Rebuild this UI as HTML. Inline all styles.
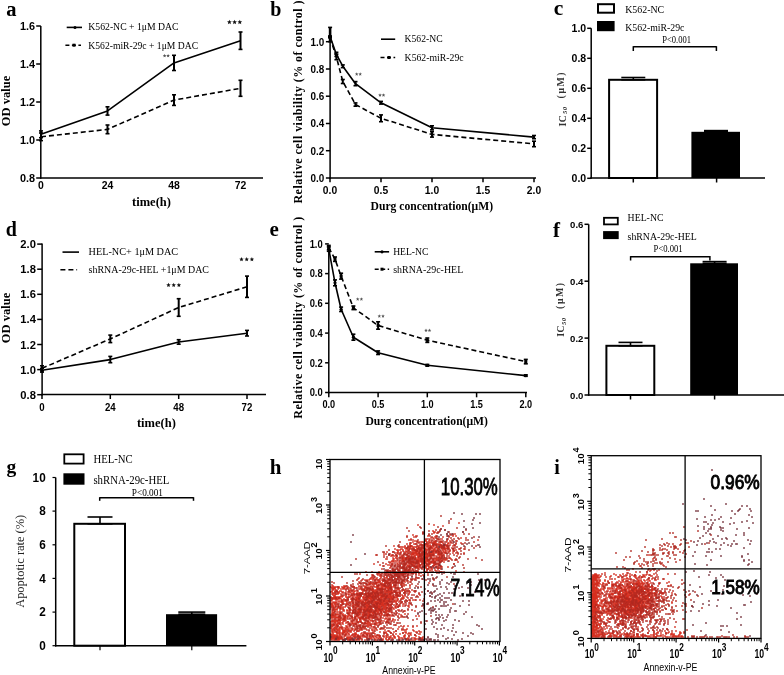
<!DOCTYPE html>
<html><head><meta charset="utf-8"><style>
html,body{margin:0;padding:0;background:#fff;}
svg{display:block;will-change:transform;}
</style></head><body>
<svg width="784" height="675" viewBox="0 0 784 675">
<rect width="784" height="675" fill="#fff"/>
<text x="6.3" y="15.6" font-family='"Liberation Serif",serif' font-size="20.5" font-weight="bold" text-anchor="start" fill="#000">a</text>
<line x1="40.8" y1="26.0" x2="40.8" y2="178.8" stroke="#000" stroke-width="1.5" stroke-linecap="butt"/>
<line x1="36.2" y1="178.0" x2="40.8" y2="178.0" stroke="#000" stroke-width="1.5" stroke-linecap="butt"/>
<text transform="translate(35.10,182.19) scale(0.93,1)" font-family='"Liberation Sans",sans-serif' font-size="11.7" font-weight="bold" text-anchor="end">0.8</text>
<line x1="36.2" y1="140.0" x2="40.8" y2="140.0" stroke="#000" stroke-width="1.5" stroke-linecap="butt"/>
<text transform="translate(35.10,144.19) scale(0.93,1)" font-family='"Liberation Sans",sans-serif' font-size="11.7" font-weight="bold" text-anchor="end">1.0</text>
<line x1="36.2" y1="102.0" x2="40.8" y2="102.0" stroke="#000" stroke-width="1.5" stroke-linecap="butt"/>
<text transform="translate(35.10,106.19) scale(0.93,1)" font-family='"Liberation Sans",sans-serif' font-size="11.7" font-weight="bold" text-anchor="end">1.2</text>
<line x1="36.2" y1="64.0" x2="40.8" y2="64.0" stroke="#000" stroke-width="1.5" stroke-linecap="butt"/>
<text transform="translate(35.10,68.19) scale(0.93,1)" font-family='"Liberation Sans",sans-serif' font-size="11.7" font-weight="bold" text-anchor="end">1.4</text>
<line x1="36.2" y1="26.0" x2="40.8" y2="26.0" stroke="#000" stroke-width="1.5" stroke-linecap="butt"/>
<text transform="translate(35.10,30.19) scale(0.93,1)" font-family='"Liberation Sans",sans-serif' font-size="11.7" font-weight="bold" text-anchor="end">1.6</text>
<line x1="40.0" y1="178.0" x2="263.0" y2="178.0" stroke="#000" stroke-width="1.5" stroke-linecap="butt"/>
<text transform="translate(41.00,188.80) scale(0.95,1)" font-family='"Liberation Sans",sans-serif' font-size="11" font-weight="bold" text-anchor="middle">0</text>
<text transform="translate(107.50,188.80) scale(0.95,1)" font-family='"Liberation Sans",sans-serif' font-size="11" font-weight="bold" text-anchor="middle">24</text>
<text transform="translate(174.01,188.80) scale(0.95,1)" font-family='"Liberation Sans",sans-serif' font-size="11" font-weight="bold" text-anchor="middle">48</text>
<text transform="translate(240.51,188.80) scale(0.95,1)" font-family='"Liberation Sans",sans-serif' font-size="11" font-weight="bold" text-anchor="middle">72</text>
<text x="10.0" y="101.0" font-family='"Liberation Serif",serif' font-size="12.5" font-weight="bold" text-anchor="middle" fill="#000" transform="rotate(-90 10.0 101.0)">OD value</text>
<text x="151.5" y="206.0" font-family='"Liberation Serif",serif' font-size="12.5" font-weight="bold" text-anchor="middle" fill="#000">time(h)</text>
<polyline points="41.0,134.3 107.5,110.9 174.0,62.9 240.5,40.7" fill="none" stroke="#000" stroke-width="1.6" stroke-linejoin="round"/>
<polyline points="41.0,136.8 107.5,129.4 174.0,100.1 240.5,88.3" fill="none" stroke="#000" stroke-width="1.6" stroke-linejoin="round" stroke-dasharray="5,3"/>
<line x1="41.0" y1="130.9" x2="41.0" y2="137.7" stroke="#000" stroke-width="2.0" stroke-linecap="butt"/>
<line x1="39.0" y1="130.9" x2="43.0" y2="130.9" stroke="#000" stroke-width="1.6" stroke-linecap="butt"/>
<line x1="39.0" y1="137.7" x2="43.0" y2="137.7" stroke="#000" stroke-width="1.6" stroke-linecap="butt"/>
<line x1="107.5" y1="106.8" x2="107.5" y2="115.1" stroke="#000" stroke-width="2.0" stroke-linecap="butt"/>
<line x1="105.5" y1="106.8" x2="109.5" y2="106.8" stroke="#000" stroke-width="1.6" stroke-linecap="butt"/>
<line x1="105.5" y1="115.1" x2="109.5" y2="115.1" stroke="#000" stroke-width="1.6" stroke-linecap="butt"/>
<line x1="174.0" y1="55.3" x2="174.0" y2="70.5" stroke="#000" stroke-width="2.0" stroke-linecap="butt"/>
<line x1="172.0" y1="55.3" x2="176.0" y2="55.3" stroke="#000" stroke-width="1.6" stroke-linecap="butt"/>
<line x1="172.0" y1="70.5" x2="176.0" y2="70.5" stroke="#000" stroke-width="1.6" stroke-linecap="butt"/>
<line x1="240.5" y1="32.0" x2="240.5" y2="49.4" stroke="#000" stroke-width="2.0" stroke-linecap="butt"/>
<line x1="238.5" y1="32.0" x2="242.5" y2="32.0" stroke="#000" stroke-width="1.6" stroke-linecap="butt"/>
<line x1="238.5" y1="49.4" x2="242.5" y2="49.4" stroke="#000" stroke-width="1.6" stroke-linecap="butt"/>
<line x1="41.0" y1="133.0" x2="41.0" y2="140.6" stroke="#000" stroke-width="2.0" stroke-linecap="butt"/>
<line x1="39.0" y1="133.0" x2="43.0" y2="133.0" stroke="#000" stroke-width="1.6" stroke-linecap="butt"/>
<line x1="39.0" y1="140.6" x2="43.0" y2="140.6" stroke="#000" stroke-width="1.6" stroke-linecap="butt"/>
<line x1="107.5" y1="125.0" x2="107.5" y2="133.7" stroke="#000" stroke-width="2.0" stroke-linecap="butt"/>
<line x1="105.5" y1="125.0" x2="109.5" y2="125.0" stroke="#000" stroke-width="1.6" stroke-linecap="butt"/>
<line x1="105.5" y1="133.7" x2="109.5" y2="133.7" stroke="#000" stroke-width="1.6" stroke-linecap="butt"/>
<line x1="174.0" y1="94.8" x2="174.0" y2="105.4" stroke="#000" stroke-width="2.0" stroke-linecap="butt"/>
<line x1="172.0" y1="94.8" x2="176.0" y2="94.8" stroke="#000" stroke-width="1.6" stroke-linecap="butt"/>
<line x1="172.0" y1="105.4" x2="176.0" y2="105.4" stroke="#000" stroke-width="1.6" stroke-linecap="butt"/>
<line x1="240.5" y1="80.3" x2="240.5" y2="96.3" stroke="#000" stroke-width="2.0" stroke-linecap="butt"/>
<line x1="238.5" y1="80.3" x2="242.5" y2="80.3" stroke="#000" stroke-width="1.6" stroke-linecap="butt"/>
<line x1="238.5" y1="96.3" x2="242.5" y2="96.3" stroke="#000" stroke-width="1.6" stroke-linecap="butt"/>
<polygon points="229.40,19.70 230.06,21.29 231.78,21.43 230.47,22.55 230.87,24.22 229.40,23.32 227.93,24.22 228.33,22.55 227.02,21.43 228.74,21.29" fill="#111"/>
<polygon points="234.60,19.70 235.26,21.29 236.98,21.43 235.67,22.55 236.07,24.22 234.60,23.32 233.13,24.22 233.53,22.55 232.22,21.43 233.94,21.29" fill="#111"/>
<polygon points="239.80,19.70 240.46,21.29 242.18,21.43 240.87,22.55 241.27,24.22 239.80,23.32 238.33,24.22 238.73,22.55 237.42,21.43 239.14,21.29" fill="#111"/>
<polygon points="164.60,53.90 165.10,55.11 166.41,55.21 165.41,56.06 165.72,57.34 164.60,56.65 163.48,57.34 163.79,56.06 162.79,55.21 164.10,55.11" fill="#555"/>
<polygon points="168.10,53.90 168.60,55.11 169.91,55.21 168.91,56.06 169.22,57.34 168.10,56.65 166.98,57.34 167.29,56.06 166.29,55.21 167.60,55.11" fill="#555"/>
<line x1="66.7" y1="27.4" x2="82.0" y2="27.4" stroke="#000" stroke-width="1.6" stroke-linecap="butt"/>
<circle cx="75.0" cy="27.4" r="1.5" fill="#000"/>
<line x1="65.4" y1="45.2" x2="81.0" y2="45.2" stroke="#000" stroke-width="1.6" stroke-linecap="butt" stroke-dasharray="4,2.5"/>
<rect x="72.5" y="43.7" width="3" height="3" fill="#000"/>
<text x="88.3" y="30.3" font-family='"Liberation Serif",serif' font-size="11" font-weight="normal" text-anchor="start" fill="#000" textLength="90.3" lengthAdjust="spacingAndGlyphs">K562-NC + 1μM DAC</text>
<text x="88.3" y="49.4" font-family='"Liberation Serif",serif' font-size="11" font-weight="normal" text-anchor="start" fill="#000" textLength="109.8" lengthAdjust="spacingAndGlyphs">K562-miR-29c + 1μM DAC</text>
<text x="270.3" y="15.6" font-family='"Liberation Serif",serif' font-size="20" font-weight="bold" text-anchor="start" fill="#000">b</text>
<line x1="330.1" y1="38.0" x2="330.1" y2="178.8" stroke="#000" stroke-width="1.5" stroke-linecap="butt"/>
<line x1="325.9" y1="178.0" x2="330.1" y2="178.0" stroke="#000" stroke-width="1.5" stroke-linecap="butt"/>
<text transform="translate(324.20,181.94) scale(0.9,1)" font-family='"Liberation Sans",sans-serif' font-size="11" font-weight="bold" text-anchor="end">0.0</text>
<line x1="325.9" y1="150.7" x2="330.1" y2="150.7" stroke="#000" stroke-width="1.5" stroke-linecap="butt"/>
<text transform="translate(324.20,154.68) scale(0.9,1)" font-family='"Liberation Sans",sans-serif' font-size="11" font-weight="bold" text-anchor="end">0.2</text>
<line x1="325.9" y1="123.5" x2="330.1" y2="123.5" stroke="#000" stroke-width="1.5" stroke-linecap="butt"/>
<text transform="translate(324.20,127.42) scale(0.9,1)" font-family='"Liberation Sans",sans-serif' font-size="11" font-weight="bold" text-anchor="end">0.4</text>
<line x1="325.9" y1="96.2" x2="330.1" y2="96.2" stroke="#000" stroke-width="1.5" stroke-linecap="butt"/>
<text transform="translate(324.20,100.16) scale(0.9,1)" font-family='"Liberation Sans",sans-serif' font-size="11" font-weight="bold" text-anchor="end">0.6</text>
<line x1="325.9" y1="69.0" x2="330.1" y2="69.0" stroke="#000" stroke-width="1.5" stroke-linecap="butt"/>
<text transform="translate(324.20,72.90) scale(0.9,1)" font-family='"Liberation Sans",sans-serif' font-size="11" font-weight="bold" text-anchor="end">0.8</text>
<line x1="325.9" y1="41.7" x2="330.1" y2="41.7" stroke="#000" stroke-width="1.5" stroke-linecap="butt"/>
<text transform="translate(324.20,45.64) scale(0.9,1)" font-family='"Liberation Sans",sans-serif' font-size="11" font-weight="bold" text-anchor="end">1.0</text>
<line x1="329.4" y1="178.0" x2="536.0" y2="178.0" stroke="#000" stroke-width="1.5" stroke-linecap="butt"/>
<line x1="330.0" y1="178.0" x2="330.0" y2="182.2" stroke="#000" stroke-width="1.5" stroke-linecap="butt"/>
<text transform="translate(330.00,193.80) scale(0.98,1)" font-family='"Liberation Sans",sans-serif' font-size="10.5" font-weight="bold" text-anchor="middle">0.0</text>
<line x1="381.0" y1="178.0" x2="381.0" y2="182.2" stroke="#000" stroke-width="1.5" stroke-linecap="butt"/>
<text transform="translate(381.00,193.80) scale(0.98,1)" font-family='"Liberation Sans",sans-serif' font-size="10.5" font-weight="bold" text-anchor="middle">0.5</text>
<line x1="432.0" y1="178.0" x2="432.0" y2="182.2" stroke="#000" stroke-width="1.5" stroke-linecap="butt"/>
<text transform="translate(432.00,193.80) scale(0.98,1)" font-family='"Liberation Sans",sans-serif' font-size="10.5" font-weight="bold" text-anchor="middle">1.0</text>
<line x1="483.0" y1="178.0" x2="483.0" y2="182.2" stroke="#000" stroke-width="1.5" stroke-linecap="butt"/>
<text transform="translate(483.00,193.80) scale(0.98,1)" font-family='"Liberation Sans",sans-serif' font-size="10.5" font-weight="bold" text-anchor="middle">1.5</text>
<line x1="534.0" y1="178.0" x2="534.0" y2="182.2" stroke="#000" stroke-width="1.5" stroke-linecap="butt"/>
<text transform="translate(534.00,193.80) scale(0.98,1)" font-family='"Liberation Sans",sans-serif' font-size="10.5" font-weight="bold" text-anchor="middle">2.0</text>
<text x="302.3" y="102.0" font-family='"Liberation Serif",serif' font-size="12" font-weight="bold" text-anchor="middle" fill="#000" transform="rotate(-90 302.3 102.0)" textLength="203" lengthAdjust="spacing">Relative cell viability (% of control )</text>
<text x="431.8" y="210.3" font-family='"Liberation Serif",serif' font-size="12" font-weight="bold" text-anchor="middle" fill="#000" textLength="122.5" lengthAdjust="spacingAndGlyphs">Durg concentration(μM)</text>
<polyline points="330.0,36.2 336.4,54.4 342.8,66.2 355.5,83.7 381.0,102.8 432.0,127.8 534.0,137.1" fill="none" stroke="#000" stroke-width="1.6" stroke-linejoin="round"/>
<polyline points="330.0,37.6 336.4,57.0 342.8,81.5 355.5,104.5 381.0,118.3 432.0,134.4 534.0,143.9" fill="none" stroke="#000" stroke-width="1.6" stroke-linejoin="round" stroke-dasharray="5,3"/>
<line x1="330.0" y1="36.2" x2="330.0" y2="36.2" stroke="#000" stroke-width="2.0" stroke-linecap="butt"/>
<line x1="328.0" y1="36.2" x2="332.0" y2="36.2" stroke="#000" stroke-width="1.6" stroke-linecap="butt"/>
<line x1="328.0" y1="36.2" x2="332.0" y2="36.2" stroke="#000" stroke-width="1.6" stroke-linecap="butt"/>
<line x1="336.4" y1="52.3" x2="336.4" y2="56.4" stroke="#000" stroke-width="2.0" stroke-linecap="butt"/>
<line x1="334.4" y1="52.3" x2="338.4" y2="52.3" stroke="#000" stroke-width="1.6" stroke-linecap="butt"/>
<line x1="334.4" y1="56.4" x2="338.4" y2="56.4" stroke="#000" stroke-width="1.6" stroke-linecap="butt"/>
<line x1="342.8" y1="64.9" x2="342.8" y2="67.6" stroke="#000" stroke-width="2.0" stroke-linecap="butt"/>
<line x1="340.8" y1="64.9" x2="344.8" y2="64.9" stroke="#000" stroke-width="1.6" stroke-linecap="butt"/>
<line x1="340.8" y1="67.6" x2="344.8" y2="67.6" stroke="#000" stroke-width="1.6" stroke-linecap="butt"/>
<line x1="355.5" y1="81.6" x2="355.5" y2="85.7" stroke="#000" stroke-width="2.0" stroke-linecap="butt"/>
<line x1="353.5" y1="81.6" x2="357.5" y2="81.6" stroke="#000" stroke-width="1.6" stroke-linecap="butt"/>
<line x1="353.5" y1="85.7" x2="357.5" y2="85.7" stroke="#000" stroke-width="1.6" stroke-linecap="butt"/>
<line x1="381.0" y1="101.4" x2="381.0" y2="104.1" stroke="#000" stroke-width="2.0" stroke-linecap="butt"/>
<line x1="379.0" y1="101.4" x2="383.0" y2="101.4" stroke="#000" stroke-width="1.6" stroke-linecap="butt"/>
<line x1="379.0" y1="104.1" x2="383.0" y2="104.1" stroke="#000" stroke-width="1.6" stroke-linecap="butt"/>
<line x1="432.0" y1="125.8" x2="432.0" y2="129.9" stroke="#000" stroke-width="2.0" stroke-linecap="butt"/>
<line x1="430.0" y1="125.8" x2="434.0" y2="125.8" stroke="#000" stroke-width="1.6" stroke-linecap="butt"/>
<line x1="430.0" y1="129.9" x2="434.0" y2="129.9" stroke="#000" stroke-width="1.6" stroke-linecap="butt"/>
<line x1="534.0" y1="135.5" x2="534.0" y2="138.7" stroke="#000" stroke-width="2.0" stroke-linecap="butt"/>
<line x1="532.0" y1="135.5" x2="536.0" y2="135.5" stroke="#000" stroke-width="1.6" stroke-linecap="butt"/>
<line x1="532.0" y1="138.7" x2="536.0" y2="138.7" stroke="#000" stroke-width="1.6" stroke-linecap="butt"/>
<line x1="330.0" y1="37.6" x2="330.0" y2="37.6" stroke="#000" stroke-width="2.0" stroke-linecap="butt"/>
<line x1="328.0" y1="37.6" x2="332.0" y2="37.6" stroke="#000" stroke-width="1.6" stroke-linecap="butt"/>
<line x1="328.0" y1="37.6" x2="332.0" y2="37.6" stroke="#000" stroke-width="1.6" stroke-linecap="butt"/>
<line x1="336.4" y1="54.2" x2="336.4" y2="59.7" stroke="#000" stroke-width="2.0" stroke-linecap="butt"/>
<line x1="334.4" y1="54.2" x2="338.4" y2="54.2" stroke="#000" stroke-width="1.6" stroke-linecap="butt"/>
<line x1="334.4" y1="59.7" x2="338.4" y2="59.7" stroke="#000" stroke-width="1.6" stroke-linecap="butt"/>
<line x1="342.8" y1="79.5" x2="342.8" y2="83.5" stroke="#000" stroke-width="2.0" stroke-linecap="butt"/>
<line x1="340.8" y1="79.5" x2="344.8" y2="79.5" stroke="#000" stroke-width="1.6" stroke-linecap="butt"/>
<line x1="340.8" y1="83.5" x2="344.8" y2="83.5" stroke="#000" stroke-width="1.6" stroke-linecap="butt"/>
<line x1="355.5" y1="102.9" x2="355.5" y2="106.2" stroke="#000" stroke-width="2.0" stroke-linecap="butt"/>
<line x1="353.5" y1="102.9" x2="357.5" y2="102.9" stroke="#000" stroke-width="1.6" stroke-linecap="butt"/>
<line x1="353.5" y1="106.2" x2="357.5" y2="106.2" stroke="#000" stroke-width="1.6" stroke-linecap="butt"/>
<line x1="381.0" y1="114.9" x2="381.0" y2="121.7" stroke="#000" stroke-width="2.0" stroke-linecap="butt"/>
<line x1="379.0" y1="114.9" x2="383.0" y2="114.9" stroke="#000" stroke-width="1.6" stroke-linecap="butt"/>
<line x1="379.0" y1="121.7" x2="383.0" y2="121.7" stroke="#000" stroke-width="1.6" stroke-linecap="butt"/>
<line x1="432.0" y1="131.7" x2="432.0" y2="137.1" stroke="#000" stroke-width="2.0" stroke-linecap="butt"/>
<line x1="430.0" y1="131.7" x2="434.0" y2="131.7" stroke="#000" stroke-width="1.6" stroke-linecap="butt"/>
<line x1="430.0" y1="137.1" x2="434.0" y2="137.1" stroke="#000" stroke-width="1.6" stroke-linecap="butt"/>
<line x1="534.0" y1="141.2" x2="534.0" y2="146.7" stroke="#000" stroke-width="2.0" stroke-linecap="butt"/>
<line x1="532.0" y1="141.2" x2="536.0" y2="141.2" stroke="#000" stroke-width="1.6" stroke-linecap="butt"/>
<line x1="532.0" y1="146.7" x2="536.0" y2="146.7" stroke="#000" stroke-width="1.6" stroke-linecap="butt"/>
<line x1="330.1" y1="27.4" x2="330.1" y2="41.7" stroke="#000" stroke-width="2.6" stroke-linecap="butt"/>
<line x1="328.1" y1="27.4" x2="332.1" y2="27.4" stroke="#000" stroke-width="1.6" stroke-linecap="butt"/>
<line x1="328.1" y1="41.7" x2="332.1" y2="41.7" stroke="#000" stroke-width="1.6" stroke-linecap="butt"/>
<polygon points="356.70,72.20 357.20,73.41 358.51,73.51 357.51,74.36 357.82,75.64 356.70,74.95 355.58,75.64 355.89,74.36 354.89,73.51 356.20,73.41" fill="#555"/>
<polygon points="360.20,72.20 360.70,73.41 362.01,73.51 361.01,74.36 361.32,75.64 360.20,74.95 359.08,75.64 359.39,74.36 358.39,73.51 359.70,73.41" fill="#555"/>
<polygon points="380.00,93.30 380.50,94.51 381.81,94.61 380.81,95.46 381.12,96.74 380.00,96.06 378.88,96.74 379.19,95.46 378.19,94.61 379.50,94.51" fill="#555"/>
<polygon points="383.50,93.30 384.00,94.51 385.31,94.61 384.31,95.46 384.62,96.74 383.50,96.06 382.38,96.74 382.69,95.46 381.69,94.61 383.00,94.51" fill="#555"/>
<line x1="381.0" y1="39.2" x2="395.2" y2="39.2" stroke="#000" stroke-width="1.6" stroke-linecap="butt"/>
<line x1="380.5" y1="57.5" x2="395.2" y2="57.5" stroke="#000" stroke-width="1.6" stroke-linecap="butt" stroke-dasharray="4,2.5"/>
<rect x="387.5" y="56.0" width="3" height="3" fill="#000"/>
<text x="404.6" y="42.1" font-family='"Liberation Serif",serif' font-size="9.8" font-weight="normal" text-anchor="start" fill="#000" textLength="38" lengthAdjust="spacingAndGlyphs">K562-NC</text>
<text x="404.6" y="60.6" font-family='"Liberation Serif",serif' font-size="9.8" font-weight="normal" text-anchor="start" fill="#000" textLength="59" lengthAdjust="spacingAndGlyphs">K562-miR-29c</text>
<text x="553.8" y="15.4" font-family='"Liberation Serif",serif' font-size="21.5" font-weight="bold" text-anchor="start" fill="#000">c</text>
<line x1="591.2" y1="28.3" x2="591.2" y2="178.8" stroke="#000" stroke-width="1.5" stroke-linecap="butt"/>
<line x1="587.2" y1="178.3" x2="591.2" y2="178.3" stroke="#000" stroke-width="1.5" stroke-linecap="butt"/>
<text transform="translate(586.20,182.49) scale(0.9,1)" font-family='"Liberation Sans",sans-serif' font-size="11.7" font-weight="bold" text-anchor="end">0.0</text>
<line x1="587.2" y1="148.3" x2="591.2" y2="148.3" stroke="#000" stroke-width="1.5" stroke-linecap="butt"/>
<text transform="translate(586.20,152.49) scale(0.9,1)" font-family='"Liberation Sans",sans-serif' font-size="11.7" font-weight="bold" text-anchor="end">0.2</text>
<line x1="587.2" y1="118.3" x2="591.2" y2="118.3" stroke="#000" stroke-width="1.5" stroke-linecap="butt"/>
<text transform="translate(586.20,122.49) scale(0.9,1)" font-family='"Liberation Sans",sans-serif' font-size="11.7" font-weight="bold" text-anchor="end">0.4</text>
<line x1="587.2" y1="88.3" x2="591.2" y2="88.3" stroke="#000" stroke-width="1.5" stroke-linecap="butt"/>
<text transform="translate(586.20,92.49) scale(0.9,1)" font-family='"Liberation Sans",sans-serif' font-size="11.7" font-weight="bold" text-anchor="end">0.6</text>
<line x1="587.2" y1="58.3" x2="591.2" y2="58.3" stroke="#000" stroke-width="1.5" stroke-linecap="butt"/>
<text transform="translate(586.20,62.49) scale(0.9,1)" font-family='"Liberation Sans",sans-serif' font-size="11.7" font-weight="bold" text-anchor="end">0.8</text>
<line x1="587.2" y1="28.3" x2="591.2" y2="28.3" stroke="#000" stroke-width="1.5" stroke-linecap="butt"/>
<text transform="translate(586.20,32.49) scale(0.9,1)" font-family='"Liberation Sans",sans-serif' font-size="11.7" font-weight="bold" text-anchor="end">1.0</text>
<line x1="590.2" y1="178.0" x2="765.0" y2="178.0" stroke="#000" stroke-width="1.5" stroke-linecap="butt"/>
<line x1="633.3" y1="178.0" x2="633.3" y2="182.5" stroke="#000" stroke-width="1.5" stroke-linecap="butt"/>
<line x1="716.6" y1="178.0" x2="716.6" y2="182.5" stroke="#000" stroke-width="1.5" stroke-linecap="butt"/>
<rect x="609.1" y="79.8" width="48.0" height="98.2" fill="#fff" stroke="#000" stroke-width="2"/>
<line x1="633.3" y1="77.5" x2="633.3" y2="79.8" stroke="#000" stroke-width="1.6" stroke-linecap="butt"/>
<line x1="621.3" y1="77.5" x2="645.3" y2="77.5" stroke="#000" stroke-width="1.6" stroke-linecap="butt"/>
<line x1="621.3" y1="79.8" x2="645.3" y2="79.8" stroke="#000" stroke-width="1.6" stroke-linecap="butt"/>
<rect x="691.4" y="131.8" width="48.6" height="46.2" fill="#000"/>
<line x1="716.0" y1="130.6" x2="716.0" y2="131.8" stroke="#000" stroke-width="1.6" stroke-linecap="butt"/>
<line x1="704.0" y1="130.6" x2="728.0" y2="130.6" stroke="#000" stroke-width="1.6" stroke-linecap="butt"/>
<line x1="704.0" y1="131.8" x2="728.0" y2="131.8" stroke="#000" stroke-width="1.6" stroke-linecap="butt"/>
<line x1="633.3" y1="46.8" x2="716.4" y2="46.8" stroke="#000" stroke-width="1.5" stroke-linecap="butt"/>
<line x1="633.3" y1="46.2" x2="633.3" y2="51.0" stroke="#000" stroke-width="1.5" stroke-linecap="butt"/>
<line x1="716.4" y1="46.2" x2="716.4" y2="51.0" stroke="#000" stroke-width="1.5" stroke-linecap="butt"/>
<text x="662.2" y="43.0" font-family='"Liberation Serif",serif' font-size="9.5" font-weight="normal" text-anchor="start" fill="#000" textLength="28.8" lengthAdjust="spacingAndGlyphs">P&lt;0.001</text>
<rect x="598.0" y="4.2" width="16.0" height="8.5" fill="#fff" stroke="#000" stroke-width="2"/>
<rect x="597.0" y="21.0" width="17.6" height="10.2" fill="#000"/>
<text x="625.2" y="12.5" font-family='"Liberation Serif",serif' font-size="10.7" font-weight="normal" text-anchor="start" fill="#000" textLength="39" lengthAdjust="spacingAndGlyphs">K562-NC</text>
<text x="625.2" y="31.2" font-family='"Liberation Serif",serif' font-size="10.7" font-weight="normal" text-anchor="start" fill="#000" textLength="59.2" lengthAdjust="spacingAndGlyphs">K562-miR-29c</text>
<g transform="translate(565.6,126.4) rotate(-90)" fill="#333" font-weight="bold" font-family='"Liberation Serif",serif'><text x="0" y="0" font-size="9.8" textLength="11.2" lengthAdjust="spacing">IC</text><text x="12.4" y="1.6" font-size="6.5" font-style="italic" textLength="7" lengthAdjust="spacing">50</text><text x="28" y="-1.2" font-size="9.8" textLength="26" lengthAdjust="spacing">(μM)</text></g>
<text x="5.8" y="236.2" font-family='"Liberation Serif",serif' font-size="20" font-weight="bold" text-anchor="start" fill="#000">d</text>
<line x1="42.1" y1="243.6" x2="42.1" y2="395.4" stroke="#000" stroke-width="1.5" stroke-linecap="butt"/>
<line x1="37.2" y1="394.7" x2="42.1" y2="394.7" stroke="#000" stroke-width="1.5" stroke-linecap="butt"/>
<text transform="translate(35.90,398.71) scale(1.0,1)" font-family='"Liberation Sans",sans-serif' font-size="11.2" font-weight="bold" text-anchor="end">0.8</text>
<line x1="37.2" y1="369.6" x2="42.1" y2="369.6" stroke="#000" stroke-width="1.5" stroke-linecap="butt"/>
<text transform="translate(35.90,373.61) scale(1.0,1)" font-family='"Liberation Sans",sans-serif' font-size="11.2" font-weight="bold" text-anchor="end">1.0</text>
<line x1="37.2" y1="344.5" x2="42.1" y2="344.5" stroke="#000" stroke-width="1.5" stroke-linecap="butt"/>
<text transform="translate(35.90,348.51) scale(1.0,1)" font-family='"Liberation Sans",sans-serif' font-size="11.2" font-weight="bold" text-anchor="end">1.2</text>
<line x1="37.2" y1="319.4" x2="42.1" y2="319.4" stroke="#000" stroke-width="1.5" stroke-linecap="butt"/>
<text transform="translate(35.90,323.41) scale(1.0,1)" font-family='"Liberation Sans",sans-serif' font-size="11.2" font-weight="bold" text-anchor="end">1.4</text>
<line x1="37.2" y1="294.3" x2="42.1" y2="294.3" stroke="#000" stroke-width="1.5" stroke-linecap="butt"/>
<text transform="translate(35.90,298.31) scale(1.0,1)" font-family='"Liberation Sans",sans-serif' font-size="11.2" font-weight="bold" text-anchor="end">1.6</text>
<line x1="37.2" y1="269.2" x2="42.1" y2="269.2" stroke="#000" stroke-width="1.5" stroke-linecap="butt"/>
<text transform="translate(35.90,273.21) scale(1.0,1)" font-family='"Liberation Sans",sans-serif' font-size="11.2" font-weight="bold" text-anchor="end">1.8</text>
<line x1="37.2" y1="244.1" x2="42.1" y2="244.1" stroke="#000" stroke-width="1.5" stroke-linecap="butt"/>
<text transform="translate(35.90,248.11) scale(1.0,1)" font-family='"Liberation Sans",sans-serif' font-size="11.2" font-weight="bold" text-anchor="end">2.0</text>
<line x1="41.4" y1="394.6" x2="266.0" y2="394.6" stroke="#000" stroke-width="1.5" stroke-linecap="butt"/>
<line x1="42.0" y1="394.6" x2="42.0" y2="399.0" stroke="#000" stroke-width="1.5" stroke-linecap="butt"/>
<text transform="translate(42.00,411.30) scale(0.92,1)" font-family='"Liberation Sans",sans-serif' font-size="10.5" font-weight="bold" text-anchor="middle">0</text>
<line x1="110.3" y1="394.6" x2="110.3" y2="399.0" stroke="#000" stroke-width="1.5" stroke-linecap="butt"/>
<text transform="translate(110.33,411.30) scale(0.92,1)" font-family='"Liberation Sans",sans-serif' font-size="10.5" font-weight="bold" text-anchor="middle">24</text>
<line x1="178.7" y1="394.6" x2="178.7" y2="399.0" stroke="#000" stroke-width="1.5" stroke-linecap="butt"/>
<text transform="translate(178.66,411.30) scale(0.92,1)" font-family='"Liberation Sans",sans-serif' font-size="10.5" font-weight="bold" text-anchor="middle">48</text>
<line x1="247.0" y1="394.6" x2="247.0" y2="399.0" stroke="#000" stroke-width="1.5" stroke-linecap="butt"/>
<text transform="translate(246.98,411.30) scale(0.92,1)" font-family='"Liberation Sans",sans-serif' font-size="10.5" font-weight="bold" text-anchor="middle">72</text>
<text x="10.0" y="318.0" font-family='"Liberation Serif",serif' font-size="12.5" font-weight="bold" text-anchor="middle" fill="#000" transform="rotate(-90 10.0 318.0)">OD value</text>
<text x="156.4" y="427.3" font-family='"Liberation Serif",serif' font-size="12.5" font-weight="bold" text-anchor="middle" fill="#000">time(h)</text>
<polyline points="42.0,370.2 110.3,359.6 178.7,342.0 247.0,333.2" fill="none" stroke="#000" stroke-width="1.6" stroke-linejoin="round"/>
<polyline points="42.0,368.3 110.3,338.9 178.7,307.5 247.0,286.8" fill="none" stroke="#000" stroke-width="1.6" stroke-linejoin="round" stroke-dasharray="5,3"/>
<line x1="42.0" y1="368.3" x2="42.0" y2="372.1" stroke="#000" stroke-width="2.0" stroke-linecap="butt"/>
<line x1="40.0" y1="368.3" x2="44.0" y2="368.3" stroke="#000" stroke-width="1.6" stroke-linecap="butt"/>
<line x1="40.0" y1="372.1" x2="44.0" y2="372.1" stroke="#000" stroke-width="1.6" stroke-linecap="butt"/>
<line x1="110.3" y1="356.4" x2="110.3" y2="362.7" stroke="#000" stroke-width="2.0" stroke-linecap="butt"/>
<line x1="108.3" y1="356.4" x2="112.3" y2="356.4" stroke="#000" stroke-width="1.6" stroke-linecap="butt"/>
<line x1="108.3" y1="362.7" x2="112.3" y2="362.7" stroke="#000" stroke-width="1.6" stroke-linecap="butt"/>
<line x1="178.7" y1="339.7" x2="178.7" y2="344.2" stroke="#000" stroke-width="2.0" stroke-linecap="butt"/>
<line x1="176.7" y1="339.7" x2="180.7" y2="339.7" stroke="#000" stroke-width="1.6" stroke-linecap="butt"/>
<line x1="176.7" y1="344.2" x2="180.7" y2="344.2" stroke="#000" stroke-width="1.6" stroke-linecap="butt"/>
<line x1="247.0" y1="330.4" x2="247.0" y2="336.0" stroke="#000" stroke-width="2.0" stroke-linecap="butt"/>
<line x1="245.0" y1="330.4" x2="249.0" y2="330.4" stroke="#000" stroke-width="1.6" stroke-linecap="butt"/>
<line x1="245.0" y1="336.0" x2="249.0" y2="336.0" stroke="#000" stroke-width="1.6" stroke-linecap="butt"/>
<line x1="42.0" y1="365.8" x2="42.0" y2="370.9" stroke="#000" stroke-width="2.0" stroke-linecap="butt"/>
<line x1="40.0" y1="365.8" x2="44.0" y2="365.8" stroke="#000" stroke-width="1.6" stroke-linecap="butt"/>
<line x1="40.0" y1="370.9" x2="44.0" y2="370.9" stroke="#000" stroke-width="1.6" stroke-linecap="butt"/>
<line x1="110.3" y1="335.1" x2="110.3" y2="342.6" stroke="#000" stroke-width="2.0" stroke-linecap="butt"/>
<line x1="108.3" y1="335.1" x2="112.3" y2="335.1" stroke="#000" stroke-width="1.6" stroke-linecap="butt"/>
<line x1="108.3" y1="342.6" x2="112.3" y2="342.6" stroke="#000" stroke-width="1.6" stroke-linecap="butt"/>
<line x1="178.7" y1="298.7" x2="178.7" y2="316.3" stroke="#000" stroke-width="2.0" stroke-linecap="butt"/>
<line x1="176.7" y1="298.7" x2="180.7" y2="298.7" stroke="#000" stroke-width="1.6" stroke-linecap="butt"/>
<line x1="176.7" y1="316.3" x2="180.7" y2="316.3" stroke="#000" stroke-width="1.6" stroke-linecap="butt"/>
<line x1="247.0" y1="276.1" x2="247.0" y2="297.4" stroke="#000" stroke-width="2.0" stroke-linecap="butt"/>
<line x1="245.0" y1="276.1" x2="249.0" y2="276.1" stroke="#000" stroke-width="1.6" stroke-linecap="butt"/>
<line x1="245.0" y1="297.4" x2="249.0" y2="297.4" stroke="#000" stroke-width="1.6" stroke-linecap="butt"/>
<polygon points="168.50,282.80 169.11,284.26 170.69,284.39 169.48,285.42 169.85,286.96 168.50,286.14 167.15,286.96 167.52,285.42 166.31,284.39 167.89,284.26" fill="#111"/>
<polygon points="173.70,282.80 174.31,284.26 175.89,284.39 174.68,285.42 175.05,286.96 173.70,286.14 172.35,286.96 172.72,285.42 171.51,284.39 173.09,284.26" fill="#111"/>
<polygon points="178.90,282.80 179.51,284.26 181.09,284.39 179.88,285.42 180.25,286.96 178.90,286.14 177.55,286.96 177.92,285.42 176.71,284.39 178.29,284.26" fill="#111"/>
<polygon points="241.50,257.10 242.11,258.56 243.69,258.69 242.48,259.72 242.85,261.26 241.50,260.44 240.15,261.26 240.52,259.72 239.31,258.69 240.89,258.56" fill="#111"/>
<polygon points="246.70,257.10 247.31,258.56 248.89,258.69 247.68,259.72 248.05,261.26 246.70,260.44 245.35,261.26 245.72,259.72 244.51,258.69 246.09,258.56" fill="#111"/>
<polygon points="251.90,257.10 252.51,258.56 254.09,258.69 252.88,259.72 253.25,261.26 251.90,260.44 250.55,261.26 250.92,259.72 249.71,258.69 251.29,258.56" fill="#111"/>
<line x1="62.5" y1="252.1" x2="79.0" y2="252.1" stroke="#000" stroke-width="1.6" stroke-linecap="butt"/>
<line x1="60.4" y1="269.8" x2="77.1" y2="269.8" stroke="#000" stroke-width="1.6" stroke-linecap="butt" stroke-dasharray="5,3"/>
<text x="88.6" y="254.8" font-family='"Liberation Serif",serif' font-size="10.8" font-weight="normal" text-anchor="start" fill="#000" textLength="89.6" lengthAdjust="spacingAndGlyphs">HEL-NC+ 1μM DAC</text>
<text x="88.6" y="272.8" font-family='"Liberation Serif",serif' font-size="10.8" font-weight="normal" text-anchor="start" fill="#000" textLength="120.4" lengthAdjust="spacingAndGlyphs">shRNA-29c-HEL +1μM DAC</text>
<text x="269.6" y="236.1" font-family='"Liberation Serif",serif' font-size="21" font-weight="bold" text-anchor="start" fill="#000">e</text>
<line x1="328.8" y1="245.1" x2="328.8" y2="393.2" stroke="#000" stroke-width="1.5" stroke-linecap="butt"/>
<line x1="325.1" y1="392.5" x2="328.8" y2="392.5" stroke="#000" stroke-width="1.5" stroke-linecap="butt"/>
<text transform="translate(322.70,396.37) scale(0.87,1)" font-family='"Liberation Sans",sans-serif' font-size="10.8" font-weight="bold" text-anchor="end">0.0</text>
<line x1="325.1" y1="362.8" x2="328.8" y2="362.8" stroke="#000" stroke-width="1.5" stroke-linecap="butt"/>
<text transform="translate(322.70,366.65) scale(0.87,1)" font-family='"Liberation Sans",sans-serif' font-size="10.8" font-weight="bold" text-anchor="end">0.2</text>
<line x1="325.1" y1="333.1" x2="328.8" y2="333.1" stroke="#000" stroke-width="1.5" stroke-linecap="butt"/>
<text transform="translate(322.70,336.93) scale(0.87,1)" font-family='"Liberation Sans",sans-serif' font-size="10.8" font-weight="bold" text-anchor="end">0.4</text>
<line x1="325.1" y1="303.3" x2="328.8" y2="303.3" stroke="#000" stroke-width="1.5" stroke-linecap="butt"/>
<text transform="translate(322.70,307.21) scale(0.87,1)" font-family='"Liberation Sans",sans-serif' font-size="10.8" font-weight="bold" text-anchor="end">0.6</text>
<line x1="325.1" y1="273.6" x2="328.8" y2="273.6" stroke="#000" stroke-width="1.5" stroke-linecap="butt"/>
<text transform="translate(322.70,277.49) scale(0.87,1)" font-family='"Liberation Sans",sans-serif' font-size="10.8" font-weight="bold" text-anchor="end">0.8</text>
<line x1="325.1" y1="243.9" x2="328.8" y2="243.9" stroke="#000" stroke-width="1.5" stroke-linecap="butt"/>
<text transform="translate(322.70,247.77) scale(0.87,1)" font-family='"Liberation Sans",sans-serif' font-size="10.8" font-weight="bold" text-anchor="end">1.0</text>
<line x1="328.1" y1="392.5" x2="527.0" y2="392.5" stroke="#000" stroke-width="1.5" stroke-linecap="butt"/>
<line x1="328.8" y1="392.5" x2="328.8" y2="397.3" stroke="#000" stroke-width="1.5" stroke-linecap="butt"/>
<text transform="translate(328.80,408.20) scale(0.89,1)" font-family='"Liberation Sans",sans-serif' font-size="10.3" font-weight="bold" text-anchor="middle">0.0</text>
<line x1="378.1" y1="392.5" x2="378.1" y2="397.3" stroke="#000" stroke-width="1.5" stroke-linecap="butt"/>
<text transform="translate(378.05,408.20) scale(0.89,1)" font-family='"Liberation Sans",sans-serif' font-size="10.3" font-weight="bold" text-anchor="middle">0.5</text>
<line x1="427.3" y1="392.5" x2="427.3" y2="397.3" stroke="#000" stroke-width="1.5" stroke-linecap="butt"/>
<text transform="translate(427.30,408.20) scale(0.89,1)" font-family='"Liberation Sans",sans-serif' font-size="10.3" font-weight="bold" text-anchor="middle">1.0</text>
<line x1="476.6" y1="392.5" x2="476.6" y2="397.3" stroke="#000" stroke-width="1.5" stroke-linecap="butt"/>
<text transform="translate(476.55,408.20) scale(0.89,1)" font-family='"Liberation Sans",sans-serif' font-size="10.3" font-weight="bold" text-anchor="middle">1.5</text>
<line x1="525.8" y1="392.5" x2="525.8" y2="397.3" stroke="#000" stroke-width="1.5" stroke-linecap="butt"/>
<text transform="translate(525.80,408.20) scale(0.89,1)" font-family='"Liberation Sans",sans-serif' font-size="10.3" font-weight="bold" text-anchor="middle">2.0</text>
<text x="302.3" y="317.7" font-family='"Liberation Serif",serif' font-size="12" font-weight="bold" text-anchor="middle" fill="#000" transform="rotate(-90 302.3 317.7)" textLength="202" lengthAdjust="spacing">Relative cell viability (% of control )</text>
<text x="426.7" y="424.6" font-family='"Liberation Serif",serif' font-size="12" font-weight="bold" text-anchor="middle" fill="#000" textLength="122.5" lengthAdjust="spacingAndGlyphs">Durg concentration(μM)</text>
<polyline points="328.8,249.1 335.0,282.8 341.1,309.3 353.4,337.2 378.1,352.7 427.3,365.3 525.8,375.6" fill="none" stroke="#000" stroke-width="1.6" stroke-linejoin="round"/>
<polyline points="328.8,247.6 335.0,259.2 341.1,276.1 353.4,307.8 378.1,325.5 427.3,340.2 525.8,361.6" fill="none" stroke="#000" stroke-width="1.6" stroke-linejoin="round" stroke-dasharray="5,3"/>
<line x1="328.8" y1="246.9" x2="328.8" y2="251.3" stroke="#000" stroke-width="2.0" stroke-linecap="butt"/>
<line x1="326.8" y1="246.9" x2="330.8" y2="246.9" stroke="#000" stroke-width="1.6" stroke-linecap="butt"/>
<line x1="326.8" y1="251.3" x2="330.8" y2="251.3" stroke="#000" stroke-width="1.6" stroke-linecap="butt"/>
<circle cx="328.8" cy="249.1" r="1.6" fill="#000"/>
<line x1="335.0" y1="279.9" x2="335.0" y2="285.8" stroke="#000" stroke-width="2.0" stroke-linecap="butt"/>
<line x1="333.0" y1="279.9" x2="337.0" y2="279.9" stroke="#000" stroke-width="1.6" stroke-linecap="butt"/>
<line x1="333.0" y1="285.8" x2="337.0" y2="285.8" stroke="#000" stroke-width="1.6" stroke-linecap="butt"/>
<circle cx="335.0" cy="282.8" r="1.6" fill="#000"/>
<line x1="341.1" y1="307.1" x2="341.1" y2="311.5" stroke="#000" stroke-width="2.0" stroke-linecap="butt"/>
<line x1="339.1" y1="307.1" x2="343.1" y2="307.1" stroke="#000" stroke-width="1.6" stroke-linecap="butt"/>
<line x1="339.1" y1="311.5" x2="343.1" y2="311.5" stroke="#000" stroke-width="1.6" stroke-linecap="butt"/>
<circle cx="341.1" cy="309.3" r="1.6" fill="#000"/>
<line x1="353.4" y1="334.2" x2="353.4" y2="340.2" stroke="#000" stroke-width="2.0" stroke-linecap="butt"/>
<line x1="351.4" y1="334.2" x2="355.4" y2="334.2" stroke="#000" stroke-width="1.6" stroke-linecap="butt"/>
<line x1="351.4" y1="340.2" x2="355.4" y2="340.2" stroke="#000" stroke-width="1.6" stroke-linecap="butt"/>
<circle cx="353.4" cy="337.2" r="1.6" fill="#000"/>
<line x1="378.1" y1="350.9" x2="378.1" y2="354.5" stroke="#000" stroke-width="2.0" stroke-linecap="butt"/>
<line x1="376.1" y1="350.9" x2="380.1" y2="350.9" stroke="#000" stroke-width="1.6" stroke-linecap="butt"/>
<line x1="376.1" y1="354.5" x2="380.1" y2="354.5" stroke="#000" stroke-width="1.6" stroke-linecap="butt"/>
<circle cx="378.1" cy="352.7" r="1.6" fill="#000"/>
<line x1="427.3" y1="364.4" x2="427.3" y2="366.2" stroke="#000" stroke-width="2.0" stroke-linecap="butt"/>
<line x1="425.3" y1="364.4" x2="429.3" y2="364.4" stroke="#000" stroke-width="1.6" stroke-linecap="butt"/>
<line x1="425.3" y1="366.2" x2="429.3" y2="366.2" stroke="#000" stroke-width="1.6" stroke-linecap="butt"/>
<circle cx="427.3" cy="365.3" r="1.6" fill="#000"/>
<line x1="525.8" y1="374.8" x2="525.8" y2="376.3" stroke="#000" stroke-width="2.0" stroke-linecap="butt"/>
<line x1="523.8" y1="374.8" x2="527.8" y2="374.8" stroke="#000" stroke-width="1.6" stroke-linecap="butt"/>
<line x1="523.8" y1="376.3" x2="527.8" y2="376.3" stroke="#000" stroke-width="1.6" stroke-linecap="butt"/>
<circle cx="525.8" cy="375.6" r="1.6" fill="#000"/>
<line x1="328.8" y1="245.4" x2="328.8" y2="249.8" stroke="#000" stroke-width="2.0" stroke-linecap="butt"/>
<line x1="326.8" y1="245.4" x2="330.8" y2="245.4" stroke="#000" stroke-width="1.6" stroke-linecap="butt"/>
<line x1="326.8" y1="249.8" x2="330.8" y2="249.8" stroke="#000" stroke-width="1.6" stroke-linecap="butt"/>
<rect x="327.3" y="246.1" width="3" height="3" fill="#000"/>
<line x1="335.0" y1="257.0" x2="335.0" y2="261.4" stroke="#000" stroke-width="2.0" stroke-linecap="butt"/>
<line x1="333.0" y1="257.0" x2="337.0" y2="257.0" stroke="#000" stroke-width="1.6" stroke-linecap="butt"/>
<line x1="333.0" y1="261.4" x2="337.0" y2="261.4" stroke="#000" stroke-width="1.6" stroke-linecap="butt"/>
<rect x="333.5" y="257.7" width="3" height="3" fill="#000"/>
<line x1="341.1" y1="273.2" x2="341.1" y2="279.1" stroke="#000" stroke-width="2.0" stroke-linecap="butt"/>
<line x1="339.1" y1="273.2" x2="343.1" y2="273.2" stroke="#000" stroke-width="1.6" stroke-linecap="butt"/>
<line x1="339.1" y1="279.1" x2="343.1" y2="279.1" stroke="#000" stroke-width="1.6" stroke-linecap="butt"/>
<rect x="339.6" y="274.6" width="3" height="3" fill="#000"/>
<line x1="353.4" y1="306.0" x2="353.4" y2="309.6" stroke="#000" stroke-width="2.0" stroke-linecap="butt"/>
<line x1="351.4" y1="306.0" x2="355.4" y2="306.0" stroke="#000" stroke-width="1.6" stroke-linecap="butt"/>
<line x1="351.4" y1="309.6" x2="355.4" y2="309.6" stroke="#000" stroke-width="1.6" stroke-linecap="butt"/>
<rect x="351.9" y="306.3" width="3" height="3" fill="#000"/>
<line x1="378.1" y1="321.8" x2="378.1" y2="329.2" stroke="#000" stroke-width="2.0" stroke-linecap="butt"/>
<line x1="376.1" y1="321.8" x2="380.1" y2="321.8" stroke="#000" stroke-width="1.6" stroke-linecap="butt"/>
<line x1="376.1" y1="329.2" x2="380.1" y2="329.2" stroke="#000" stroke-width="1.6" stroke-linecap="butt"/>
<rect x="376.6" y="324.0" width="3" height="3" fill="#000"/>
<line x1="427.3" y1="338.0" x2="427.3" y2="342.4" stroke="#000" stroke-width="2.0" stroke-linecap="butt"/>
<line x1="425.3" y1="338.0" x2="429.3" y2="338.0" stroke="#000" stroke-width="1.6" stroke-linecap="butt"/>
<line x1="425.3" y1="342.4" x2="429.3" y2="342.4" stroke="#000" stroke-width="1.6" stroke-linecap="butt"/>
<rect x="425.8" y="338.7" width="3" height="3" fill="#000"/>
<line x1="525.8" y1="359.4" x2="525.8" y2="363.8" stroke="#000" stroke-width="2.0" stroke-linecap="butt"/>
<line x1="523.8" y1="359.4" x2="527.8" y2="359.4" stroke="#000" stroke-width="1.6" stroke-linecap="butt"/>
<line x1="523.8" y1="363.8" x2="527.8" y2="363.8" stroke="#000" stroke-width="1.6" stroke-linecap="butt"/>
<rect x="524.3" y="360.1" width="3" height="3" fill="#000"/>
<polygon points="357.70,297.20 358.20,298.41 359.51,298.51 358.51,299.36 358.82,300.64 357.70,299.96 356.58,300.64 356.89,299.36 355.89,298.51 357.20,298.41" fill="#555"/>
<polygon points="361.40,297.20 361.90,298.41 363.21,298.51 362.21,299.36 362.52,300.64 361.40,299.96 360.28,300.64 360.59,299.36 359.59,298.51 360.90,298.41" fill="#555"/>
<polygon points="379.30,314.20 379.80,315.41 381.11,315.51 380.11,316.36 380.42,317.64 379.30,316.96 378.18,317.64 378.49,316.36 377.49,315.51 378.80,315.41" fill="#555"/>
<polygon points="383.00,314.20 383.50,315.41 384.81,315.51 383.81,316.36 384.12,317.64 383.00,316.96 381.88,317.64 382.19,316.36 381.19,315.51 382.50,315.41" fill="#555"/>
<polygon points="426.00,328.60 426.50,329.81 427.81,329.91 426.81,330.76 427.12,332.04 426.00,331.36 424.88,332.04 425.19,330.76 424.19,329.91 425.50,329.81" fill="#555"/>
<polygon points="429.50,328.60 430.00,329.81 431.31,329.91 430.31,330.76 430.62,332.04 429.50,331.36 428.38,332.04 428.69,330.76 427.69,329.91 429.00,329.81" fill="#555"/>
<line x1="374.7" y1="251.8" x2="389.1" y2="251.8" stroke="#000" stroke-width="1.6" stroke-linecap="butt"/>
<circle cx="382.0" cy="251.8" r="1.6" fill="#000"/>
<line x1="374.7" y1="269.2" x2="389.1" y2="269.2" stroke="#000" stroke-width="1.6" stroke-linecap="butt" stroke-dasharray="4,2.5"/>
<rect x="380.5" y="267.7" width="3" height="3" fill="#000"/>
<text x="393.2" y="255.4" font-family='"Liberation Serif",serif' font-size="9.8" font-weight="normal" text-anchor="start" fill="#000" textLength="35.2" lengthAdjust="spacingAndGlyphs">HEL-NC</text>
<text x="393.2" y="272.8" font-family='"Liberation Serif",serif' font-size="9.8" font-weight="normal" text-anchor="start" fill="#000" textLength="70" lengthAdjust="spacingAndGlyphs">shRNA-29c-HEL</text>
<text x="553.0" y="237.2" font-family='"Liberation Serif",serif' font-size="21" font-weight="bold" text-anchor="start" fill="#000">f</text>
<line x1="588.7" y1="224.3" x2="588.7" y2="395.8" stroke="#000" stroke-width="1.5" stroke-linecap="butt"/>
<line x1="584.5" y1="395.0" x2="588.7" y2="395.0" stroke="#000" stroke-width="1.5" stroke-linecap="butt"/>
<text transform="translate(583.40,398.51) scale(0.98,1)" font-family='"Liberation Sans",sans-serif' font-size="9.8" font-weight="bold" text-anchor="end">0.0</text>
<line x1="584.5" y1="338.1" x2="588.7" y2="338.1" stroke="#000" stroke-width="1.5" stroke-linecap="butt"/>
<text transform="translate(583.40,341.61) scale(0.98,1)" font-family='"Liberation Sans",sans-serif' font-size="9.8" font-weight="bold" text-anchor="end">0.2</text>
<line x1="584.5" y1="281.2" x2="588.7" y2="281.2" stroke="#000" stroke-width="1.5" stroke-linecap="butt"/>
<text transform="translate(583.40,284.71) scale(0.98,1)" font-family='"Liberation Sans",sans-serif' font-size="9.8" font-weight="bold" text-anchor="end">0.4</text>
<line x1="584.5" y1="224.3" x2="588.7" y2="224.3" stroke="#000" stroke-width="1.5" stroke-linecap="butt"/>
<text transform="translate(583.40,227.81) scale(0.98,1)" font-family='"Liberation Sans",sans-serif' font-size="9.8" font-weight="bold" text-anchor="end">0.6</text>
<line x1="588.2" y1="395.0" x2="784.0" y2="395.0" stroke="#000" stroke-width="1.5" stroke-linecap="butt"/>
<line x1="630.5" y1="395.0" x2="630.5" y2="399.5" stroke="#000" stroke-width="1.5" stroke-linecap="butt"/>
<line x1="714.6" y1="395.0" x2="714.6" y2="399.5" stroke="#000" stroke-width="1.5" stroke-linecap="butt"/>
<rect x="606.4" y="345.8" width="47.9" height="49.2" fill="#fff" stroke="#000" stroke-width="2"/>
<line x1="630.5" y1="342.4" x2="630.5" y2="345.8" stroke="#000" stroke-width="1.6" stroke-linecap="butt"/>
<line x1="618.5" y1="342.4" x2="642.5" y2="342.4" stroke="#000" stroke-width="1.6" stroke-linecap="butt"/>
<line x1="618.5" y1="345.8" x2="642.5" y2="345.8" stroke="#000" stroke-width="1.6" stroke-linecap="butt"/>
<rect x="690.2" y="263.3" width="47.8" height="131.7" fill="#000"/>
<line x1="714.6" y1="261.6" x2="714.6" y2="263.3" stroke="#000" stroke-width="1.6" stroke-linecap="butt"/>
<line x1="702.6" y1="261.6" x2="726.6" y2="261.6" stroke="#000" stroke-width="1.6" stroke-linecap="butt"/>
<line x1="702.6" y1="263.3" x2="726.6" y2="263.3" stroke="#000" stroke-width="1.6" stroke-linecap="butt"/>
<line x1="630.6" y1="256.7" x2="709.9" y2="256.7" stroke="#000" stroke-width="1.5" stroke-linecap="butt"/>
<line x1="630.6" y1="256.1" x2="630.6" y2="260.5" stroke="#000" stroke-width="1.5" stroke-linecap="butt"/>
<line x1="709.9" y1="256.1" x2="709.9" y2="260.5" stroke="#000" stroke-width="1.5" stroke-linecap="butt"/>
<text x="653.6" y="251.6" font-family='"Liberation Serif",serif' font-size="9.3" font-weight="normal" text-anchor="start" fill="#000" textLength="29.1" lengthAdjust="spacingAndGlyphs">P&lt;0.001</text>
<rect x="604.0" y="217.8" width="13.8" height="6.6" fill="#fff" stroke="#000" stroke-width="1.8"/>
<rect x="603.1" y="231.1" width="15.6" height="8.0" fill="#000"/>
<text x="627.6" y="221.0" font-family='"Liberation Serif",serif' font-size="10.9" font-weight="normal" text-anchor="start" fill="#000" textLength="35.9" lengthAdjust="spacingAndGlyphs">HEL-NC</text>
<text x="627.6" y="239.8" font-family='"Liberation Serif",serif' font-size="10.9" font-weight="normal" text-anchor="start" fill="#000" textLength="69.1" lengthAdjust="spacingAndGlyphs">shRNA-29c-HEL</text>
<g transform="translate(563.9,336.7) rotate(-90)" fill="#333" font-weight="bold" font-family='"Liberation Serif",serif'><text x="0" y="0" font-size="9.8" textLength="11.2" lengthAdjust="spacing">IC</text><text x="11.7" y="1.6" font-size="6.5" font-style="italic" textLength="7" lengthAdjust="spacing">50</text><text x="27.8" y="-1.2" font-size="9.8" textLength="26" lengthAdjust="spacing">(μM)</text></g>
<text x="6.5" y="473.3" font-family='"Liberation Serif",serif' font-size="19.5" font-weight="bold" text-anchor="start" fill="#000">g</text>
<line x1="55.7" y1="477.5" x2="55.7" y2="646.5" stroke="#000" stroke-width="1.5" stroke-linecap="butt"/>
<line x1="52.5" y1="645.7" x2="55.7" y2="645.7" stroke="#000" stroke-width="1.2" stroke-linecap="butt"/>
<text transform="translate(45.70,650.00) scale(0.98,1)" font-family='"Liberation Sans",sans-serif' font-size="12" font-weight="bold" text-anchor="end">0</text>
<line x1="52.5" y1="612.1" x2="55.7" y2="612.1" stroke="#000" stroke-width="1.2" stroke-linecap="butt"/>
<text transform="translate(45.70,616.36) scale(0.98,1)" font-family='"Liberation Sans",sans-serif' font-size="12" font-weight="bold" text-anchor="end">2</text>
<line x1="52.5" y1="578.4" x2="55.7" y2="578.4" stroke="#000" stroke-width="1.2" stroke-linecap="butt"/>
<text transform="translate(45.70,582.72) scale(0.98,1)" font-family='"Liberation Sans",sans-serif' font-size="12" font-weight="bold" text-anchor="end">4</text>
<line x1="52.5" y1="544.8" x2="55.7" y2="544.8" stroke="#000" stroke-width="1.2" stroke-linecap="butt"/>
<text transform="translate(45.70,549.08) scale(0.98,1)" font-family='"Liberation Sans",sans-serif' font-size="12" font-weight="bold" text-anchor="end">6</text>
<line x1="52.5" y1="511.1" x2="55.7" y2="511.1" stroke="#000" stroke-width="1.2" stroke-linecap="butt"/>
<text transform="translate(45.70,515.44) scale(0.98,1)" font-family='"Liberation Sans",sans-serif' font-size="12" font-weight="bold" text-anchor="end">8</text>
<line x1="52.5" y1="477.5" x2="55.7" y2="477.5" stroke="#000" stroke-width="1.2" stroke-linecap="butt"/>
<text transform="translate(45.70,481.80) scale(0.98,1)" font-family='"Liberation Sans",sans-serif' font-size="12" font-weight="bold" text-anchor="end">10</text>
<line x1="55.0" y1="645.7" x2="246.4" y2="645.7" stroke="#000" stroke-width="1.5" stroke-linecap="butt"/>
<line x1="100.0" y1="645.7" x2="100.0" y2="650.2" stroke="#000" stroke-width="1.2" stroke-linecap="butt"/>
<line x1="191.8" y1="645.7" x2="191.8" y2="650.2" stroke="#000" stroke-width="1.2" stroke-linecap="butt"/>
<rect x="74.3" y="523.8" width="50.7" height="121.9" fill="#fff" stroke="#000" stroke-width="2"/>
<line x1="100.0" y1="517.0" x2="100.0" y2="523.8" stroke="#000" stroke-width="1.6" stroke-linecap="butt"/>
<line x1="87.5" y1="517.0" x2="112.5" y2="517.0" stroke="#000" stroke-width="1.6" stroke-linecap="butt"/>
<line x1="87.5" y1="523.8" x2="112.5" y2="523.8" stroke="#000" stroke-width="1.6" stroke-linecap="butt"/>
<rect x="166.0" y="614.2" width="51.1" height="31.5" fill="#000"/>
<line x1="191.8" y1="612.1" x2="191.8" y2="614.2" stroke="#000" stroke-width="1.6" stroke-linecap="butt"/>
<line x1="178.3" y1="612.1" x2="205.3" y2="612.1" stroke="#000" stroke-width="1.6" stroke-linecap="butt"/>
<line x1="178.3" y1="614.2" x2="205.3" y2="614.2" stroke="#000" stroke-width="1.6" stroke-linecap="butt"/>
<line x1="99.7" y1="497.8" x2="193.5" y2="497.8" stroke="#000" stroke-width="1.5" stroke-linecap="butt"/>
<line x1="99.7" y1="497.2" x2="99.7" y2="500.8" stroke="#000" stroke-width="1.5" stroke-linecap="butt"/>
<line x1="193.5" y1="497.2" x2="193.5" y2="500.8" stroke="#000" stroke-width="1.5" stroke-linecap="butt"/>
<text x="131.8" y="495.8" font-family='"Liberation Serif",serif' font-size="10" font-weight="normal" text-anchor="start" fill="#000" textLength="31.2" lengthAdjust="spacingAndGlyphs">P&lt;0.001</text>
<rect x="64.3" y="454.3" width="19.3" height="9.3" fill="#fff" stroke="#000" stroke-width="1.8"/>
<rect x="63.4" y="473.3" width="21.1" height="11.4" fill="#000"/>
<text x="93.4" y="463.0" font-family='"Liberation Serif",serif' font-size="12" font-weight="normal" text-anchor="start" fill="#000" textLength="39.3" lengthAdjust="spacingAndGlyphs">HEL-NC</text>
<text x="93.4" y="483.5" font-family='"Liberation Serif",serif' font-size="12" font-weight="normal" text-anchor="start" fill="#000" textLength="76" lengthAdjust="spacingAndGlyphs">shRNA-29c-HEL</text>
<text x="23.6" y="561.3" font-family='"Liberation Serif",serif' font-size="12.4" font-weight="normal" text-anchor="middle" fill="#222" transform="rotate(-90 23.6 561.3)" textLength="93" lengthAdjust="spacingAndGlyphs">Apoptotic rate (%)</text>
<rect x="330.0" y="459.5" width="170.0" height="182.0" fill="#fff"/>
<path d="M331 587h0M331 592h0M331 597h0M331 598h0M331 600h0M331 601h0M331 603h0M331 604h0M331 605h0M331 609h0M331 615h0M331 616h0M331 618h0M331 622h0M331 624h0M331 628h0M331 634h0M331 635h0M331 636h0M331 638h0M331 639h0M332 585h0M332 587h0M332 588h0M332 589h0M332 591h0M332 592h0M332 594h0M332 598h0M332 600h0M332 604h0M332 605h0M332 606h0M332 607h0M332 611h0M332 613h0M332 614h0M332 615h0M332 616h0M332 617h0M332 618h0M332 620h0M332 621h0M332 622h0M332 624h0M332 625h0M332 626h0M332 627h0M332 629h0M332 630h0M332 631h0M332 632h0M332 635h0M332 636h0M332 637h0M332 638h0M332 639h0M332 640h0M333 586h0M333 588h0M333 589h0M333 590h0M333 593h0M333 594h0M333 595h0M333 598h0M333 599h0M333 602h0M333 603h0M333 605h0M333 606h0M333 607h0M333 609h0M333 610h0M333 612h0M333 613h0M333 614h0M333 615h0M333 616h0M333 618h0M333 620h0M333 621h0M333 622h0M333 624h0M333 625h0M333 626h0M333 629h0M333 631h0M333 632h0M333 633h0M333 634h0M333 636h0M333 637h0M333 638h0M334 587h0M334 588h0M334 589h0M334 593h0M334 596h0M334 597h0M334 598h0M334 599h0M334 603h0M334 607h0M334 608h0M334 609h0M334 610h0M334 612h0M334 613h0M334 616h0M334 617h0M334 620h0M334 622h0M334 625h0M334 628h0M334 629h0M334 630h0M334 635h0M334 636h0M334 637h0M334 638h0M334 639h0M334 640h0M335 587h0M335 588h0M335 589h0M335 591h0M335 593h0M335 594h0M335 595h0M335 596h0M335 597h0M335 598h0M335 599h0M335 602h0M335 603h0M335 604h0M335 605h0M335 607h0M335 609h0M335 610h0M335 611h0M335 615h0M335 616h0M335 618h0M335 620h0M335 621h0M335 622h0M335 623h0M335 627h0M335 628h0M335 631h0M335 632h0M335 635h0M335 636h0M335 637h0M335 638h0M335 639h0M335 640h0M336 587h0M336 590h0M336 591h0M336 592h0M336 597h0M336 599h0M336 600h0M336 602h0M336 603h0M336 605h0M336 606h0M336 609h0M336 614h0M336 615h0M336 617h0M336 618h0M336 620h0M336 622h0M336 624h0M336 625h0M336 626h0M336 628h0M336 629h0M336 632h0M336 636h0M336 637h0M336 639h0M336 640h0M337 587h0M337 591h0M337 594h0M337 597h0M337 598h0M337 599h0M337 600h0M337 602h0M337 609h0M337 610h0M337 612h0M337 614h0M337 615h0M337 617h0M337 618h0M337 620h0M337 621h0M337 624h0M337 625h0M337 626h0M337 628h0M337 629h0M337 630h0M337 631h0M337 633h0M337 634h0M337 635h0M337 636h0M337 637h0M337 638h0M337 639h0M337 640h0M338 587h0M338 589h0M338 592h0M338 593h0M338 594h0M338 597h0M338 599h0M338 604h0M338 605h0M338 606h0M338 608h0M338 612h0M338 614h0M338 617h0M338 618h0M338 620h0M338 621h0M338 622h0M338 623h0M338 624h0M338 626h0M338 630h0M338 633h0M338 636h0M338 638h0M338 639h0M338 640h0M339 587h0M339 588h0M339 592h0M339 593h0M339 597h0M339 598h0M339 599h0M339 601h0M339 602h0M339 607h0M339 615h0M339 616h0M339 618h0M339 619h0M339 620h0M339 623h0M339 624h0M339 628h0M339 629h0M339 631h0M339 632h0M339 634h0M339 636h0M339 637h0M339 638h0M339 639h0M339 640h0M340 591h0M340 597h0M340 598h0M340 607h0M340 608h0M340 611h0M340 612h0M340 616h0M340 617h0M340 619h0M340 620h0M340 621h0M340 622h0M340 623h0M340 627h0M340 628h0M340 630h0M340 632h0M340 633h0M340 634h0M340 635h0M340 637h0M340 638h0M340 639h0M341 589h0M341 591h0M341 594h0M341 596h0M341 599h0M341 601h0M341 602h0M341 605h0M341 606h0M341 607h0M341 608h0M341 609h0M341 613h0M341 614h0M341 616h0M341 618h0M341 620h0M341 625h0M341 627h0M341 628h0M341 636h0M341 637h0M341 638h0M341 639h0M342 587h0M342 592h0M342 596h0M342 597h0M342 600h0M342 602h0M342 603h0M342 605h0M342 614h0M342 620h0M342 623h0M342 628h0M342 629h0M342 633h0M342 634h0M342 638h0M342 639h0M343 588h0M343 589h0M343 592h0M343 593h0M343 596h0M343 600h0M343 601h0M343 602h0M343 603h0M343 604h0M343 607h0M343 608h0M343 609h0M343 610h0M343 614h0M343 615h0M343 618h0M343 619h0M343 620h0M343 622h0M343 624h0M343 628h0M343 630h0M343 631h0M343 632h0M343 633h0M343 635h0M343 639h0M343 640h0M344 586h0M344 587h0M344 588h0M344 599h0M344 610h0M344 611h0M344 616h0M344 617h0M344 618h0M344 619h0M344 621h0M344 630h0M344 631h0M344 632h0M344 633h0M344 637h0M344 640h0M345 586h0M345 587h0M345 589h0M345 600h0M345 601h0M345 607h0M345 615h0M345 616h0M345 617h0M345 618h0M345 619h0M345 620h0M345 621h0M345 628h0M345 630h0M345 631h0M345 632h0M345 633h0M345 635h0M345 636h0M345 639h0M345 640h0M346 586h0M346 589h0M346 592h0M346 594h0M346 595h0M346 596h0M346 597h0M346 600h0M346 601h0M346 604h0M346 606h0M346 616h0M346 618h0M346 620h0M346 623h0M346 626h0M346 628h0M346 629h0M346 631h0M346 634h0M346 635h0M346 639h0M347 598h0M347 601h0M347 602h0M347 603h0M347 604h0M347 610h0M347 611h0M347 616h0M347 618h0M347 622h0M347 626h0M347 627h0M347 630h0M347 632h0M347 633h0M347 635h0M347 637h0M347 638h0M348 587h0M348 588h0M348 589h0M348 592h0M348 594h0M348 597h0M348 598h0M348 600h0M348 604h0M348 605h0M348 611h0M348 613h0M348 616h0M348 617h0M348 622h0M348 624h0M348 628h0M348 629h0M348 633h0M348 637h0M348 638h0M348 639h0M348 640h0M349 591h0M349 594h0M349 595h0M349 605h0M349 608h0M349 609h0M349 611h0M349 613h0M349 614h0M349 615h0M349 624h0M349 626h0M349 630h0M349 631h0M349 634h0M349 635h0M349 637h0M349 639h0M349 640h0M350 591h0M350 592h0M350 597h0M350 603h0M350 605h0M350 608h0M350 610h0M350 613h0M350 615h0M350 616h0M350 618h0M350 623h0M350 625h0M350 628h0M350 630h0M350 632h0M350 637h0M350 638h0M350 639h0M351 589h0M351 590h0M351 593h0M351 596h0M351 599h0M351 602h0M351 610h0M351 621h0M351 631h0M351 632h0M351 636h0M351 638h0M351 639h0M351 640h0M352 591h0M352 594h0M352 595h0M352 598h0M352 601h0M352 602h0M352 606h0M352 613h0M352 614h0M352 616h0M352 617h0M352 618h0M352 619h0M352 622h0M352 623h0M352 624h0M352 629h0M352 630h0M352 635h0M352 639h0M352 640h0M353 586h0M353 587h0M353 590h0M353 593h0M353 596h0M353 597h0M353 599h0M353 600h0M353 603h0M353 604h0M353 605h0M353 606h0M353 608h0M353 610h0M353 611h0M353 612h0M353 613h0M353 618h0M353 620h0M353 621h0M353 623h0M353 624h0M353 629h0M353 634h0M353 637h0M354 587h0M354 591h0M354 592h0M354 594h0M354 599h0M354 602h0M354 604h0M354 607h0M354 612h0M354 613h0M354 621h0M354 624h0M354 631h0M354 634h0M354 636h0M354 637h0M354 639h0M354 640h0M355 588h0M355 591h0M355 595h0M355 597h0M355 600h0M355 605h0M355 608h0M355 610h0M355 612h0M355 616h0M355 618h0M355 623h0M355 624h0M355 627h0M355 629h0M355 630h0M355 633h0M355 634h0M355 635h0M355 636h0M355 637h0M356 588h0M356 594h0M356 598h0M356 599h0M356 600h0M356 601h0M356 603h0M356 604h0M356 606h0M356 607h0M356 609h0M356 610h0M356 612h0M356 614h0M356 616h0M356 617h0M356 619h0M356 621h0M356 623h0M356 624h0M356 625h0M356 627h0M356 629h0M356 633h0M356 634h0M356 635h0M356 637h0M356 639h0M356 640h0M357 591h0M357 593h0M357 594h0M357 596h0M357 597h0M357 598h0M357 599h0M357 600h0M357 601h0M357 604h0M357 605h0M357 607h0M357 612h0M357 615h0M357 616h0M357 619h0M357 620h0M357 621h0M357 625h0M357 627h0M357 629h0M357 631h0M357 635h0M357 639h0M357 640h0M358 579h0M358 593h0M358 594h0M358 595h0M358 596h0M358 598h0M358 599h0M358 601h0M358 602h0M358 604h0M358 606h0M358 607h0M358 610h0M358 611h0M358 612h0M358 613h0M358 616h0M358 617h0M358 622h0M358 623h0M358 631h0M358 635h0M358 636h0M358 637h0M358 638h0M359 582h0M359 586h0M359 587h0M359 589h0M359 593h0M359 594h0M359 596h0M359 597h0M359 599h0M359 600h0M359 601h0M359 602h0M359 604h0M359 605h0M359 607h0M359 609h0M359 610h0M359 611h0M359 612h0M359 613h0M359 614h0M359 615h0M359 618h0M359 622h0M359 625h0M359 626h0M359 629h0M359 636h0M359 638h0M359 639h0M359 640h0M360 574h0M360 583h0M360 589h0M360 594h0M360 595h0M360 596h0M360 597h0M360 600h0M360 601h0M360 604h0M360 608h0M360 610h0M360 612h0M360 614h0M360 615h0M360 617h0M360 618h0M360 619h0M360 620h0M360 621h0M360 622h0M360 625h0M360 627h0M360 630h0M360 636h0M360 637h0M360 639h0M361 586h0M361 588h0M361 589h0M361 593h0M361 594h0M361 595h0M361 596h0M361 600h0M361 601h0M361 602h0M361 606h0M361 608h0M361 609h0M361 610h0M361 611h0M361 617h0M361 618h0M361 619h0M361 621h0M361 628h0M361 629h0M361 630h0M361 634h0M361 636h0M361 638h0M362 580h0M362 590h0M362 593h0M362 594h0M362 602h0M362 603h0M362 604h0M362 607h0M362 608h0M362 609h0M362 612h0M362 615h0M362 617h0M362 618h0M362 619h0M362 623h0M362 628h0M362 630h0M362 633h0M362 636h0M362 640h0M363 589h0M363 591h0M363 592h0M363 594h0M363 597h0M363 598h0M363 600h0M363 601h0M363 602h0M363 603h0M363 605h0M363 610h0M363 613h0M363 614h0M363 615h0M363 616h0M363 617h0M363 618h0M363 619h0M363 623h0M363 624h0M363 626h0M363 627h0M363 635h0M363 637h0M364 583h0M364 586h0M364 589h0M364 590h0M364 596h0M364 597h0M364 598h0M364 599h0M364 603h0M364 605h0M364 607h0M364 608h0M364 609h0M364 610h0M364 611h0M364 612h0M364 613h0M364 614h0M364 615h0M364 616h0M364 619h0M364 620h0M364 628h0M364 629h0M364 633h0M364 634h0M365 580h0M365 587h0M365 588h0M365 590h0M365 594h0M365 595h0M365 598h0M365 600h0M365 602h0M365 603h0M365 604h0M365 605h0M365 607h0M365 609h0M365 610h0M365 611h0M365 612h0M365 613h0M365 615h0M365 616h0M365 618h0M365 619h0M365 622h0M365 623h0M365 624h0M365 628h0M365 633h0M365 636h0M365 637h0M365 640h0M366 572h0M366 586h0M366 587h0M366 590h0M366 591h0M366 593h0M366 594h0M366 595h0M366 597h0M366 598h0M366 601h0M366 602h0M366 603h0M366 604h0M366 605h0M366 606h0M366 608h0M366 609h0M366 610h0M366 611h0M366 614h0M366 615h0M366 619h0M366 623h0M366 624h0M366 633h0M366 634h0M366 637h0M367 580h0M367 581h0M367 588h0M367 589h0M367 594h0M367 597h0M367 599h0M367 600h0M367 603h0M367 605h0M367 606h0M367 607h0M367 608h0M367 609h0M367 610h0M367 611h0M367 613h0M367 615h0M367 616h0M367 618h0M367 621h0M367 623h0M367 624h0M367 626h0M367 630h0M367 634h0M367 635h0M367 639h0M368 585h0M368 587h0M368 588h0M368 593h0M368 595h0M368 596h0M368 597h0M368 598h0M368 600h0M368 601h0M368 602h0M368 604h0M368 605h0M368 606h0M368 607h0M368 609h0M368 610h0M368 611h0M368 612h0M368 613h0M368 615h0M368 616h0M368 617h0M368 618h0M368 619h0M368 621h0M368 622h0M368 623h0M368 625h0M368 627h0M368 633h0M368 634h0M368 636h0M368 640h0M369 580h0M369 583h0M369 584h0M369 585h0M369 589h0M369 590h0M369 593h0M369 594h0M369 595h0M369 597h0M369 598h0M369 599h0M369 602h0M369 603h0M369 604h0M369 605h0M369 607h0M369 608h0M369 609h0M369 610h0M369 611h0M369 612h0M369 613h0M369 614h0M369 615h0M369 616h0M369 617h0M369 619h0M369 622h0M369 624h0M369 626h0M369 631h0M369 634h0M369 638h0M369 639h0M370 579h0M370 582h0M370 584h0M370 587h0M370 589h0M370 591h0M370 594h0M370 595h0M370 596h0M370 597h0M370 598h0M370 599h0M370 601h0M370 602h0M370 603h0M370 606h0M370 608h0M370 610h0M370 611h0M370 612h0M370 613h0M370 614h0M370 615h0M370 616h0M370 617h0M370 620h0M370 623h0M370 625h0M370 633h0M370 635h0M370 636h0M370 637h0M370 639h0M371 578h0M371 579h0M371 583h0M371 586h0M371 589h0M371 593h0M371 594h0M371 595h0M371 596h0M371 597h0M371 598h0M371 599h0M371 600h0M371 601h0M371 603h0M371 606h0M371 607h0M371 608h0M371 609h0M371 611h0M371 612h0M371 615h0M371 618h0M371 621h0M371 624h0M371 626h0M371 638h0M372 572h0M372 575h0M372 577h0M372 584h0M372 587h0M372 588h0M372 590h0M372 591h0M372 593h0M372 594h0M372 596h0M372 597h0M372 598h0M372 599h0M372 600h0M372 601h0M372 602h0M372 604h0M372 609h0M372 610h0M372 612h0M372 613h0M372 616h0M372 617h0M372 618h0M372 620h0M372 624h0M372 627h0M372 629h0M372 630h0M372 637h0M372 639h0M373 576h0M373 578h0M373 579h0M373 580h0M373 583h0M373 585h0M373 589h0M373 590h0M373 591h0M373 592h0M373 594h0M373 595h0M373 596h0M373 597h0M373 598h0M373 602h0M373 604h0M373 605h0M373 606h0M373 607h0M373 610h0M373 612h0M373 613h0M373 614h0M373 615h0M373 618h0M373 621h0M373 622h0M373 624h0M373 631h0M373 633h0M373 636h0M373 637h0M374 564h0M374 583h0M374 586h0M374 591h0M374 592h0M374 593h0M374 594h0M374 595h0M374 596h0M374 597h0M374 598h0M374 600h0M374 602h0M374 603h0M374 604h0M374 605h0M374 606h0M374 611h0M374 612h0M374 613h0M374 614h0M374 616h0M374 617h0M374 618h0M374 624h0M374 627h0M374 629h0M374 631h0M374 633h0M374 636h0M374 638h0M375 580h0M375 582h0M375 584h0M375 587h0M375 590h0M375 592h0M375 593h0M375 597h0M375 598h0M375 599h0M375 601h0M375 602h0M375 604h0M375 605h0M375 607h0M375 608h0M375 609h0M375 611h0M375 613h0M375 617h0M375 618h0M375 621h0M375 624h0M375 625h0M375 627h0M375 629h0M375 634h0M375 636h0M375 639h0M375 640h0M376 555h0M376 579h0M376 583h0M376 584h0M376 587h0M376 590h0M376 591h0M376 592h0M376 593h0M376 594h0M376 595h0M376 596h0M376 597h0M376 598h0M376 601h0M376 602h0M376 603h0M376 604h0M376 606h0M376 607h0M376 609h0M376 610h0M376 611h0M376 612h0M376 614h0M376 615h0M376 617h0M376 622h0M376 624h0M376 629h0M376 636h0M376 637h0M376 640h0M377 578h0M377 580h0M377 582h0M377 583h0M377 585h0M377 587h0M377 588h0M377 589h0M377 591h0M377 592h0M377 593h0M377 596h0M377 597h0M377 599h0M377 601h0M377 602h0M377 603h0M377 604h0M377 605h0M377 606h0M377 607h0M377 608h0M377 610h0M377 611h0M377 612h0M377 614h0M377 615h0M377 617h0M377 618h0M377 623h0M377 625h0M377 630h0M377 638h0M377 640h0M378 573h0M378 574h0M378 575h0M378 582h0M378 583h0M378 585h0M378 586h0M378 587h0M378 588h0M378 589h0M378 591h0M378 592h0M378 593h0M378 594h0M378 595h0M378 596h0M378 597h0M378 599h0M378 600h0M378 602h0M378 603h0M378 604h0M378 606h0M378 607h0M378 608h0M378 609h0M378 610h0M378 612h0M378 613h0M378 617h0M378 619h0M378 623h0M378 635h0M378 636h0M378 638h0M379 572h0M379 580h0M379 581h0M379 582h0M379 585h0M379 586h0M379 588h0M379 589h0M379 595h0M379 596h0M379 598h0M379 599h0M379 600h0M379 601h0M379 602h0M379 603h0M379 605h0M379 606h0M379 607h0M379 608h0M379 609h0M379 610h0M379 611h0M379 613h0M379 615h0M379 620h0M379 622h0M379 635h0M379 636h0M379 638h0M379 639h0M380 565h0M380 574h0M380 575h0M380 576h0M380 581h0M380 582h0M380 583h0M380 588h0M380 589h0M380 590h0M380 591h0M380 592h0M380 593h0M380 594h0M380 595h0M380 598h0M380 599h0M380 600h0M380 602h0M380 603h0M380 604h0M380 606h0M380 607h0M380 608h0M380 609h0M380 610h0M380 611h0M380 614h0M380 618h0M380 619h0M380 622h0M380 623h0M380 629h0M380 632h0M380 636h0M380 637h0M380 640h0M381 577h0M381 578h0M381 584h0M381 585h0M381 586h0M381 588h0M381 589h0M381 590h0M381 591h0M381 593h0M381 594h0M381 595h0M381 596h0M381 597h0M381 598h0M381 600h0M381 601h0M381 603h0M381 604h0M381 605h0M381 607h0M381 609h0M381 610h0M381 611h0M381 612h0M381 613h0M381 614h0M381 616h0M381 617h0M381 621h0M381 624h0M381 628h0M381 638h0M381 639h0M382 569h0M382 574h0M382 580h0M382 583h0M382 585h0M382 587h0M382 588h0M382 589h0M382 591h0M382 592h0M382 593h0M382 595h0M382 596h0M382 597h0M382 598h0M382 599h0M382 600h0M382 602h0M382 603h0M382 604h0M382 605h0M382 606h0M382 609h0M382 611h0M382 613h0M382 614h0M382 615h0M382 621h0M382 640h0M383 581h0M383 584h0M383 586h0M383 587h0M383 589h0M383 590h0M383 592h0M383 594h0M383 595h0M383 596h0M383 597h0M383 600h0M383 601h0M383 602h0M383 603h0M383 604h0M383 605h0M383 606h0M383 608h0M383 610h0M383 611h0M383 618h0M383 629h0M383 639h0M383 640h0M384 553h0M384 555h0M384 566h0M384 577h0M384 580h0M384 584h0M384 585h0M384 586h0M384 587h0M384 590h0M384 592h0M384 595h0M384 596h0M384 598h0M384 600h0M384 601h0M384 602h0M384 604h0M384 605h0M384 606h0M384 607h0M384 608h0M384 609h0M384 612h0M384 615h0M384 621h0M384 632h0M384 636h0M384 637h0M385 575h0M385 578h0M385 581h0M385 583h0M385 584h0M385 585h0M385 586h0M385 587h0M385 589h0M385 591h0M385 593h0M385 594h0M385 595h0M385 596h0M385 597h0M385 598h0M385 599h0M385 600h0M385 601h0M385 603h0M385 606h0M385 608h0M385 612h0M385 619h0M385 627h0M385 630h0M385 633h0M386 559h0M386 564h0M386 578h0M386 581h0M386 582h0M386 583h0M386 586h0M386 587h0M386 588h0M386 590h0M386 592h0M386 593h0M386 595h0M386 596h0M386 597h0M386 598h0M386 599h0M386 601h0M386 602h0M386 603h0M386 604h0M386 605h0M386 606h0M386 607h0M386 608h0M386 609h0M386 610h0M386 611h0M386 612h0M386 613h0M386 615h0M386 616h0M386 618h0M386 622h0M386 632h0M386 633h0M386 636h0M386 638h0M386 639h0M387 552h0M387 559h0M387 571h0M387 572h0M387 577h0M387 578h0M387 581h0M387 583h0M387 584h0M387 587h0M387 588h0M387 591h0M387 593h0M387 595h0M387 596h0M387 597h0M387 598h0M387 600h0M387 601h0M387 603h0M387 604h0M387 605h0M387 608h0M387 610h0M387 612h0M387 614h0M387 615h0M387 616h0M387 619h0M387 621h0M387 634h0M387 635h0M387 637h0M387 640h0M388 565h0M388 572h0M388 574h0M388 580h0M388 581h0M388 582h0M388 583h0M388 585h0M388 587h0M388 588h0M388 589h0M388 590h0M388 591h0M388 592h0M388 593h0M388 595h0M388 596h0M388 597h0M388 598h0M388 601h0M388 602h0M388 603h0M388 604h0M388 605h0M388 607h0M388 608h0M388 610h0M388 611h0M388 614h0M388 615h0M388 617h0M388 619h0M388 620h0M388 622h0M388 623h0M388 631h0M388 637h0M388 640h0M389 555h0M389 579h0M389 583h0M389 586h0M389 587h0M389 588h0M389 589h0M389 591h0M389 592h0M389 594h0M389 595h0M389 597h0M389 598h0M389 600h0M389 601h0M389 604h0M389 605h0M389 606h0M389 609h0M389 612h0M389 615h0M389 637h0M389 639h0M390 554h0M390 563h0M390 565h0M390 568h0M390 571h0M390 575h0M390 578h0M390 580h0M390 582h0M390 585h0M390 586h0M390 587h0M390 589h0M390 591h0M390 592h0M390 593h0M390 594h0M390 595h0M390 596h0M390 597h0M390 599h0M390 600h0M390 602h0M390 605h0M390 607h0M390 608h0M390 611h0M390 615h0M390 616h0M390 618h0M390 619h0M390 624h0M390 632h0M390 637h0M390 638h0M391 556h0M391 562h0M391 567h0M391 572h0M391 575h0M391 578h0M391 580h0M391 583h0M391 584h0M391 585h0M391 586h0M391 588h0M391 589h0M391 591h0M391 592h0M391 593h0M391 594h0M391 595h0M391 596h0M391 597h0M391 598h0M391 599h0M391 601h0M391 604h0M391 605h0M391 606h0M391 612h0M391 628h0M391 633h0M391 636h0M391 638h0M392 555h0M392 556h0M392 561h0M392 564h0M392 565h0M392 577h0M392 587h0M392 589h0M392 590h0M392 591h0M392 592h0M392 593h0M392 597h0M392 598h0M392 599h0M392 600h0M392 602h0M392 604h0M392 608h0M392 610h0M392 613h0M392 615h0M392 616h0M392 621h0M392 638h0M392 640h0M393 552h0M393 558h0M393 560h0M393 562h0M393 564h0M393 570h0M393 573h0M393 582h0M393 583h0M393 587h0M393 593h0M393 596h0M393 597h0M393 599h0M393 602h0M393 608h0M393 619h0M393 620h0M393 635h0M393 639h0M394 546h0M394 552h0M394 556h0M394 559h0M394 561h0M394 573h0M394 577h0M394 582h0M394 585h0M394 586h0M394 591h0M394 592h0M394 595h0M394 597h0M394 598h0M394 601h0M394 602h0M394 609h0M394 632h0M394 636h0M394 637h0M395 549h0M395 561h0M395 570h0M395 572h0M395 573h0M395 579h0M395 581h0M395 583h0M395 585h0M395 586h0M395 587h0M395 590h0M395 592h0M395 598h0M395 600h0M395 601h0M395 607h0M395 620h0M395 637h0M395 638h0M396 555h0M396 557h0M396 558h0M396 561h0M396 565h0M396 575h0M396 576h0M396 579h0M396 581h0M396 582h0M396 585h0M396 588h0M396 590h0M396 592h0M396 593h0M396 595h0M396 596h0M396 597h0M396 602h0M396 603h0M396 605h0M396 606h0M396 607h0M396 608h0M396 612h0M396 615h0M396 625h0M396 631h0M396 634h0M397 550h0M397 553h0M397 556h0M397 559h0M397 561h0M397 563h0M397 568h0M397 574h0M397 583h0M397 590h0M397 593h0M397 594h0M397 595h0M397 597h0M397 598h0M397 600h0M397 601h0M397 604h0M398 550h0M398 551h0M398 552h0M398 553h0M398 554h0M398 564h0M398 569h0M398 574h0M398 577h0M398 585h0M398 587h0M398 588h0M398 589h0M398 592h0M398 595h0M398 596h0M398 599h0M398 600h0M398 607h0M398 610h0M398 617h0M398 629h0M398 636h0M399 562h0M399 571h0M399 577h0M399 578h0M399 581h0M399 583h0M399 589h0M399 590h0M399 593h0M399 602h0M399 605h0M399 610h0M399 614h0M399 627h0M399 637h0M399 638h0M399 639h0M399 640h0M400 547h0M400 550h0M400 555h0M400 557h0M400 558h0M400 561h0M400 564h0M400 566h0M400 569h0M400 580h0M400 592h0M400 593h0M400 594h0M400 596h0M400 606h0M400 634h0M400 640h0M401 547h0M401 549h0M401 552h0M401 553h0M401 557h0M401 567h0M401 575h0M401 584h0M401 599h0M401 602h0M401 615h0M401 617h0M401 638h0M402 547h0M402 549h0M402 555h0M402 556h0M402 557h0M402 559h0M402 560h0M402 561h0M402 562h0M402 568h0M402 574h0M402 578h0M402 583h0M402 584h0M402 585h0M402 587h0M402 590h0M402 591h0M402 595h0M402 598h0M402 599h0M402 602h0M402 630h0M402 638h0M403 547h0M403 550h0M403 551h0M403 558h0M403 559h0M403 560h0M403 561h0M403 564h0M403 567h0M403 568h0M403 572h0M403 573h0M403 575h0M403 580h0M403 596h0M403 597h0M403 599h0M403 604h0M403 606h0M403 627h0M403 633h0M403 639h0M404 554h0M404 557h0M404 558h0M404 560h0M404 561h0M404 563h0M404 565h0M404 566h0M404 567h0M404 568h0M404 569h0M404 571h0M404 574h0M404 581h0M404 584h0M404 585h0M404 586h0M404 590h0M404 593h0M404 598h0M404 604h0M404 626h0M404 630h0M404 636h0M404 637h0M405 546h0M405 547h0M405 548h0M405 553h0M405 559h0M405 565h0M405 570h0M405 574h0M405 582h0M405 590h0M405 591h0M405 592h0M405 593h0M405 595h0M405 596h0M405 611h0M405 614h0M405 630h0M405 632h0M405 635h0M405 636h0M405 638h0M406 549h0M406 551h0M406 552h0M406 555h0M406 558h0M406 559h0M406 560h0M406 564h0M406 568h0M406 569h0M406 570h0M406 572h0M406 630h0M406 632h0M406 633h0M406 639h0M406 640h0M407 536h0M407 544h0M407 548h0M407 549h0M407 552h0M407 555h0M407 558h0M407 559h0M407 562h0M407 563h0M407 566h0M407 571h0M407 572h0M407 573h0M407 581h0M407 591h0M407 601h0M407 629h0M407 639h0M407 640h0M408 550h0M408 551h0M408 554h0M408 556h0M408 557h0M408 558h0M408 559h0M408 561h0M408 565h0M408 566h0M408 567h0M408 570h0M408 572h0M408 575h0M408 578h0M408 589h0M408 591h0M408 598h0M408 606h0M408 626h0M408 634h0M408 638h0M408 639h0M409 540h0M409 547h0M409 548h0M409 550h0M409 553h0M409 556h0M409 557h0M409 558h0M409 560h0M409 561h0M409 563h0M409 565h0M409 567h0M409 569h0M409 570h0M409 572h0M409 591h0M409 593h0M409 594h0M409 600h0M409 603h0M409 605h0M409 607h0M409 633h0M409 636h0M409 638h0M409 640h0M410 543h0M410 544h0M410 545h0M410 546h0M410 547h0M410 549h0M410 552h0M410 559h0M410 560h0M410 561h0M410 562h0M410 563h0M410 564h0M410 566h0M410 567h0M410 568h0M410 570h0M410 575h0M410 582h0M410 585h0M410 586h0M410 592h0M410 601h0M410 634h0M411 539h0M411 546h0M411 548h0M411 554h0M411 556h0M411 558h0M411 559h0M411 561h0M411 562h0M411 563h0M411 564h0M411 580h0M411 633h0M411 635h0M411 640h0M412 546h0M412 550h0M412 553h0M412 554h0M412 555h0M412 557h0M412 558h0M412 561h0M412 562h0M412 564h0M412 565h0M412 569h0M412 571h0M412 573h0M412 590h0M412 638h0M413 535h0M413 540h0M413 542h0M413 547h0M413 548h0M413 550h0M413 551h0M413 552h0M413 553h0M413 554h0M413 555h0M413 557h0M413 558h0M413 559h0M413 561h0M413 562h0M413 563h0M413 564h0M413 565h0M413 566h0M413 573h0M413 579h0M413 600h0M413 627h0M413 630h0M413 640h0M414 537h0M414 544h0M414 547h0M414 549h0M414 550h0M414 553h0M414 554h0M414 555h0M414 557h0M414 559h0M414 561h0M414 562h0M414 565h0M414 566h0M414 572h0M414 573h0M414 631h0M414 638h0M415 541h0M415 544h0M415 547h0M415 550h0M415 551h0M415 552h0M415 553h0M415 556h0M415 557h0M415 559h0M415 562h0M415 563h0M415 564h0M415 566h0M415 567h0M415 569h0M415 572h0M415 579h0M415 591h0M415 592h0M415 600h0M415 611h0M415 635h0M415 638h0M415 639h0M415 640h0M416 536h0M416 547h0M416 550h0M416 551h0M416 552h0M416 553h0M416 554h0M416 555h0M416 558h0M416 559h0M416 560h0M416 562h0M416 563h0M416 567h0M416 568h0M416 571h0M416 616h0M416 632h0M416 636h0M416 639h0M417 536h0M417 541h0M417 544h0M417 548h0M417 549h0M417 551h0M417 552h0M417 553h0M417 554h0M417 555h0M417 560h0M417 561h0M417 562h0M417 563h0M417 566h0M417 567h0M417 568h0M417 572h0M417 626h0M417 632h0M417 639h0M418 525h0M418 542h0M418 546h0M418 548h0M418 550h0M418 551h0M418 554h0M418 556h0M418 557h0M418 558h0M418 559h0M418 560h0M418 561h0M418 562h0M418 563h0M418 565h0M418 566h0M418 568h0M418 571h0M418 578h0M419 542h0M419 546h0M419 547h0M419 548h0M419 552h0M419 553h0M419 554h0M419 555h0M419 556h0M419 558h0M419 560h0M419 561h0M419 562h0M419 563h0M419 564h0M419 566h0M419 567h0M419 569h0M419 573h0M419 575h0M419 594h0M419 616h0M419 631h0M419 634h0M419 637h0M419 639h0M419 640h0M420 550h0M420 551h0M420 554h0M420 555h0M420 556h0M420 558h0M420 559h0M420 560h0M420 561h0M420 565h0M420 566h0M420 595h0M420 600h0M420 632h0M420 634h0M420 638h0M420 639h0M420 640h0M421 542h0M421 544h0M421 545h0M421 547h0M421 548h0M421 549h0M421 550h0M421 551h0M421 554h0M421 555h0M421 556h0M421 557h0M421 558h0M421 559h0M421 560h0M421 562h0M421 565h0M421 573h0M421 632h0M421 638h0M421 640h0M422 542h0M422 545h0M422 547h0M422 548h0M422 549h0M422 550h0M422 552h0M422 553h0M422 554h0M422 555h0M422 556h0M422 558h0M422 559h0M422 560h0M422 561h0M422 562h0M422 564h0M422 567h0M422 568h0M422 638h0M422 639h0M422 640h0M423 533h0M423 542h0M423 545h0M423 547h0M423 551h0M423 553h0M423 554h0M423 555h0M423 558h0M423 559h0M423 560h0M423 561h0M423 562h0M423 563h0M423 566h0M423 567h0M423 575h0M423 637h0M423 639h0M424 543h0M424 546h0M424 548h0M424 549h0M424 551h0M424 552h0M424 553h0M424 554h0M424 555h0M424 557h0M424 558h0M424 559h0M424 560h0M424 561h0M424 564h0M424 566h0M424 568h0M424 570h0M424 572h0M424 576h0M424 599h0M424 640h0M425 539h0M425 541h0M425 544h0M425 545h0M425 546h0M425 548h0M425 549h0M425 550h0M425 553h0M425 554h0M425 555h0M425 557h0M425 558h0M425 559h0M425 561h0M425 563h0M425 567h0M425 572h0M426 540h0M426 541h0M426 549h0M426 550h0M426 552h0M426 553h0M426 556h0M426 557h0M426 560h0M426 562h0M426 563h0M426 565h0M426 567h0M426 568h0M427 542h0M427 544h0M427 545h0M427 546h0M427 547h0M427 550h0M427 551h0M427 553h0M427 554h0M427 555h0M427 556h0M427 557h0M427 558h0M427 559h0M427 560h0M427 561h0M427 564h0M427 565h0M427 569h0M427 571h0M428 536h0M428 544h0M428 545h0M428 547h0M428 549h0M428 555h0M428 556h0M428 557h0M428 559h0M428 560h0M428 561h0M428 562h0M428 565h0M428 566h0M428 569h0M428 573h0M429 524h0M429 535h0M429 539h0M429 541h0M429 542h0M429 543h0M429 546h0M429 548h0M429 549h0M429 551h0M429 553h0M429 554h0M429 555h0M429 556h0M429 560h0M429 561h0M429 562h0M429 563h0M429 564h0M429 566h0M429 567h0M429 568h0M429 583h0M430 540h0M430 543h0M430 545h0M430 547h0M430 549h0M430 550h0M430 552h0M430 553h0M430 554h0M430 555h0M430 556h0M430 560h0M430 562h0M430 563h0M430 564h0M430 568h0M430 570h0M430 571h0M431 538h0M431 542h0M431 546h0M431 547h0M431 548h0M431 550h0M431 552h0M431 553h0M431 554h0M431 556h0M431 557h0M431 558h0M431 562h0M431 568h0M432 548h0M432 551h0M432 552h0M432 553h0M432 555h0M432 556h0M432 558h0M432 559h0M432 561h0M432 562h0M432 563h0M432 568h0M432 569h0M432 570h0M433 531h0M433 538h0M433 543h0M433 544h0M433 545h0M433 546h0M433 547h0M433 549h0M433 551h0M433 553h0M433 554h0M433 555h0M433 561h0M433 562h0M433 566h0M433 585h0M434 525h0M434 532h0M434 533h0M434 539h0M434 541h0M434 542h0M434 543h0M434 546h0M434 549h0M434 550h0M434 552h0M434 553h0M434 554h0M434 555h0M434 558h0M434 559h0M434 560h0M434 561h0M434 562h0M434 563h0M434 564h0M434 565h0M434 566h0M434 580h0M435 532h0M435 537h0M435 542h0M435 543h0M435 544h0M435 548h0M435 549h0M435 550h0M435 551h0M435 558h0M435 562h0M435 564h0M435 565h0M435 568h0M435 570h0M436 536h0M436 541h0M436 543h0M436 545h0M436 547h0M436 551h0M436 552h0M436 556h0M436 558h0M436 559h0M436 560h0M436 561h0M436 564h0M436 567h0M436 571h0M437 533h0M437 537h0M437 544h0M437 546h0M437 548h0M437 552h0M437 558h0M437 560h0M437 564h0M437 566h0M437 568h0M437 571h0M438 539h0M438 544h0M438 548h0M438 549h0M438 550h0M438 552h0M438 553h0M438 554h0M438 555h0M438 558h0M438 559h0M438 560h0M438 563h0M438 567h0M438 568h0M439 540h0M439 544h0M439 545h0M439 548h0M439 551h0M439 552h0M439 553h0M439 554h0M439 555h0M439 557h0M439 563h0M439 564h0M439 565h0M439 571h0M440 530h0M440 542h0M440 544h0M440 545h0M440 546h0M440 547h0M440 548h0M440 552h0M440 554h0M440 556h0M440 557h0M440 558h0M440 559h0M440 560h0M440 562h0M440 568h0M440 572h0M441 529h0M441 541h0M441 542h0M441 545h0M441 546h0M441 547h0M441 552h0M441 554h0M441 555h0M441 558h0M441 561h0M441 566h0M441 569h0M442 539h0M442 542h0M442 546h0M442 547h0M442 548h0M442 549h0M442 553h0M442 554h0M442 556h0M442 557h0M442 560h0M442 561h0M442 567h0M442 572h0M443 526h0M443 537h0M443 543h0M443 545h0M443 546h0M443 548h0M443 550h0M443 551h0M443 560h0M444 546h0M444 547h0M444 548h0M444 549h0M444 552h0M444 553h0M444 555h0M444 556h0M444 560h0M444 562h0M445 530h0M445 548h0M445 549h0M445 550h0M445 552h0M445 553h0M445 559h0M445 560h0M446 545h0M446 546h0M446 548h0M446 549h0M446 551h0M446 553h0M446 560h0M447 534h0M447 540h0M447 541h0M447 545h0M447 546h0M447 548h0M447 551h0M447 558h0M447 559h0M448 539h0M448 543h0M448 544h0M448 546h0M448 547h0M448 549h0M448 567h0M449 537h0M449 543h0M449 548h0M449 549h0M449 551h0M449 552h0M449 556h0M449 561h0M450 541h0M450 545h0M450 551h0M450 558h0M451 543h0M451 559h0M453 535h0M453 536h0M453 546h0M453 549h0M453 551h0M453 553h0M454 550h0M454 551h0M454 564h0M455 534h0M455 545h0M455 560h0M456 536h0M456 544h0M456 550h0M456 553h0M456 571h0M457 541h0M458 554h0M458 562h0M459 523h0M459 549h0M461 538h0M461 543h0M464 549h0M464 553h0M478 540h0" stroke="#d42d1e" stroke-width="1.7" stroke-linecap="square" fill="none"/>
<path d="M331 607h0M331 626h0M332 582h0M332 598h0M332 599h0M333 608h0M333 610h0M333 615h0M334 583h0M334 624h0M334 625h0M335 592h0M335 612h0M335 614h0M335 619h0M335 630h0M336 594h0M336 598h0M336 607h0M336 638h0M336 639h0M337 591h0M337 592h0M337 604h0M337 627h0M337 632h0M337 637h0M338 587h0M338 607h0M338 626h0M338 638h0M339 598h0M339 604h0M339 606h0M339 617h0M339 620h0M340 609h0M340 613h0M340 614h0M340 616h0M340 624h0M341 605h0M341 618h0M342 577h0M342 595h0M342 601h0M342 612h0M342 627h0M342 637h0M343 604h0M343 616h0M343 634h0M344 595h0M344 604h0M344 619h0M344 640h0M345 593h0M345 617h0M345 635h0M346 590h0M346 594h0M346 600h0M346 605h0M347 583h0M347 586h0M347 588h0M347 613h0M347 639h0M348 599h0M348 600h0M348 607h0M348 613h0M348 614h0M348 619h0M348 622h0M348 631h0M349 590h0M349 592h0M349 597h0M349 602h0M349 603h0M349 608h0M349 624h0M350 588h0M350 606h0M350 609h0M350 610h0M350 612h0M350 619h0M350 624h0M350 625h0M350 626h0M351 585h0M351 586h0M351 595h0M351 604h0M351 616h0M351 625h0M352 587h0M352 591h0M352 595h0M352 599h0M352 600h0M352 617h0M352 621h0M352 628h0M352 638h0M352 639h0M353 581h0M353 584h0M353 598h0M353 599h0M353 601h0M353 603h0M353 607h0M353 611h0M353 613h0M353 626h0M353 635h0M353 640h0M354 587h0M354 589h0M354 594h0M354 595h0M354 599h0M354 606h0M354 609h0M354 610h0M354 620h0M354 625h0M354 626h0M355 574h0M355 610h0M355 612h0M355 613h0M355 614h0M355 617h0M355 618h0M355 619h0M356 559h0M356 600h0M356 602h0M356 603h0M356 605h0M356 608h0M356 611h0M356 613h0M356 624h0M356 629h0M357 574h0M357 580h0M357 588h0M357 590h0M357 594h0M357 595h0M357 604h0M357 614h0M357 615h0M357 622h0M357 626h0M357 627h0M357 629h0M357 631h0M357 637h0M358 584h0M358 591h0M358 602h0M358 603h0M358 605h0M358 606h0M358 609h0M358 613h0M358 615h0M358 622h0M358 628h0M358 636h0M359 578h0M359 595h0M359 598h0M359 599h0M359 602h0M359 603h0M359 606h0M359 609h0M359 626h0M359 631h0M359 637h0M360 583h0M360 593h0M360 594h0M360 595h0M360 598h0M360 609h0M360 610h0M360 612h0M360 619h0M360 626h0M360 628h0M360 638h0M361 581h0M361 584h0M361 587h0M361 594h0M361 595h0M361 596h0M361 603h0M361 607h0M361 610h0M361 613h0M361 622h0M361 625h0M361 627h0M362 583h0M362 587h0M362 589h0M362 593h0M362 604h0M362 605h0M362 617h0M362 623h0M362 629h0M362 639h0M363 579h0M363 583h0M363 585h0M363 594h0M363 602h0M363 606h0M363 617h0M363 618h0M363 626h0M363 627h0M363 635h0M364 590h0M364 604h0M364 605h0M364 606h0M364 610h0M364 612h0M364 616h0M364 624h0M364 626h0M364 632h0M364 636h0M365 583h0M365 591h0M365 594h0M365 600h0M365 604h0M365 607h0M365 612h0M365 614h0M365 615h0M365 620h0M365 623h0M365 626h0M365 627h0M365 632h0M366 581h0M366 583h0M366 584h0M366 588h0M366 593h0M366 595h0M366 597h0M366 599h0M366 600h0M366 611h0M366 612h0M366 615h0M366 617h0M366 618h0M366 620h0M366 621h0M366 626h0M366 629h0M367 575h0M367 581h0M367 584h0M367 585h0M367 588h0M367 590h0M367 591h0M367 596h0M367 597h0M367 599h0M367 603h0M367 610h0M367 614h0M367 635h0M367 637h0M367 638h0M368 582h0M368 589h0M368 593h0M368 596h0M368 597h0M368 602h0M368 609h0M368 611h0M368 621h0M368 639h0M369 588h0M369 591h0M369 592h0M369 594h0M369 595h0M369 601h0M369 604h0M369 607h0M369 611h0M369 617h0M369 618h0M369 630h0M370 584h0M370 588h0M370 589h0M370 594h0M370 596h0M370 602h0M370 606h0M370 607h0M370 610h0M370 612h0M370 615h0M370 616h0M370 628h0M370 636h0M371 582h0M371 590h0M371 593h0M371 604h0M371 606h0M371 607h0M371 609h0M371 615h0M371 625h0M371 634h0M372 593h0M372 594h0M372 597h0M372 601h0M372 602h0M372 603h0M372 607h0M372 611h0M372 616h0M372 633h0M372 635h0M372 636h0M373 575h0M373 582h0M373 587h0M373 589h0M373 592h0M373 596h0M373 598h0M373 600h0M373 601h0M373 605h0M373 616h0M373 618h0M373 621h0M373 633h0M374 576h0M374 578h0M374 584h0M374 599h0M374 600h0M374 605h0M374 607h0M374 612h0M374 615h0M374 618h0M374 627h0M375 577h0M375 580h0M375 581h0M375 593h0M375 594h0M375 596h0M375 597h0M375 606h0M375 607h0M375 611h0M375 613h0M375 615h0M375 617h0M375 620h0M375 623h0M375 624h0M375 631h0M376 583h0M376 595h0M376 597h0M376 599h0M376 603h0M376 608h0M376 610h0M376 614h0M376 616h0M376 617h0M376 619h0M376 628h0M377 555h0M377 574h0M377 586h0M377 592h0M377 593h0M377 604h0M377 605h0M377 607h0M377 608h0M377 620h0M377 635h0M378 562h0M378 580h0M378 586h0M378 589h0M378 590h0M378 594h0M378 595h0M378 597h0M378 600h0M378 603h0M378 614h0M378 619h0M378 626h0M378 627h0M379 573h0M379 585h0M379 593h0M379 599h0M379 609h0M379 614h0M379 620h0M379 625h0M380 579h0M380 589h0M380 590h0M380 600h0M380 601h0M380 604h0M380 610h0M380 616h0M380 622h0M380 624h0M380 636h0M381 575h0M381 584h0M381 592h0M381 593h0M381 600h0M381 602h0M381 612h0M381 618h0M381 620h0M381 629h0M382 573h0M382 576h0M382 589h0M382 590h0M382 592h0M382 596h0M382 607h0M382 609h0M382 623h0M382 628h0M382 640h0M383 552h0M383 563h0M383 566h0M383 579h0M383 581h0M383 585h0M383 589h0M383 592h0M383 594h0M383 596h0M383 623h0M383 628h0M383 636h0M384 552h0M384 557h0M384 574h0M384 576h0M384 579h0M384 580h0M384 581h0M384 585h0M384 594h0M384 596h0M384 599h0M384 601h0M384 612h0M384 616h0M384 626h0M384 628h0M384 633h0M384 634h0M385 571h0M385 573h0M385 580h0M385 581h0M385 583h0M385 585h0M385 586h0M385 589h0M385 594h0M385 599h0M385 604h0M385 610h0M385 613h0M385 615h0M386 546h0M386 554h0M386 570h0M386 574h0M386 575h0M386 580h0M386 583h0M386 597h0M386 598h0M386 623h0M387 557h0M387 571h0M387 573h0M387 576h0M387 582h0M387 586h0M387 591h0M387 594h0M387 596h0M387 603h0M387 608h0M387 615h0M387 622h0M387 625h0M387 628h0M388 570h0M388 571h0M388 572h0M388 575h0M388 579h0M388 584h0M388 586h0M388 599h0M388 604h0M388 605h0M388 614h0M388 615h0M388 635h0M389 550h0M389 555h0M389 562h0M389 574h0M389 576h0M389 580h0M389 583h0M389 584h0M389 590h0M389 599h0M389 601h0M389 609h0M389 611h0M389 615h0M389 619h0M389 620h0M389 622h0M389 623h0M389 628h0M389 631h0M389 639h0M390 571h0M390 574h0M390 577h0M390 579h0M390 580h0M390 583h0M390 585h0M390 588h0M390 594h0M390 602h0M390 608h0M390 610h0M390 620h0M391 566h0M391 573h0M391 575h0M391 577h0M391 582h0M391 587h0M391 588h0M391 589h0M391 590h0M391 605h0M391 608h0M391 609h0M391 610h0M391 622h0M391 624h0M391 633h0M392 564h0M392 566h0M392 569h0M392 571h0M392 573h0M392 575h0M392 576h0M392 578h0M392 579h0M392 580h0M392 581h0M392 593h0M392 602h0M392 604h0M392 607h0M392 612h0M393 552h0M393 555h0M393 568h0M393 569h0M393 570h0M393 571h0M393 572h0M393 576h0M393 577h0M393 580h0M393 581h0M393 583h0M393 595h0M393 599h0M393 600h0M393 615h0M393 629h0M393 634h0M394 566h0M394 571h0M394 573h0M394 574h0M394 576h0M394 580h0M394 583h0M394 585h0M394 591h0M394 597h0M394 605h0M394 613h0M394 616h0M394 622h0M394 625h0M395 553h0M395 563h0M395 565h0M395 566h0M395 567h0M395 569h0M395 570h0M395 572h0M395 574h0M395 575h0M395 576h0M395 578h0M395 579h0M395 582h0M395 585h0M395 588h0M395 592h0M395 614h0M395 625h0M396 555h0M396 569h0M396 572h0M396 573h0M396 574h0M396 581h0M396 582h0M396 583h0M396 584h0M396 586h0M396 588h0M396 591h0M396 593h0M396 595h0M396 611h0M396 614h0M396 631h0M397 556h0M397 567h0M397 569h0M397 574h0M397 575h0M397 576h0M397 579h0M397 580h0M397 582h0M397 588h0M397 593h0M397 604h0M397 613h0M397 623h0M398 546h0M398 558h0M398 560h0M398 565h0M398 566h0M398 570h0M398 571h0M398 573h0M398 574h0M398 576h0M398 577h0M398 578h0M398 579h0M398 583h0M398 588h0M398 595h0M398 596h0M398 606h0M398 607h0M398 616h0M398 620h0M398 623h0M399 545h0M399 547h0M399 567h0M399 570h0M399 571h0M399 573h0M399 575h0M399 576h0M399 577h0M399 580h0M399 582h0M399 583h0M399 596h0M399 606h0M399 611h0M399 618h0M400 542h0M400 553h0M400 554h0M400 558h0M400 560h0M400 563h0M400 565h0M400 566h0M400 568h0M400 571h0M400 573h0M400 574h0M400 576h0M400 577h0M400 578h0M400 588h0M400 591h0M400 593h0M400 594h0M400 596h0M400 601h0M400 604h0M400 623h0M401 563h0M401 568h0M401 572h0M401 573h0M401 574h0M401 579h0M401 582h0M401 583h0M401 585h0M401 600h0M401 603h0M401 611h0M401 626h0M402 558h0M402 564h0M402 568h0M402 572h0M402 573h0M402 576h0M402 580h0M402 581h0M402 582h0M402 586h0M402 587h0M402 602h0M402 610h0M402 616h0M402 629h0M403 556h0M403 562h0M403 566h0M403 567h0M403 569h0M403 571h0M403 572h0M403 574h0M403 575h0M403 576h0M403 580h0M403 581h0M403 583h0M403 589h0M403 590h0M403 612h0M403 617h0M403 629h0M403 633h0M404 552h0M404 554h0M404 555h0M404 561h0M404 564h0M404 566h0M404 567h0M404 568h0M404 572h0M404 573h0M404 574h0M404 576h0M404 577h0M404 578h0M404 580h0M404 593h0M404 611h0M404 617h0M405 554h0M405 562h0M405 563h0M405 565h0M405 569h0M405 570h0M405 571h0M405 572h0M405 573h0M405 576h0M405 577h0M405 579h0M405 580h0M405 592h0M405 594h0M405 601h0M405 602h0M405 606h0M405 617h0M406 554h0M406 558h0M406 559h0M406 560h0M406 564h0M406 567h0M406 570h0M406 572h0M406 573h0M406 574h0M406 576h0M406 585h0M406 589h0M406 600h0M406 603h0M406 605h0M407 528h0M407 537h0M407 548h0M407 555h0M407 557h0M407 562h0M407 568h0M407 569h0M407 576h0M407 579h0M407 580h0M407 591h0M407 593h0M407 597h0M407 601h0M407 616h0M408 546h0M408 547h0M408 553h0M408 560h0M408 562h0M408 571h0M408 572h0M408 574h0M408 575h0M408 577h0M408 578h0M408 581h0M408 583h0M408 595h0M408 609h0M408 610h0M408 614h0M408 618h0M409 531h0M409 549h0M409 551h0M409 556h0M409 559h0M409 561h0M409 563h0M409 567h0M409 570h0M409 571h0M409 573h0M409 591h0M409 636h0M410 554h0M410 558h0M410 559h0M410 560h0M410 566h0M410 567h0M410 568h0M410 569h0M410 572h0M410 573h0M410 588h0M410 600h0M410 603h0M411 540h0M411 543h0M411 546h0M411 552h0M411 557h0M411 562h0M411 564h0M411 567h0M411 571h0M411 573h0M411 579h0M411 582h0M411 598h0M411 603h0M411 604h0M412 549h0M412 559h0M412 560h0M412 562h0M412 565h0M412 566h0M412 574h0M412 576h0M412 579h0M412 580h0M412 584h0M412 595h0M412 598h0M412 605h0M412 610h0M413 549h0M413 557h0M413 558h0M413 562h0M413 569h0M413 570h0M413 573h0M413 574h0M413 620h0M413 626h0M414 549h0M414 560h0M414 563h0M414 566h0M414 567h0M414 571h0M414 572h0M414 591h0M414 595h0M415 550h0M415 558h0M415 559h0M415 567h0M415 580h0M415 591h0M415 635h0M416 537h0M416 544h0M416 561h0M416 563h0M416 564h0M416 566h0M416 567h0M416 571h0M416 573h0M416 574h0M416 575h0M416 577h0M416 578h0M416 580h0M416 586h0M416 591h0M416 597h0M416 600h0M416 606h0M416 607h0M417 542h0M417 546h0M417 551h0M417 561h0M417 562h0M417 564h0M417 567h0M417 571h0M417 578h0M417 596h0M417 619h0M417 633h0M418 540h0M418 549h0M418 561h0M418 563h0M418 569h0M418 572h0M418 584h0M418 587h0M418 597h0M419 543h0M419 548h0M419 549h0M419 553h0M419 557h0M419 573h0M419 578h0M419 593h0M420 527h0M420 545h0M420 550h0M420 552h0M420 554h0M420 556h0M420 565h0M420 567h0M421 528h0M421 548h0M421 549h0M421 556h0M421 559h0M421 561h0M421 568h0M421 576h0M421 587h0M421 622h0M421 623h0M422 545h0M422 546h0M422 553h0M422 554h0M422 558h0M422 559h0M422 560h0M422 562h0M422 564h0M422 569h0M422 579h0M422 592h0M422 606h0M423 532h0M423 533h0M423 534h0M423 546h0M423 548h0M423 552h0M423 556h0M423 559h0M423 564h0M423 566h0M423 567h0M423 601h0M424 545h0M424 557h0M424 558h0M424 560h0M424 562h0M424 563h0M424 608h0M425 544h0M425 550h0M425 554h0M425 558h0M425 562h0M425 563h0M425 566h0M426 544h0M426 552h0M426 566h0M426 572h0M426 580h0M427 539h0M427 543h0M427 554h0M427 558h0M427 564h0M427 570h0M427 621h0M428 560h0M428 569h0M428 575h0M428 591h0M428 604h0M429 531h0M429 534h0M429 549h0M429 550h0M429 552h0M429 553h0M429 560h0M429 564h0M430 536h0M430 548h0M430 555h0M430 556h0M430 558h0M430 559h0M430 596h0M431 547h0M431 548h0M431 558h0M431 562h0M431 567h0M431 616h0M432 534h0M432 537h0M432 540h0M432 541h0M432 543h0M432 552h0M432 555h0M432 572h0M432 593h0M433 545h0M433 551h0M433 555h0M433 559h0M433 560h0M433 566h0M433 567h0M433 572h0M433 578h0M433 579h0M433 607h0M434 544h0M434 556h0M434 563h0M435 545h0M435 562h0M436 530h0M436 538h0M436 541h0M436 545h0M436 552h0M436 553h0M436 563h0M436 564h0M436 578h0M437 536h0M437 539h0M437 541h0M437 545h0M437 547h0M437 550h0M437 551h0M437 557h0M437 573h0M438 527h0M438 532h0M438 533h0M438 539h0M438 551h0M438 561h0M438 564h0M438 569h0M439 532h0M439 542h0M439 546h0M439 549h0M439 552h0M439 554h0M439 558h0M439 560h0M439 561h0M439 565h0M439 566h0M439 568h0M440 531h0M440 539h0M440 550h0M440 562h0M440 563h0M440 566h0M441 516h0M441 542h0M441 545h0M441 551h0M441 553h0M441 554h0M441 559h0M441 562h0M441 567h0M441 572h0M442 546h0M442 547h0M442 548h0M442 553h0M442 556h0M442 557h0M442 558h0M442 561h0M443 541h0M443 555h0M443 559h0M444 544h0M444 546h0M444 547h0M444 548h0M444 557h0M444 558h0M444 572h0M444 573h0M445 542h0M445 544h0M445 545h0M445 558h0M446 542h0M446 553h0M446 558h0M447 536h0M447 546h0M447 554h0M447 556h0M447 577h0M448 546h0M448 548h0M448 549h0M448 553h0M449 523h0M449 532h0M449 536h0M449 546h0M449 558h0M450 534h0M450 550h0M450 554h0M451 519h0M451 535h0M451 538h0M451 542h0M452 540h0M452 548h0M452 560h0M452 568h0M453 534h0M453 541h0M453 543h0M453 549h0M453 567h0M453 604h0M454 539h0M454 545h0M454 548h0M454 551h0M454 555h0M454 564h0M454 584h0M455 546h0M455 548h0M456 541h0M456 543h0M456 559h0M456 560h0M457 528h0M457 547h0M457 552h0M457 556h0M457 560h0M458 538h0M458 553h0M459 539h0M459 558h0M460 549h0M460 557h0M461 548h0M461 551h0M461 554h0M462 544h0M463 532h0M463 544h0M463 565h0M464 534h0M464 554h0M464 568h0M464 572h0M465 543h0M465 547h0M465 549h0M466 530h0M466 538h0M466 540h0M468 540h0M468 559h0M469 534h0M469 550h0M474 537h0M474 542h0M474 548h0M476 546h0M476 558h0M482 560h0" stroke="#b02820" stroke-width="1.7" stroke-linecap="square" fill="none"/>
<path d="M331 637h0M336 639h0M343 640h0M345 639h0M345 640h0M346 639h0M350 640h0M351 542h0M351 565h0M353 535h0M353 639h0M354 640h0M355 638h0M358 639h0M365 554h0M367 640h0M369 639h0M369 640h0M372 640h0M374 640h0M378 640h0M380 640h0M381 639h0M381 640h0M384 569h0M389 554h0M391 640h0M393 640h0M397 640h0M399 640h0M402 640h0M403 640h0M405 639h0M406 639h0M407 617h0M409 640h0M411 639h0M412 577h0M415 588h0M418 588h0M418 613h0M418 614h0M419 582h0M419 639h0M420 612h0M420 638h0M420 639h0M421 640h0M422 611h0M423 567h0M423 579h0M423 604h0M423 605h0M423 640h0M424 577h0M424 604h0M424 606h0M425 589h0M425 594h0M425 624h0M426 614h0M426 621h0M426 629h0M426 639h0M427 604h0M427 640h0M428 579h0M428 585h0M428 591h0M428 603h0M428 637h0M428 638h0M429 610h0M429 640h0M430 579h0M430 581h0M430 593h0M430 596h0M430 609h0M430 639h0M431 552h0M431 567h0M431 592h0M431 601h0M431 608h0M431 611h0M431 613h0M431 639h0M431 640h0M432 575h0M432 594h0M432 597h0M432 610h0M432 620h0M432 624h0M433 584h0M433 608h0M433 611h0M433 622h0M434 568h0M434 579h0M434 586h0M434 592h0M434 610h0M434 627h0M434 640h0M435 591h0M435 597h0M435 598h0M435 601h0M435 609h0M435 640h0M436 567h0M436 586h0M436 596h0M436 606h0M436 612h0M436 615h0M436 619h0M436 623h0M436 634h0M437 577h0M437 589h0M437 618h0M437 629h0M438 595h0M438 600h0M438 618h0M438 635h0M438 637h0M438 640h0M439 537h0M439 547h0M439 573h0M439 609h0M439 615h0M439 619h0M439 620h0M440 565h0M440 582h0M440 584h0M440 594h0M440 598h0M440 602h0M440 617h0M441 529h0M441 535h0M441 587h0M441 600h0M441 606h0M441 629h0M442 569h0M442 574h0M442 580h0M442 596h0M442 600h0M442 606h0M442 615h0M442 625h0M443 618h0M443 636h0M444 545h0M444 593h0M444 602h0M444 604h0M444 606h0M444 621h0M444 628h0M445 530h0M445 598h0M446 587h0M446 602h0M446 606h0M446 620h0M446 639h0M447 534h0M447 539h0M447 583h0M447 589h0M447 598h0M447 617h0M448 532h0M448 536h0M448 561h0M448 605h0M448 615h0M448 630h0M448 638h0M449 521h0M449 584h0M449 593h0M449 598h0M450 610h0M450 612h0M451 573h0M451 582h0M451 600h0M451 608h0M452 534h0M452 593h0M452 631h0M452 639h0M453 577h0M453 625h0M453 628h0M454 513h0M454 542h0M454 574h0M454 589h0M454 635h0M455 566h0M455 574h0M455 586h0M455 604h0M455 611h0M455 620h0M456 611h0M456 632h0M458 640h0M459 588h0M459 621h0M460 596h0M460 606h0M462 514h0M462 587h0M462 639h0M463 532h0M463 601h0M463 633h0M464 521h0M464 527h0M464 546h0M464 614h0M466 529h0M466 612h0M467 544h0M468 588h0M468 636h0M469 543h0M469 601h0M469 605h0M471 582h0M471 585h0M471 633h0M472 524h0M472 538h0M472 546h0M472 617h0M473 520h0M473 528h0M473 634h0M474 518h0M475 592h0M476 514h0M477 591h0M477 625h0M478 545h0M478 574h0M479 537h0M479 545h0M479 580h0M479 626h0M480 514h0M480 523h0M480 547h0M480 581h0M482 629h0M485 580h0" stroke="#74303a" stroke-width="1.7" stroke-linecap="square" fill="none"/>
<line x1="424.4" y1="459.5" x2="424.4" y2="641.5" stroke="#000" stroke-width="1.3" stroke-linecap="butt"/>
<line x1="330.0" y1="572.3" x2="500.0" y2="572.3" stroke="#000" stroke-width="1.3" stroke-linecap="butt"/>
<rect x="330.0" y="459.5" width="170.0" height="182.0" fill="none" stroke="#000" stroke-width="1.3"/>
<line x1="342.7" y1="641.5" x2="342.7" y2="644.3" stroke="#000" stroke-width="1" stroke-linecap="butt"/>
<line x1="350.2" y1="641.5" x2="350.2" y2="644.3" stroke="#000" stroke-width="1" stroke-linecap="butt"/>
<line x1="355.5" y1="641.5" x2="355.5" y2="644.3" stroke="#000" stroke-width="1" stroke-linecap="butt"/>
<line x1="359.6" y1="641.5" x2="359.6" y2="644.3" stroke="#000" stroke-width="1" stroke-linecap="butt"/>
<line x1="363.0" y1="641.5" x2="363.0" y2="644.3" stroke="#000" stroke-width="1" stroke-linecap="butt"/>
<line x1="365.8" y1="641.5" x2="365.8" y2="644.3" stroke="#000" stroke-width="1" stroke-linecap="butt"/>
<line x1="368.2" y1="641.5" x2="368.2" y2="644.3" stroke="#000" stroke-width="1" stroke-linecap="butt"/>
<line x1="370.4" y1="641.5" x2="370.4" y2="644.3" stroke="#000" stroke-width="1" stroke-linecap="butt"/>
<line x1="330.0" y1="641.5" x2="330.0" y2="645.5" stroke="#000" stroke-width="1.2" stroke-linecap="butt"/>
<line x1="327.2" y1="627.8" x2="330.0" y2="627.8" stroke="#000" stroke-width="1" stroke-linecap="butt"/>
<line x1="327.2" y1="619.8" x2="330.0" y2="619.8" stroke="#000" stroke-width="1" stroke-linecap="butt"/>
<line x1="327.2" y1="614.1" x2="330.0" y2="614.1" stroke="#000" stroke-width="1" stroke-linecap="butt"/>
<line x1="327.2" y1="609.7" x2="330.0" y2="609.7" stroke="#000" stroke-width="1" stroke-linecap="butt"/>
<line x1="327.2" y1="606.1" x2="330.0" y2="606.1" stroke="#000" stroke-width="1" stroke-linecap="butt"/>
<line x1="327.2" y1="603.0" x2="330.0" y2="603.0" stroke="#000" stroke-width="1" stroke-linecap="butt"/>
<line x1="327.2" y1="600.4" x2="330.0" y2="600.4" stroke="#000" stroke-width="1" stroke-linecap="butt"/>
<line x1="327.2" y1="598.1" x2="330.0" y2="598.1" stroke="#000" stroke-width="1" stroke-linecap="butt"/>
<line x1="326.0" y1="641.5" x2="330.0" y2="641.5" stroke="#000" stroke-width="1.2" stroke-linecap="butt"/>
<line x1="385.1" y1="641.5" x2="385.1" y2="644.3" stroke="#000" stroke-width="1" stroke-linecap="butt"/>
<line x1="392.6" y1="641.5" x2="392.6" y2="644.3" stroke="#000" stroke-width="1" stroke-linecap="butt"/>
<line x1="397.8" y1="641.5" x2="397.8" y2="644.3" stroke="#000" stroke-width="1" stroke-linecap="butt"/>
<line x1="402.0" y1="641.5" x2="402.0" y2="644.3" stroke="#000" stroke-width="1" stroke-linecap="butt"/>
<line x1="405.3" y1="641.5" x2="405.3" y2="644.3" stroke="#000" stroke-width="1" stroke-linecap="butt"/>
<line x1="408.1" y1="641.5" x2="408.1" y2="644.3" stroke="#000" stroke-width="1" stroke-linecap="butt"/>
<line x1="410.6" y1="641.5" x2="410.6" y2="644.3" stroke="#000" stroke-width="1" stroke-linecap="butt"/>
<line x1="412.8" y1="641.5" x2="412.8" y2="644.3" stroke="#000" stroke-width="1" stroke-linecap="butt"/>
<line x1="372.4" y1="641.5" x2="372.4" y2="645.5" stroke="#000" stroke-width="1.2" stroke-linecap="butt"/>
<line x1="327.2" y1="582.3" x2="330.0" y2="582.3" stroke="#000" stroke-width="1" stroke-linecap="butt"/>
<line x1="327.2" y1="574.3" x2="330.0" y2="574.3" stroke="#000" stroke-width="1" stroke-linecap="butt"/>
<line x1="327.2" y1="568.6" x2="330.0" y2="568.6" stroke="#000" stroke-width="1" stroke-linecap="butt"/>
<line x1="327.2" y1="564.2" x2="330.0" y2="564.2" stroke="#000" stroke-width="1" stroke-linecap="butt"/>
<line x1="327.2" y1="560.6" x2="330.0" y2="560.6" stroke="#000" stroke-width="1" stroke-linecap="butt"/>
<line x1="327.2" y1="557.5" x2="330.0" y2="557.5" stroke="#000" stroke-width="1" stroke-linecap="butt"/>
<line x1="327.2" y1="554.9" x2="330.0" y2="554.9" stroke="#000" stroke-width="1" stroke-linecap="butt"/>
<line x1="327.2" y1="552.6" x2="330.0" y2="552.6" stroke="#000" stroke-width="1" stroke-linecap="butt"/>
<line x1="326.0" y1="596.0" x2="330.0" y2="596.0" stroke="#000" stroke-width="1.2" stroke-linecap="butt"/>
<line x1="427.4" y1="641.5" x2="427.4" y2="644.3" stroke="#000" stroke-width="1" stroke-linecap="butt"/>
<line x1="434.9" y1="641.5" x2="434.9" y2="644.3" stroke="#000" stroke-width="1" stroke-linecap="butt"/>
<line x1="440.2" y1="641.5" x2="440.2" y2="644.3" stroke="#000" stroke-width="1" stroke-linecap="butt"/>
<line x1="444.3" y1="641.5" x2="444.3" y2="644.3" stroke="#000" stroke-width="1" stroke-linecap="butt"/>
<line x1="447.7" y1="641.5" x2="447.7" y2="644.3" stroke="#000" stroke-width="1" stroke-linecap="butt"/>
<line x1="450.5" y1="641.5" x2="450.5" y2="644.3" stroke="#000" stroke-width="1" stroke-linecap="butt"/>
<line x1="452.9" y1="641.5" x2="452.9" y2="644.3" stroke="#000" stroke-width="1" stroke-linecap="butt"/>
<line x1="455.1" y1="641.5" x2="455.1" y2="644.3" stroke="#000" stroke-width="1" stroke-linecap="butt"/>
<line x1="414.7" y1="641.5" x2="414.7" y2="645.5" stroke="#000" stroke-width="1.2" stroke-linecap="butt"/>
<line x1="327.2" y1="536.8" x2="330.0" y2="536.8" stroke="#000" stroke-width="1" stroke-linecap="butt"/>
<line x1="327.2" y1="528.8" x2="330.0" y2="528.8" stroke="#000" stroke-width="1" stroke-linecap="butt"/>
<line x1="327.2" y1="523.1" x2="330.0" y2="523.1" stroke="#000" stroke-width="1" stroke-linecap="butt"/>
<line x1="327.2" y1="518.7" x2="330.0" y2="518.7" stroke="#000" stroke-width="1" stroke-linecap="butt"/>
<line x1="327.2" y1="515.1" x2="330.0" y2="515.1" stroke="#000" stroke-width="1" stroke-linecap="butt"/>
<line x1="327.2" y1="512.0" x2="330.0" y2="512.0" stroke="#000" stroke-width="1" stroke-linecap="butt"/>
<line x1="327.2" y1="509.4" x2="330.0" y2="509.4" stroke="#000" stroke-width="1" stroke-linecap="butt"/>
<line x1="327.2" y1="507.1" x2="330.0" y2="507.1" stroke="#000" stroke-width="1" stroke-linecap="butt"/>
<line x1="326.0" y1="550.5" x2="330.0" y2="550.5" stroke="#000" stroke-width="1.2" stroke-linecap="butt"/>
<line x1="469.8" y1="641.5" x2="469.8" y2="644.3" stroke="#000" stroke-width="1" stroke-linecap="butt"/>
<line x1="477.3" y1="641.5" x2="477.3" y2="644.3" stroke="#000" stroke-width="1" stroke-linecap="butt"/>
<line x1="482.5" y1="641.5" x2="482.5" y2="644.3" stroke="#000" stroke-width="1" stroke-linecap="butt"/>
<line x1="486.7" y1="641.5" x2="486.7" y2="644.3" stroke="#000" stroke-width="1" stroke-linecap="butt"/>
<line x1="490.0" y1="641.5" x2="490.0" y2="644.3" stroke="#000" stroke-width="1" stroke-linecap="butt"/>
<line x1="492.8" y1="641.5" x2="492.8" y2="644.3" stroke="#000" stroke-width="1" stroke-linecap="butt"/>
<line x1="495.3" y1="641.5" x2="495.3" y2="644.3" stroke="#000" stroke-width="1" stroke-linecap="butt"/>
<line x1="497.5" y1="641.5" x2="497.5" y2="644.3" stroke="#000" stroke-width="1" stroke-linecap="butt"/>
<line x1="457.1" y1="641.5" x2="457.1" y2="645.5" stroke="#000" stroke-width="1.2" stroke-linecap="butt"/>
<line x1="327.2" y1="491.3" x2="330.0" y2="491.3" stroke="#000" stroke-width="1" stroke-linecap="butt"/>
<line x1="327.2" y1="483.3" x2="330.0" y2="483.3" stroke="#000" stroke-width="1" stroke-linecap="butt"/>
<line x1="327.2" y1="477.6" x2="330.0" y2="477.6" stroke="#000" stroke-width="1" stroke-linecap="butt"/>
<line x1="327.2" y1="473.2" x2="330.0" y2="473.2" stroke="#000" stroke-width="1" stroke-linecap="butt"/>
<line x1="327.2" y1="469.6" x2="330.0" y2="469.6" stroke="#000" stroke-width="1" stroke-linecap="butt"/>
<line x1="327.2" y1="466.5" x2="330.0" y2="466.5" stroke="#000" stroke-width="1" stroke-linecap="butt"/>
<line x1="327.2" y1="463.9" x2="330.0" y2="463.9" stroke="#000" stroke-width="1" stroke-linecap="butt"/>
<line x1="327.2" y1="461.6" x2="330.0" y2="461.6" stroke="#000" stroke-width="1" stroke-linecap="butt"/>
<line x1="326.0" y1="505.0" x2="330.0" y2="505.0" stroke="#000" stroke-width="1.2" stroke-linecap="butt"/>
<line x1="499.4" y1="641.5" x2="499.4" y2="645.5" stroke="#000" stroke-width="1.2" stroke-linecap="butt"/>
<line x1="326.0" y1="459.5" x2="330.0" y2="459.5" stroke="#000" stroke-width="1.2" stroke-linecap="butt"/>
<rect x="591.2" y="455.7" width="169.8" height="182.7" fill="#fff"/>
<path d="M592 577h0M592 579h0M592 580h0M592 582h0M592 583h0M592 584h0M592 585h0M592 587h0M592 588h0M592 589h0M592 590h0M592 591h0M592 594h0M592 595h0M592 596h0M592 597h0M592 598h0M592 600h0M592 601h0M592 602h0M592 603h0M592 604h0M592 605h0M592 606h0M592 607h0M592 608h0M592 609h0M592 610h0M592 611h0M592 612h0M592 614h0M592 615h0M592 617h0M592 618h0M592 619h0M592 622h0M592 623h0M592 626h0M592 628h0M592 629h0M592 630h0M592 631h0M592 632h0M592 633h0M592 634h0M592 636h0M592 637h0M593 575h0M593 576h0M593 577h0M593 578h0M593 579h0M593 580h0M593 581h0M593 582h0M593 583h0M593 584h0M593 585h0M593 586h0M593 587h0M593 588h0M593 589h0M593 590h0M593 591h0M593 592h0M593 593h0M593 594h0M593 595h0M593 596h0M593 597h0M593 598h0M593 599h0M593 600h0M593 601h0M593 602h0M593 603h0M593 604h0M593 605h0M593 606h0M593 607h0M593 608h0M593 610h0M593 611h0M593 612h0M593 613h0M593 614h0M593 615h0M593 616h0M593 617h0M593 618h0M593 619h0M593 620h0M593 621h0M593 622h0M593 623h0M593 624h0M593 625h0M593 626h0M593 627h0M593 628h0M593 629h0M593 630h0M593 631h0M593 632h0M593 633h0M593 634h0M593 635h0M593 636h0M593 637h0M594 575h0M594 576h0M594 577h0M594 578h0M594 579h0M594 580h0M594 581h0M594 582h0M594 584h0M594 585h0M594 586h0M594 587h0M594 588h0M594 589h0M594 590h0M594 591h0M594 593h0M594 594h0M594 595h0M594 596h0M594 597h0M594 598h0M594 599h0M594 600h0M594 601h0M594 602h0M594 603h0M594 604h0M594 605h0M594 606h0M594 607h0M594 608h0M594 609h0M594 610h0M594 611h0M594 612h0M594 613h0M594 615h0M594 618h0M594 619h0M594 620h0M594 621h0M594 622h0M594 623h0M594 624h0M594 625h0M594 626h0M594 627h0M594 628h0M594 629h0M594 630h0M594 631h0M594 633h0M594 634h0M594 635h0M594 636h0M595 574h0M595 575h0M595 576h0M595 577h0M595 578h0M595 579h0M595 580h0M595 583h0M595 584h0M595 585h0M595 587h0M595 588h0M595 590h0M595 591h0M595 592h0M595 593h0M595 594h0M595 595h0M595 596h0M595 597h0M595 598h0M595 599h0M595 600h0M595 601h0M595 602h0M595 603h0M595 604h0M595 605h0M595 606h0M595 607h0M595 608h0M595 609h0M595 610h0M595 611h0M595 612h0M595 613h0M595 614h0M595 615h0M595 616h0M595 617h0M595 618h0M595 619h0M595 621h0M595 622h0M595 624h0M595 626h0M595 627h0M595 630h0M595 631h0M595 632h0M595 633h0M595 635h0M595 636h0M595 637h0M596 574h0M596 575h0M596 576h0M596 577h0M596 578h0M596 579h0M596 580h0M596 581h0M596 583h0M596 584h0M596 585h0M596 587h0M596 588h0M596 589h0M596 591h0M596 592h0M596 593h0M596 594h0M596 595h0M596 596h0M596 597h0M596 598h0M596 599h0M596 601h0M596 602h0M596 603h0M596 604h0M596 605h0M596 606h0M596 608h0M596 609h0M596 610h0M596 611h0M596 614h0M596 615h0M596 617h0M596 618h0M596 619h0M596 620h0M596 623h0M596 624h0M596 626h0M596 627h0M596 628h0M596 629h0M596 630h0M596 633h0M596 635h0M596 636h0M596 637h0M597 575h0M597 576h0M597 577h0M597 578h0M597 580h0M597 581h0M597 582h0M597 583h0M597 584h0M597 585h0M597 586h0M597 588h0M597 589h0M597 590h0M597 592h0M597 593h0M597 595h0M597 596h0M597 597h0M597 598h0M597 599h0M597 601h0M597 602h0M597 604h0M597 605h0M597 608h0M597 609h0M597 611h0M597 612h0M597 615h0M597 617h0M597 618h0M597 620h0M597 622h0M597 623h0M597 625h0M597 626h0M597 627h0M597 629h0M597 631h0M597 632h0M597 634h0M597 636h0M597 637h0M598 576h0M598 577h0M598 578h0M598 580h0M598 582h0M598 583h0M598 584h0M598 585h0M598 589h0M598 591h0M598 592h0M598 593h0M598 597h0M598 600h0M598 601h0M598 605h0M598 606h0M598 607h0M598 610h0M598 611h0M598 613h0M598 616h0M598 617h0M598 621h0M598 623h0M598 625h0M598 628h0M598 629h0M598 635h0M598 637h0M599 575h0M599 578h0M599 580h0M599 582h0M599 583h0M599 586h0M599 590h0M599 591h0M599 593h0M599 595h0M599 596h0M599 597h0M599 605h0M599 606h0M599 608h0M599 611h0M599 612h0M599 613h0M599 618h0M599 621h0M599 624h0M599 625h0M599 628h0M599 631h0M599 632h0M599 633h0M599 634h0M599 635h0M599 636h0M599 637h0M600 577h0M600 580h0M600 581h0M600 584h0M600 590h0M600 591h0M600 593h0M600 594h0M600 597h0M600 599h0M600 603h0M600 605h0M600 606h0M600 611h0M600 612h0M600 613h0M600 615h0M600 616h0M600 618h0M600 620h0M600 621h0M600 624h0M600 625h0M600 626h0M600 627h0M600 630h0M600 631h0M600 635h0M601 576h0M601 589h0M601 591h0M601 595h0M601 597h0M601 601h0M601 603h0M601 606h0M601 613h0M601 619h0M601 620h0M601 624h0M601 627h0M601 630h0M601 632h0M601 633h0M601 634h0M601 635h0M601 637h0M602 574h0M602 585h0M602 587h0M602 589h0M602 593h0M602 600h0M602 601h0M602 602h0M602 604h0M602 607h0M602 611h0M602 614h0M602 615h0M602 621h0M602 628h0M602 630h0M602 634h0M602 635h0M603 583h0M603 584h0M603 589h0M603 594h0M603 601h0M603 606h0M603 607h0M603 608h0M603 610h0M603 611h0M603 613h0M603 619h0M603 631h0M603 633h0M603 635h0M603 636h0M603 637h0M604 584h0M604 586h0M604 588h0M604 590h0M604 599h0M604 600h0M604 604h0M604 605h0M604 606h0M604 610h0M604 611h0M604 617h0M604 623h0M604 624h0M604 633h0M604 635h0M604 636h0M605 573h0M605 580h0M605 581h0M605 586h0M605 592h0M605 599h0M605 606h0M605 612h0M605 624h0M605 629h0M605 634h0M605 635h0M605 637h0M606 577h0M606 584h0M606 594h0M606 596h0M606 598h0M606 602h0M606 603h0M606 606h0M606 607h0M606 611h0M606 613h0M606 626h0M606 634h0M607 584h0M607 591h0M607 598h0M607 600h0M607 602h0M607 603h0M607 604h0M607 606h0M607 609h0M607 611h0M607 612h0M607 613h0M607 620h0M607 626h0M607 628h0M607 634h0M608 581h0M608 588h0M608 589h0M608 591h0M608 603h0M608 608h0M608 610h0M608 611h0M608 614h0M608 618h0M608 621h0M608 633h0M608 637h0M609 583h0M609 594h0M609 595h0M609 596h0M609 597h0M609 604h0M609 605h0M609 607h0M609 608h0M609 611h0M609 612h0M609 613h0M609 631h0M609 637h0M610 577h0M610 579h0M610 588h0M610 589h0M610 592h0M610 594h0M610 596h0M610 606h0M610 610h0M610 614h0M610 615h0M610 619h0M610 622h0M610 633h0M610 635h0M610 636h0M610 637h0M611 576h0M611 591h0M611 594h0M611 597h0M611 598h0M611 600h0M611 601h0M611 602h0M611 603h0M611 604h0M611 606h0M611 607h0M611 611h0M611 612h0M611 613h0M611 614h0M611 615h0M611 634h0M611 636h0M611 637h0M612 582h0M612 584h0M612 585h0M612 586h0M612 587h0M612 588h0M612 589h0M612 593h0M612 594h0M612 595h0M612 597h0M612 598h0M612 601h0M612 605h0M612 607h0M612 608h0M612 610h0M612 629h0M612 633h0M613 584h0M613 585h0M613 586h0M613 589h0M613 591h0M613 594h0M613 595h0M613 597h0M613 599h0M613 602h0M613 603h0M613 605h0M613 609h0M613 611h0M613 616h0M613 631h0M613 634h0M614 574h0M614 585h0M614 589h0M614 593h0M614 598h0M614 600h0M614 601h0M614 602h0M614 604h0M614 606h0M614 609h0M614 611h0M614 613h0M614 618h0M614 619h0M614 631h0M614 632h0M614 635h0M614 636h0M614 637h0M615 579h0M615 584h0M615 585h0M615 591h0M615 593h0M615 596h0M615 597h0M615 598h0M615 599h0M615 601h0M615 603h0M615 605h0M615 607h0M615 610h0M615 613h0M615 614h0M615 635h0M616 575h0M616 584h0M616 585h0M616 589h0M616 590h0M616 592h0M616 596h0M616 597h0M616 601h0M616 603h0M616 604h0M616 606h0M616 607h0M616 608h0M616 609h0M616 614h0M616 636h0M616 637h0M617 582h0M617 586h0M617 588h0M617 589h0M617 590h0M617 591h0M617 597h0M617 598h0M617 600h0M617 601h0M617 602h0M617 603h0M617 605h0M617 609h0M617 615h0M617 617h0M617 618h0M617 619h0M617 633h0M617 635h0M617 637h0M618 577h0M618 583h0M618 586h0M618 587h0M618 592h0M618 594h0M618 596h0M618 597h0M618 598h0M618 599h0M618 601h0M618 602h0M618 604h0M618 605h0M618 606h0M618 608h0M618 609h0M618 610h0M618 612h0M618 614h0M618 617h0M618 618h0M618 619h0M618 624h0M618 625h0M618 628h0M618 634h0M618 637h0M619 581h0M619 586h0M619 588h0M619 589h0M619 592h0M619 593h0M619 594h0M619 595h0M619 596h0M619 597h0M619 598h0M619 599h0M619 602h0M619 609h0M619 610h0M619 613h0M619 615h0M619 616h0M619 637h0M620 575h0M620 584h0M620 585h0M620 586h0M620 587h0M620 588h0M620 591h0M620 592h0M620 595h0M620 597h0M620 598h0M620 602h0M620 603h0M620 607h0M620 608h0M620 609h0M620 611h0M620 613h0M620 617h0M620 621h0M620 622h0M620 624h0M620 632h0M620 635h0M620 636h0M620 637h0M621 576h0M621 582h0M621 583h0M621 587h0M621 588h0M621 589h0M621 594h0M621 596h0M621 597h0M621 598h0M621 600h0M621 602h0M621 604h0M621 605h0M621 606h0M621 607h0M621 609h0M621 610h0M621 611h0M621 613h0M621 616h0M621 623h0M621 630h0M621 635h0M621 637h0M622 578h0M622 580h0M622 585h0M622 588h0M622 589h0M622 590h0M622 591h0M622 594h0M622 596h0M622 598h0M622 599h0M622 600h0M622 601h0M622 602h0M622 604h0M622 605h0M622 607h0M622 608h0M622 609h0M622 610h0M622 611h0M622 612h0M622 614h0M622 617h0M622 623h0M622 634h0M623 574h0M623 577h0M623 580h0M623 581h0M623 582h0M623 586h0M623 590h0M623 591h0M623 592h0M623 593h0M623 595h0M623 596h0M623 597h0M623 600h0M623 602h0M623 604h0M623 605h0M623 606h0M623 607h0M623 608h0M623 609h0M623 616h0M623 618h0M623 622h0M623 623h0M623 624h0M623 625h0M624 579h0M624 586h0M624 587h0M624 589h0M624 590h0M624 593h0M624 595h0M624 596h0M624 597h0M624 599h0M624 600h0M624 601h0M624 602h0M624 603h0M624 605h0M624 606h0M624 609h0M624 611h0M624 612h0M624 613h0M624 614h0M624 617h0M624 618h0M624 633h0M625 582h0M625 584h0M625 588h0M625 590h0M625 592h0M625 594h0M625 595h0M625 598h0M625 599h0M625 601h0M625 602h0M625 603h0M625 604h0M625 605h0M625 606h0M625 607h0M625 609h0M625 610h0M625 612h0M625 613h0M625 614h0M625 618h0M625 624h0M625 627h0M625 634h0M625 637h0M626 575h0M626 576h0M626 579h0M626 581h0M626 586h0M626 587h0M626 589h0M626 590h0M626 591h0M626 592h0M626 593h0M626 594h0M626 595h0M626 596h0M626 597h0M626 598h0M626 599h0M626 600h0M626 601h0M626 602h0M626 603h0M626 604h0M626 605h0M626 606h0M626 607h0M626 608h0M626 612h0M626 613h0M626 614h0M626 615h0M626 617h0M626 618h0M626 622h0M626 624h0M626 628h0M626 634h0M626 635h0M626 636h0M627 570h0M627 573h0M627 575h0M627 578h0M627 581h0M627 583h0M627 584h0M627 586h0M627 589h0M627 591h0M627 592h0M627 593h0M627 594h0M627 595h0M627 596h0M627 597h0M627 598h0M627 599h0M627 600h0M627 601h0M627 602h0M627 603h0M627 604h0M627 605h0M627 606h0M627 607h0M627 610h0M627 611h0M627 612h0M627 614h0M627 634h0M627 635h0M627 637h0M628 579h0M628 581h0M628 585h0M628 588h0M628 593h0M628 594h0M628 596h0M628 597h0M628 598h0M628 599h0M628 600h0M628 601h0M628 602h0M628 603h0M628 604h0M628 605h0M628 606h0M628 607h0M628 608h0M628 609h0M628 611h0M628 612h0M628 613h0M628 615h0M628 620h0M628 635h0M628 636h0M629 570h0M629 579h0M629 582h0M629 583h0M629 585h0M629 586h0M629 587h0M629 589h0M629 590h0M629 591h0M629 592h0M629 593h0M629 595h0M629 596h0M629 598h0M629 599h0M629 600h0M629 601h0M629 602h0M629 603h0M629 605h0M629 607h0M629 608h0M629 609h0M629 610h0M629 612h0M629 613h0M629 617h0M629 618h0M629 635h0M629 636h0M629 637h0M630 574h0M630 576h0M630 579h0M630 582h0M630 587h0M630 588h0M630 591h0M630 592h0M630 593h0M630 594h0M630 595h0M630 596h0M630 598h0M630 599h0M630 601h0M630 602h0M630 603h0M630 604h0M630 605h0M630 607h0M630 608h0M630 610h0M630 612h0M630 613h0M630 614h0M630 615h0M630 618h0M630 633h0M631 580h0M631 583h0M631 586h0M631 588h0M631 590h0M631 591h0M631 592h0M631 593h0M631 594h0M631 596h0M631 598h0M631 599h0M631 600h0M631 601h0M631 602h0M631 603h0M631 604h0M631 605h0M631 606h0M631 608h0M631 610h0M631 611h0M631 614h0M631 618h0M631 622h0M631 623h0M631 631h0M631 636h0M631 637h0M632 575h0M632 582h0M632 587h0M632 588h0M632 589h0M632 590h0M632 592h0M632 593h0M632 594h0M632 595h0M632 596h0M632 597h0M632 598h0M632 600h0M632 602h0M632 603h0M632 604h0M632 605h0M632 607h0M632 609h0M632 610h0M632 612h0M632 613h0M632 615h0M632 618h0M632 634h0M632 636h0M632 637h0M633 569h0M633 580h0M633 582h0M633 584h0M633 587h0M633 588h0M633 589h0M633 590h0M633 591h0M633 592h0M633 593h0M633 595h0M633 596h0M633 597h0M633 598h0M633 599h0M633 600h0M633 602h0M633 603h0M633 604h0M633 605h0M633 608h0M633 610h0M633 611h0M633 612h0M633 616h0M633 627h0M633 636h0M633 637h0M634 576h0M634 580h0M634 583h0M634 585h0M634 586h0M634 587h0M634 588h0M634 590h0M634 591h0M634 592h0M634 594h0M634 595h0M634 596h0M634 597h0M634 598h0M634 599h0M634 600h0M634 601h0M634 602h0M634 603h0M634 604h0M634 605h0M634 606h0M634 608h0M634 609h0M634 611h0M634 614h0M634 615h0M634 618h0M634 620h0M634 623h0M634 630h0M634 633h0M634 635h0M634 637h0M635 575h0M635 577h0M635 583h0M635 584h0M635 587h0M635 588h0M635 589h0M635 590h0M635 592h0M635 593h0M635 594h0M635 595h0M635 596h0M635 597h0M635 600h0M635 601h0M635 603h0M635 604h0M635 605h0M635 606h0M635 607h0M635 608h0M635 609h0M635 610h0M635 612h0M635 613h0M635 622h0M635 623h0M635 637h0M636 572h0M636 576h0M636 578h0M636 583h0M636 584h0M636 587h0M636 588h0M636 589h0M636 590h0M636 591h0M636 593h0M636 594h0M636 595h0M636 596h0M636 597h0M636 598h0M636 599h0M636 600h0M636 601h0M636 602h0M636 603h0M636 605h0M636 606h0M636 607h0M636 608h0M636 609h0M636 610h0M636 611h0M636 613h0M636 615h0M636 616h0M636 620h0M637 578h0M637 579h0M637 582h0M637 584h0M637 585h0M637 587h0M637 589h0M637 590h0M637 591h0M637 592h0M637 593h0M637 594h0M637 595h0M637 596h0M637 598h0M637 599h0M637 600h0M637 602h0M637 603h0M637 604h0M637 605h0M637 606h0M637 607h0M637 608h0M637 610h0M637 611h0M637 616h0M637 629h0M637 634h0M637 635h0M637 636h0M637 637h0M638 580h0M638 581h0M638 583h0M638 584h0M638 585h0M638 586h0M638 591h0M638 592h0M638 597h0M638 598h0M638 599h0M638 600h0M638 601h0M638 602h0M638 603h0M638 605h0M638 606h0M638 609h0M638 611h0M638 613h0M638 616h0M638 618h0M638 627h0M638 635h0M638 636h0M638 637h0M639 564h0M639 577h0M639 580h0M639 581h0M639 582h0M639 583h0M639 584h0M639 585h0M639 586h0M639 589h0M639 590h0M639 591h0M639 592h0M639 593h0M639 594h0M639 595h0M639 597h0M639 598h0M639 599h0M639 600h0M639 601h0M639 602h0M639 603h0M639 604h0M639 606h0M639 608h0M639 620h0M639 637h0M640 566h0M640 576h0M640 583h0M640 585h0M640 587h0M640 588h0M640 589h0M640 591h0M640 592h0M640 593h0M640 596h0M640 598h0M640 599h0M640 600h0M640 601h0M640 602h0M640 604h0M640 605h0M640 607h0M640 608h0M640 610h0M640 611h0M640 613h0M640 615h0M640 617h0M640 637h0M641 578h0M641 580h0M641 581h0M641 584h0M641 586h0M641 587h0M641 589h0M641 590h0M641 591h0M641 593h0M641 595h0M641 596h0M641 598h0M641 600h0M641 602h0M641 603h0M641 606h0M641 607h0M641 608h0M641 609h0M641 610h0M641 611h0M641 612h0M641 614h0M641 616h0M641 625h0M641 635h0M642 577h0M642 582h0M642 583h0M642 584h0M642 586h0M642 587h0M642 588h0M642 590h0M642 592h0M642 593h0M642 594h0M642 595h0M642 596h0M642 598h0M642 601h0M642 603h0M642 604h0M642 605h0M642 606h0M642 607h0M642 609h0M642 611h0M642 613h0M642 620h0M642 635h0M642 636h0M643 575h0M643 577h0M643 583h0M643 585h0M643 587h0M643 588h0M643 589h0M643 590h0M643 591h0M643 594h0M643 596h0M643 597h0M643 598h0M643 600h0M643 601h0M643 602h0M643 606h0M643 607h0M643 608h0M643 610h0M643 611h0M643 617h0M643 634h0M643 636h0M643 637h0M644 575h0M644 576h0M644 580h0M644 584h0M644 587h0M644 589h0M644 592h0M644 595h0M644 597h0M644 599h0M644 602h0M644 603h0M644 604h0M644 605h0M644 606h0M644 615h0M644 616h0M644 636h0M645 577h0M645 581h0M645 583h0M645 588h0M645 589h0M645 592h0M645 593h0M645 595h0M645 596h0M645 597h0M645 598h0M645 599h0M645 600h0M645 601h0M645 605h0M645 606h0M645 607h0M645 635h0M645 636h0M646 575h0M646 586h0M646 589h0M646 590h0M646 593h0M646 596h0M646 597h0M646 598h0M646 599h0M646 602h0M646 603h0M646 607h0M646 608h0M646 611h0M646 615h0M646 617h0M647 572h0M647 574h0M647 580h0M647 583h0M647 587h0M647 589h0M647 590h0M647 591h0M647 592h0M647 595h0M647 596h0M647 598h0M647 599h0M647 601h0M647 604h0M647 606h0M647 607h0M647 617h0M647 636h0M648 582h0M648 584h0M648 585h0M648 586h0M648 587h0M648 589h0M648 591h0M648 593h0M648 594h0M648 595h0M648 596h0M648 597h0M648 598h0M648 600h0M648 601h0M648 602h0M648 603h0M648 604h0M648 607h0M648 609h0M648 633h0M648 637h0M649 555h0M649 575h0M649 578h0M649 580h0M649 584h0M649 585h0M649 586h0M649 587h0M649 590h0M649 591h0M649 592h0M649 593h0M649 594h0M649 599h0M649 600h0M649 601h0M649 604h0M649 606h0M649 613h0M649 636h0M650 571h0M650 581h0M650 590h0M650 593h0M650 595h0M650 596h0M650 599h0M650 600h0M650 603h0M650 605h0M650 611h0M650 637h0M651 570h0M651 576h0M651 583h0M651 587h0M651 592h0M651 593h0M651 594h0M651 597h0M651 598h0M651 601h0M651 606h0M651 620h0M651 635h0M651 637h0M652 576h0M652 579h0M652 586h0M652 588h0M652 589h0M652 590h0M652 591h0M652 594h0M652 596h0M652 598h0M652 600h0M652 602h0M652 607h0M652 615h0M653 559h0M653 587h0M653 589h0M653 590h0M653 593h0M653 596h0M653 598h0M653 600h0M653 605h0M653 606h0M653 630h0M653 635h0M653 637h0M654 570h0M654 574h0M654 594h0M654 596h0M654 602h0M654 609h0M654 633h0M654 634h0M654 635h0M654 636h0M654 637h0M655 578h0M655 580h0M655 588h0M655 589h0M655 593h0M655 594h0M655 595h0M655 601h0M655 603h0M655 608h0M655 637h0M656 580h0M656 588h0M656 591h0M656 593h0M656 596h0M656 598h0M656 606h0M656 637h0M657 575h0M657 592h0M657 593h0M657 598h0M657 604h0M657 605h0M657 612h0M657 633h0M657 635h0M657 636h0M658 579h0M658 586h0M658 598h0M658 607h0M658 620h0M658 632h0M658 633h0M658 636h0M659 570h0M659 583h0M659 594h0M659 597h0M659 636h0M660 593h0M660 600h0M660 601h0M660 611h0M660 636h0M661 592h0M661 596h0M661 633h0M661 635h0M661 636h0M662 593h0M662 594h0M662 597h0M662 598h0M662 606h0M663 565h0M663 593h0M663 594h0M663 635h0M663 637h0M664 579h0M664 600h0M665 592h0M665 631h0M665 636h0M666 598h0M666 609h0M666 633h0M666 634h0M666 637h0M667 583h0M667 589h0M667 629h0M667 637h0M668 574h0M668 633h0M668 637h0M669 582h0M669 586h0M669 632h0M670 637h0M671 585h0M671 634h0M671 635h0M672 593h0M672 602h0M672 603h0M672 633h0M672 634h0M672 637h0M673 635h0M673 636h0M673 637h0M674 634h0M674 635h0M674 637h0M675 627h0M675 636h0M676 631h0M676 636h0M676 637h0M677 637h0M678 636h0M679 635h0M679 636h0M679 637h0M680 632h0M680 633h0M680 634h0M681 633h0M681 636h0M681 637h0M682 636h0M682 637h0M683 637h0M684 632h0M684 633h0" stroke="#d42d1e" stroke-width="1.7" stroke-linecap="square" fill="none"/>
<path d="M592 617h0M594 617h0M595 607h0M595 616h0M595 619h0M595 622h0M596 605h0M596 612h0M596 613h0M596 619h0M597 620h0M597 625h0M598 593h0M598 607h0M598 612h0M598 631h0M598 632h0M599 609h0M599 616h0M600 613h0M600 617h0M601 612h0M601 613h0M601 621h0M601 623h0M601 629h0M602 593h0M602 609h0M602 613h0M602 632h0M602 637h0M603 586h0M603 622h0M603 629h0M603 633h0M603 635h0M604 587h0M604 596h0M604 611h0M604 613h0M604 622h0M604 627h0M604 637h0M605 575h0M605 588h0M605 595h0M605 600h0M605 602h0M605 603h0M605 605h0M605 623h0M606 585h0M606 601h0M606 603h0M606 609h0M606 624h0M606 625h0M606 632h0M607 585h0M607 592h0M607 594h0M607 609h0M607 615h0M607 623h0M608 582h0M608 602h0M608 609h0M609 583h0M609 603h0M609 610h0M609 611h0M609 619h0M609 622h0M609 626h0M609 633h0M609 636h0M610 595h0M610 598h0M610 602h0M610 603h0M610 606h0M610 619h0M610 629h0M611 597h0M611 598h0M611 602h0M611 603h0M611 611h0M611 618h0M611 619h0M611 627h0M612 579h0M612 598h0M612 604h0M612 609h0M612 611h0M612 613h0M612 616h0M612 618h0M612 636h0M613 585h0M613 591h0M613 602h0M613 606h0M613 612h0M613 615h0M613 616h0M613 617h0M613 618h0M613 631h0M613 632h0M613 633h0M614 587h0M614 601h0M614 607h0M614 608h0M614 610h0M614 611h0M614 617h0M615 591h0M615 593h0M615 597h0M615 607h0M615 621h0M615 623h0M615 627h0M616 553h0M616 583h0M616 586h0M616 602h0M616 605h0M616 610h0M616 611h0M616 620h0M616 622h0M616 631h0M617 567h0M617 593h0M617 601h0M617 606h0M617 608h0M617 610h0M617 611h0M617 614h0M617 618h0M617 620h0M617 625h0M617 627h0M617 632h0M618 599h0M618 600h0M618 601h0M618 602h0M618 604h0M618 607h0M618 610h0M618 611h0M618 614h0M618 625h0M618 633h0M619 577h0M619 585h0M619 586h0M619 594h0M619 606h0M619 607h0M619 609h0M619 613h0M619 615h0M619 619h0M619 624h0M619 626h0M619 631h0M620 585h0M620 592h0M620 594h0M620 597h0M620 600h0M620 601h0M620 604h0M620 607h0M620 633h0M621 588h0M621 591h0M621 602h0M621 604h0M621 611h0M621 612h0M621 621h0M621 624h0M621 636h0M622 577h0M622 585h0M622 597h0M622 600h0M622 601h0M622 602h0M622 606h0M622 609h0M622 611h0M622 615h0M622 616h0M622 617h0M622 620h0M622 621h0M622 625h0M623 567h0M623 595h0M623 597h0M623 599h0M623 601h0M623 606h0M623 608h0M623 609h0M623 610h0M623 618h0M623 620h0M623 621h0M623 623h0M623 624h0M623 625h0M623 628h0M623 629h0M624 560h0M624 576h0M624 596h0M624 597h0M624 602h0M624 604h0M624 609h0M624 611h0M624 615h0M624 621h0M624 623h0M624 635h0M625 568h0M625 590h0M625 591h0M625 596h0M625 598h0M625 601h0M625 604h0M625 606h0M625 607h0M625 610h0M625 611h0M625 612h0M625 616h0M625 617h0M625 621h0M625 625h0M625 627h0M625 631h0M626 557h0M626 594h0M626 599h0M626 603h0M626 611h0M626 613h0M626 617h0M626 618h0M626 619h0M626 626h0M626 627h0M627 581h0M627 585h0M627 598h0M627 599h0M627 602h0M627 605h0M627 614h0M627 618h0M627 633h0M627 637h0M628 573h0M628 584h0M628 587h0M628 604h0M628 607h0M628 610h0M628 614h0M628 615h0M628 618h0M628 622h0M628 629h0M628 634h0M629 592h0M629 599h0M629 600h0M629 602h0M629 610h0M629 615h0M629 616h0M629 620h0M629 628h0M630 557h0M630 577h0M630 584h0M630 587h0M630 593h0M630 605h0M630 610h0M630 611h0M630 612h0M630 617h0M630 625h0M630 634h0M631 551h0M631 579h0M631 586h0M631 593h0M631 596h0M631 602h0M631 604h0M631 606h0M631 607h0M631 609h0M631 610h0M631 612h0M631 615h0M631 617h0M631 622h0M631 624h0M631 627h0M631 631h0M631 637h0M632 590h0M632 595h0M632 601h0M632 603h0M632 615h0M632 616h0M632 621h0M632 624h0M632 626h0M632 628h0M633 584h0M633 591h0M633 597h0M633 598h0M633 599h0M633 600h0M633 601h0M633 602h0M633 603h0M633 604h0M633 605h0M633 610h0M633 611h0M633 613h0M633 615h0M633 624h0M633 629h0M633 632h0M634 563h0M634 564h0M634 581h0M634 589h0M634 593h0M634 595h0M634 600h0M634 610h0M634 614h0M634 622h0M634 623h0M634 626h0M634 629h0M634 630h0M634 632h0M634 635h0M635 562h0M635 575h0M635 581h0M635 593h0M635 595h0M635 596h0M635 597h0M635 602h0M635 604h0M635 606h0M635 615h0M635 616h0M635 617h0M635 619h0M635 621h0M636 581h0M636 585h0M636 588h0M636 595h0M636 596h0M636 600h0M636 601h0M636 602h0M636 603h0M636 605h0M636 608h0M636 610h0M636 611h0M636 614h0M636 623h0M636 624h0M636 625h0M636 626h0M636 627h0M636 629h0M637 561h0M637 584h0M637 587h0M637 591h0M637 592h0M637 593h0M637 596h0M637 597h0M637 601h0M637 603h0M637 608h0M637 611h0M637 613h0M637 618h0M637 620h0M637 623h0M637 634h0M638 603h0M638 604h0M638 609h0M638 610h0M638 611h0M638 612h0M638 617h0M638 618h0M638 620h0M638 622h0M638 629h0M638 630h0M638 631h0M638 634h0M639 556h0M639 578h0M639 586h0M639 587h0M639 589h0M639 591h0M639 593h0M639 594h0M639 598h0M639 603h0M639 605h0M639 606h0M639 607h0M639 610h0M639 615h0M639 617h0M639 618h0M639 621h0M639 623h0M640 558h0M640 572h0M640 593h0M640 599h0M640 602h0M640 603h0M640 608h0M640 609h0M640 615h0M640 617h0M640 622h0M640 624h0M640 632h0M641 566h0M641 587h0M641 590h0M641 591h0M641 601h0M641 611h0M641 612h0M641 613h0M641 616h0M641 617h0M641 619h0M642 551h0M642 564h0M642 568h0M642 577h0M642 589h0M642 592h0M642 595h0M642 599h0M642 600h0M642 605h0M642 607h0M642 609h0M642 617h0M642 618h0M642 628h0M642 631h0M643 591h0M643 594h0M643 597h0M643 599h0M643 602h0M643 603h0M643 607h0M643 608h0M643 609h0M643 611h0M643 612h0M643 616h0M643 619h0M643 620h0M643 622h0M643 629h0M643 630h0M643 635h0M643 637h0M644 559h0M644 561h0M644 565h0M644 592h0M644 593h0M644 594h0M644 597h0M644 610h0M644 611h0M644 617h0M645 547h0M645 586h0M645 589h0M645 592h0M645 599h0M645 607h0M645 608h0M645 618h0M646 540h0M646 562h0M646 585h0M646 587h0M646 593h0M646 596h0M646 599h0M646 603h0M646 606h0M646 611h0M646 612h0M646 615h0M646 621h0M646 636h0M647 555h0M647 564h0M647 572h0M647 583h0M647 587h0M647 589h0M647 601h0M647 609h0M647 612h0M647 613h0M647 614h0M647 621h0M647 627h0M648 552h0M648 562h0M648 563h0M648 566h0M648 570h0M648 579h0M648 585h0M648 589h0M648 591h0M648 595h0M648 602h0M648 603h0M648 612h0M648 615h0M648 625h0M648 629h0M648 633h0M649 569h0M649 578h0M649 589h0M649 594h0M649 595h0M649 596h0M649 600h0M649 601h0M649 608h0M649 611h0M649 614h0M649 615h0M649 631h0M650 575h0M650 587h0M650 593h0M650 603h0M650 607h0M650 608h0M650 609h0M650 613h0M650 616h0M650 617h0M650 621h0M650 622h0M650 624h0M651 555h0M651 562h0M651 590h0M651 598h0M651 600h0M651 601h0M651 604h0M651 605h0M651 606h0M651 607h0M651 608h0M651 609h0M651 613h0M651 615h0M651 618h0M651 619h0M651 622h0M651 628h0M652 555h0M652 585h0M652 586h0M652 593h0M652 595h0M652 597h0M652 600h0M652 602h0M652 604h0M652 605h0M652 609h0M652 610h0M652 613h0M652 617h0M652 628h0M653 549h0M653 550h0M653 551h0M653 553h0M653 554h0M653 561h0M653 564h0M653 566h0M653 569h0M653 578h0M653 583h0M653 599h0M653 601h0M653 602h0M653 604h0M653 612h0M653 614h0M653 617h0M653 618h0M653 627h0M653 630h0M654 550h0M654 554h0M654 555h0M654 558h0M654 561h0M654 584h0M654 589h0M654 599h0M654 605h0M654 606h0M654 609h0M654 610h0M654 612h0M654 614h0M654 616h0M654 617h0M654 626h0M654 628h0M654 631h0M654 632h0M655 553h0M655 557h0M655 563h0M655 569h0M655 579h0M655 588h0M655 590h0M655 593h0M655 611h0M655 612h0M655 620h0M655 624h0M655 628h0M656 555h0M656 559h0M656 560h0M656 573h0M656 577h0M656 591h0M656 594h0M656 595h0M656 597h0M656 599h0M656 604h0M656 605h0M656 608h0M656 612h0M656 620h0M656 621h0M656 623h0M656 634h0M656 637h0M657 563h0M657 571h0M657 590h0M657 591h0M657 595h0M657 597h0M657 598h0M657 601h0M657 604h0M657 606h0M657 610h0M657 612h0M657 614h0M657 620h0M657 622h0M657 627h0M657 630h0M658 555h0M658 577h0M658 589h0M658 597h0M658 598h0M658 601h0M658 604h0M658 610h0M658 628h0M659 584h0M659 591h0M659 595h0M659 597h0M659 598h0M659 600h0M659 602h0M659 604h0M659 606h0M659 609h0M659 616h0M659 624h0M660 545h0M660 548h0M660 550h0M660 562h0M660 563h0M660 583h0M660 591h0M660 593h0M660 608h0M660 612h0M660 619h0M660 622h0M660 624h0M660 630h0M660 631h0M661 564h0M661 591h0M661 601h0M661 620h0M661 621h0M662 539h0M662 546h0M662 550h0M662 559h0M662 563h0M662 589h0M662 593h0M662 602h0M662 607h0M662 610h0M662 617h0M662 619h0M662 631h0M663 549h0M663 553h0M663 554h0M663 579h0M663 599h0M663 600h0M663 601h0M663 610h0M663 629h0M664 544h0M664 553h0M664 566h0M664 593h0M664 597h0M664 599h0M664 600h0M664 602h0M664 603h0M664 606h0M664 619h0M664 621h0M664 624h0M664 625h0M665 545h0M665 549h0M665 589h0M665 591h0M665 608h0M665 621h0M665 623h0M666 567h0M666 593h0M666 595h0M666 600h0M666 605h0M666 609h0M666 614h0M666 633h0M667 543h0M667 550h0M667 556h0M667 598h0M667 601h0M667 629h0M668 546h0M668 553h0M668 556h0M668 562h0M668 586h0M668 597h0M668 604h0M668 614h0M668 620h0M668 622h0M668 624h0M668 630h0M669 544h0M669 552h0M669 554h0M669 592h0M669 601h0M669 605h0M669 606h0M669 614h0M670 533h0M670 558h0M670 590h0M670 614h0M670 618h0M671 547h0M671 586h0M671 596h0M671 598h0M671 610h0M672 595h0M672 607h0M672 608h0M672 610h0M672 612h0M672 631h0M673 533h0M673 544h0M673 552h0M673 553h0M673 587h0M673 591h0M673 600h0M673 611h0M673 614h0M674 546h0M674 547h0M674 549h0M674 555h0M674 598h0M674 610h0M674 612h0M674 619h0M675 537h0M675 546h0M675 548h0M675 559h0M675 574h0M675 594h0M676 537h0M676 547h0M676 548h0M676 555h0M676 562h0M676 595h0M676 601h0M676 606h0M676 622h0M677 611h0M678 549h0M678 588h0M679 587h0M680 545h0M680 552h0M680 560h0M681 540h0M681 544h0M682 580h0M682 584h0M682 606h0M683 553h0M683 603h0M683 610h0M683 619h0M684 527h0M684 551h0M684 583h0M684 590h0M684 619h0M685 550h0M685 557h0M685 595h0M685 604h0M686 543h0M686 554h0M686 592h0M686 597h0M686 604h0M686 606h0M686 612h0M687 630h0M688 543h0M688 637h0M689 547h0M689 595h0M690 594h0M691 541h0M691 600h0M692 606h0M692 636h0M692 637h0M693 637h0M694 636h0M694 637h0M695 592h0M697 637h0M698 531h0M698 596h0M700 637h0M701 637h0M702 608h0M702 637h0M703 637h0M704 637h0M705 544h0M705 636h0M707 637h0M709 543h0M710 637h0M711 535h0M712 637h0M717 637h0M718 637h0M720 637h0M722 636h0M724 637h0M725 637h0M726 637h0M727 637h0M729 637h0M733 635h0M734 637h0M737 637h0M745 636h0M745 637h0M746 637h0M748 637h0" stroke="#b02820" stroke-width="1.7" stroke-linecap="square" fill="none"/>
<path d="M683 504h0M684 539h0M686 540h0M686 572h0M689 591h0M690 585h0M691 611h0M692 606h0M693 556h0M693 591h0M693 607h0M693 625h0M694 542h0M694 571h0M694 602h0M695 552h0M695 564h0M696 511h0M697 519h0M697 545h0M697 595h0M698 511h0M698 526h0M698 541h0M699 577h0M699 611h0M700 538h0M700 587h0M701 631h0M702 544h0M702 594h0M703 536h0M703 604h0M704 499h0M704 522h0M704 527h0M704 529h0M705 517h0M706 522h0M706 533h0M706 556h0M706 623h0M706 635h0M707 543h0M707 552h0M707 565h0M708 524h0M708 531h0M709 529h0M709 549h0M709 552h0M709 575h0M709 601h0M709 605h0M710 534h0M710 541h0M710 572h0M711 506h0M711 520h0M711 527h0M711 528h0M711 529h0M711 560h0M711 591h0M712 470h0M712 515h0M712 525h0M712 552h0M713 487h0M713 523h0M713 539h0M714 542h0M715 510h0M715 520h0M716 543h0M716 549h0M716 578h0M716 584h0M717 606h0M718 536h0M718 600h0M719 519h0M720 527h0M720 549h0M721 517h0M721 528h0M721 530h0M721 545h0M721 556h0M721 575h0M721 626h0M721 630h0M722 539h0M722 594h0M723 522h0M723 528h0M723 531h0M723 577h0M723 590h0M723 626h0M724 543h0M724 586h0M725 580h0M726 504h0M726 538h0M727 539h0M727 626h0M728 545h0M729 632h0M730 524h0M731 518h0M731 546h0M731 608h0M732 489h0M732 511h0M732 544h0M734 523h0M734 541h0M735 514h0M736 535h0M736 544h0M737 529h0M737 544h0M737 613h0M737 619h0M738 511h0M739 510h0M740 509h0M741 617h0M741 625h0M742 506h0M742 522h0M742 556h0M742 557h0M743 595h0M744 533h0M744 535h0M744 548h0M744 560h0M744 561h0M744 584h0M744 605h0M745 605h0M747 506h0M747 521h0M748 540h0M748 554h0M748 565h0M749 515h0M749 528h0M749 560h0M749 564h0M750 509h0M750 544h0M750 596h0M750 636h0M751 511h0M751 541h0M751 602h0M752 517h0M752 562h0M753 523h0M753 586h0M754 591h0M757 594h0" stroke="#74303a" stroke-width="1.7" stroke-linecap="square" fill="none"/>
<line x1="685.1" y1="455.7" x2="685.1" y2="638.4" stroke="#000" stroke-width="1.3" stroke-linecap="butt"/>
<line x1="591.2" y1="568.8" x2="761.0" y2="568.8" stroke="#000" stroke-width="1.3" stroke-linecap="butt"/>
<rect x="591.2" y="455.7" width="169.8" height="182.7" fill="none" stroke="#000" stroke-width="1.3"/>
<line x1="604.0" y1="638.4" x2="604.0" y2="641.2" stroke="#000" stroke-width="1" stroke-linecap="butt"/>
<line x1="611.5" y1="638.4" x2="611.5" y2="641.2" stroke="#000" stroke-width="1" stroke-linecap="butt"/>
<line x1="616.8" y1="638.4" x2="616.8" y2="641.2" stroke="#000" stroke-width="1" stroke-linecap="butt"/>
<line x1="620.9" y1="638.4" x2="620.9" y2="641.2" stroke="#000" stroke-width="1" stroke-linecap="butt"/>
<line x1="624.2" y1="638.4" x2="624.2" y2="641.2" stroke="#000" stroke-width="1" stroke-linecap="butt"/>
<line x1="627.1" y1="638.4" x2="627.1" y2="641.2" stroke="#000" stroke-width="1" stroke-linecap="butt"/>
<line x1="629.5" y1="638.4" x2="629.5" y2="641.2" stroke="#000" stroke-width="1" stroke-linecap="butt"/>
<line x1="631.7" y1="638.4" x2="631.7" y2="641.2" stroke="#000" stroke-width="1" stroke-linecap="butt"/>
<line x1="591.2" y1="638.4" x2="591.2" y2="642.4" stroke="#000" stroke-width="1.2" stroke-linecap="butt"/>
<line x1="588.4" y1="624.6" x2="591.2" y2="624.6" stroke="#000" stroke-width="1" stroke-linecap="butt"/>
<line x1="588.4" y1="616.6" x2="591.2" y2="616.6" stroke="#000" stroke-width="1" stroke-linecap="butt"/>
<line x1="588.4" y1="610.9" x2="591.2" y2="610.9" stroke="#000" stroke-width="1" stroke-linecap="butt"/>
<line x1="588.4" y1="606.5" x2="591.2" y2="606.5" stroke="#000" stroke-width="1" stroke-linecap="butt"/>
<line x1="588.4" y1="602.8" x2="591.2" y2="602.8" stroke="#000" stroke-width="1" stroke-linecap="butt"/>
<line x1="588.4" y1="599.8" x2="591.2" y2="599.8" stroke="#000" stroke-width="1" stroke-linecap="butt"/>
<line x1="588.4" y1="597.1" x2="591.2" y2="597.1" stroke="#000" stroke-width="1" stroke-linecap="butt"/>
<line x1="588.4" y1="594.8" x2="591.2" y2="594.8" stroke="#000" stroke-width="1" stroke-linecap="butt"/>
<line x1="587.2" y1="638.4" x2="591.2" y2="638.4" stroke="#000" stroke-width="1.2" stroke-linecap="butt"/>
<line x1="646.4" y1="638.4" x2="646.4" y2="641.2" stroke="#000" stroke-width="1" stroke-linecap="butt"/>
<line x1="653.9" y1="638.4" x2="653.9" y2="641.2" stroke="#000" stroke-width="1" stroke-linecap="butt"/>
<line x1="659.2" y1="638.4" x2="659.2" y2="641.2" stroke="#000" stroke-width="1" stroke-linecap="butt"/>
<line x1="663.3" y1="638.4" x2="663.3" y2="641.2" stroke="#000" stroke-width="1" stroke-linecap="butt"/>
<line x1="666.7" y1="638.4" x2="666.7" y2="641.2" stroke="#000" stroke-width="1" stroke-linecap="butt"/>
<line x1="669.5" y1="638.4" x2="669.5" y2="641.2" stroke="#000" stroke-width="1" stroke-linecap="butt"/>
<line x1="672.0" y1="638.4" x2="672.0" y2="641.2" stroke="#000" stroke-width="1" stroke-linecap="butt"/>
<line x1="674.2" y1="638.4" x2="674.2" y2="641.2" stroke="#000" stroke-width="1" stroke-linecap="butt"/>
<line x1="633.7" y1="638.4" x2="633.7" y2="642.4" stroke="#000" stroke-width="1.2" stroke-linecap="butt"/>
<line x1="588.4" y1="578.9" x2="591.2" y2="578.9" stroke="#000" stroke-width="1" stroke-linecap="butt"/>
<line x1="588.4" y1="570.9" x2="591.2" y2="570.9" stroke="#000" stroke-width="1" stroke-linecap="butt"/>
<line x1="588.4" y1="565.2" x2="591.2" y2="565.2" stroke="#000" stroke-width="1" stroke-linecap="butt"/>
<line x1="588.4" y1="560.8" x2="591.2" y2="560.8" stroke="#000" stroke-width="1" stroke-linecap="butt"/>
<line x1="588.4" y1="557.1" x2="591.2" y2="557.1" stroke="#000" stroke-width="1" stroke-linecap="butt"/>
<line x1="588.4" y1="554.1" x2="591.2" y2="554.1" stroke="#000" stroke-width="1" stroke-linecap="butt"/>
<line x1="588.4" y1="551.4" x2="591.2" y2="551.4" stroke="#000" stroke-width="1" stroke-linecap="butt"/>
<line x1="588.4" y1="549.1" x2="591.2" y2="549.1" stroke="#000" stroke-width="1" stroke-linecap="butt"/>
<line x1="587.2" y1="592.7" x2="591.2" y2="592.7" stroke="#000" stroke-width="1.2" stroke-linecap="butt"/>
<line x1="688.9" y1="638.4" x2="688.9" y2="641.2" stroke="#000" stroke-width="1" stroke-linecap="butt"/>
<line x1="696.4" y1="638.4" x2="696.4" y2="641.2" stroke="#000" stroke-width="1" stroke-linecap="butt"/>
<line x1="701.7" y1="638.4" x2="701.7" y2="641.2" stroke="#000" stroke-width="1" stroke-linecap="butt"/>
<line x1="705.8" y1="638.4" x2="705.8" y2="641.2" stroke="#000" stroke-width="1" stroke-linecap="butt"/>
<line x1="709.1" y1="638.4" x2="709.1" y2="641.2" stroke="#000" stroke-width="1" stroke-linecap="butt"/>
<line x1="712.0" y1="638.4" x2="712.0" y2="641.2" stroke="#000" stroke-width="1" stroke-linecap="butt"/>
<line x1="714.4" y1="638.4" x2="714.4" y2="641.2" stroke="#000" stroke-width="1" stroke-linecap="butt"/>
<line x1="716.6" y1="638.4" x2="716.6" y2="641.2" stroke="#000" stroke-width="1" stroke-linecap="butt"/>
<line x1="676.1" y1="638.4" x2="676.1" y2="642.4" stroke="#000" stroke-width="1.2" stroke-linecap="butt"/>
<line x1="588.4" y1="533.2" x2="591.2" y2="533.2" stroke="#000" stroke-width="1" stroke-linecap="butt"/>
<line x1="588.4" y1="525.2" x2="591.2" y2="525.2" stroke="#000" stroke-width="1" stroke-linecap="butt"/>
<line x1="588.4" y1="519.5" x2="591.2" y2="519.5" stroke="#000" stroke-width="1" stroke-linecap="butt"/>
<line x1="588.4" y1="515.1" x2="591.2" y2="515.1" stroke="#000" stroke-width="1" stroke-linecap="butt"/>
<line x1="588.4" y1="511.4" x2="591.2" y2="511.4" stroke="#000" stroke-width="1" stroke-linecap="butt"/>
<line x1="588.4" y1="508.4" x2="591.2" y2="508.4" stroke="#000" stroke-width="1" stroke-linecap="butt"/>
<line x1="588.4" y1="505.7" x2="591.2" y2="505.7" stroke="#000" stroke-width="1" stroke-linecap="butt"/>
<line x1="588.4" y1="503.4" x2="591.2" y2="503.4" stroke="#000" stroke-width="1" stroke-linecap="butt"/>
<line x1="587.2" y1="547.0" x2="591.2" y2="547.0" stroke="#000" stroke-width="1.2" stroke-linecap="butt"/>
<line x1="731.3" y1="638.4" x2="731.3" y2="641.2" stroke="#000" stroke-width="1" stroke-linecap="butt"/>
<line x1="738.8" y1="638.4" x2="738.8" y2="641.2" stroke="#000" stroke-width="1" stroke-linecap="butt"/>
<line x1="744.1" y1="638.4" x2="744.1" y2="641.2" stroke="#000" stroke-width="1" stroke-linecap="butt"/>
<line x1="748.2" y1="638.4" x2="748.2" y2="641.2" stroke="#000" stroke-width="1" stroke-linecap="butt"/>
<line x1="751.6" y1="638.4" x2="751.6" y2="641.2" stroke="#000" stroke-width="1" stroke-linecap="butt"/>
<line x1="754.4" y1="638.4" x2="754.4" y2="641.2" stroke="#000" stroke-width="1" stroke-linecap="butt"/>
<line x1="756.9" y1="638.4" x2="756.9" y2="641.2" stroke="#000" stroke-width="1" stroke-linecap="butt"/>
<line x1="759.1" y1="638.4" x2="759.1" y2="641.2" stroke="#000" stroke-width="1" stroke-linecap="butt"/>
<line x1="718.6" y1="638.4" x2="718.6" y2="642.4" stroke="#000" stroke-width="1.2" stroke-linecap="butt"/>
<line x1="588.4" y1="487.5" x2="591.2" y2="487.5" stroke="#000" stroke-width="1" stroke-linecap="butt"/>
<line x1="588.4" y1="479.5" x2="591.2" y2="479.5" stroke="#000" stroke-width="1" stroke-linecap="butt"/>
<line x1="588.4" y1="473.8" x2="591.2" y2="473.8" stroke="#000" stroke-width="1" stroke-linecap="butt"/>
<line x1="588.4" y1="469.4" x2="591.2" y2="469.4" stroke="#000" stroke-width="1" stroke-linecap="butt"/>
<line x1="588.4" y1="465.7" x2="591.2" y2="465.7" stroke="#000" stroke-width="1" stroke-linecap="butt"/>
<line x1="588.4" y1="462.7" x2="591.2" y2="462.7" stroke="#000" stroke-width="1" stroke-linecap="butt"/>
<line x1="588.4" y1="460.0" x2="591.2" y2="460.0" stroke="#000" stroke-width="1" stroke-linecap="butt"/>
<line x1="588.4" y1="457.7" x2="591.2" y2="457.7" stroke="#000" stroke-width="1" stroke-linecap="butt"/>
<line x1="587.2" y1="501.3" x2="591.2" y2="501.3" stroke="#000" stroke-width="1.2" stroke-linecap="butt"/>
<line x1="761.0" y1="638.4" x2="761.0" y2="642.4" stroke="#000" stroke-width="1.2" stroke-linecap="butt"/>
<line x1="587.2" y1="455.6" x2="591.2" y2="455.6" stroke="#000" stroke-width="1.2" stroke-linecap="butt"/>
<text x="328.3" y="661.5" font-family='"Liberation Sans",sans-serif' font-size="11.9" font-weight="bold" text-anchor="middle" fill="#000" textLength="9.7" lengthAdjust="spacingAndGlyphs">10</text>
<text x="335.4" y="654.3" font-family='"Liberation Sans",sans-serif' font-size="10" font-weight="bold" text-anchor="middle" fill="#000" textLength="4.6" lengthAdjust="spacingAndGlyphs">0</text>
<text x="589.5" y="657.7" font-family='"Liberation Sans",sans-serif' font-size="11.9" font-weight="bold" text-anchor="middle" fill="#000" textLength="9.7" lengthAdjust="spacingAndGlyphs">10</text>
<text x="596.6" y="650.5" font-family='"Liberation Sans",sans-serif' font-size="10" font-weight="bold" text-anchor="middle" fill="#000" textLength="4.6" lengthAdjust="spacingAndGlyphs">0</text>
<text x="370.7" y="661.5" font-family='"Liberation Sans",sans-serif' font-size="11.9" font-weight="bold" text-anchor="middle" fill="#000" textLength="9.7" lengthAdjust="spacingAndGlyphs">10</text>
<text x="377.8" y="654.3" font-family='"Liberation Sans",sans-serif' font-size="10" font-weight="bold" text-anchor="middle" fill="#000" textLength="4.6" lengthAdjust="spacingAndGlyphs">1</text>
<text x="632.0" y="657.7" font-family='"Liberation Sans",sans-serif' font-size="11.9" font-weight="bold" text-anchor="middle" fill="#000" textLength="9.7" lengthAdjust="spacingAndGlyphs">10</text>
<text x="639.1" y="650.5" font-family='"Liberation Sans",sans-serif' font-size="10" font-weight="bold" text-anchor="middle" fill="#000" textLength="4.6" lengthAdjust="spacingAndGlyphs">1</text>
<text x="413.0" y="661.5" font-family='"Liberation Sans",sans-serif' font-size="11.9" font-weight="bold" text-anchor="middle" fill="#000" textLength="9.7" lengthAdjust="spacingAndGlyphs">10</text>
<text x="420.1" y="654.3" font-family='"Liberation Sans",sans-serif' font-size="10" font-weight="bold" text-anchor="middle" fill="#000" textLength="4.6" lengthAdjust="spacingAndGlyphs">2</text>
<text x="674.4" y="657.7" font-family='"Liberation Sans",sans-serif' font-size="11.9" font-weight="bold" text-anchor="middle" fill="#000" textLength="9.7" lengthAdjust="spacingAndGlyphs">10</text>
<text x="681.5" y="650.5" font-family='"Liberation Sans",sans-serif' font-size="10" font-weight="bold" text-anchor="middle" fill="#000" textLength="4.6" lengthAdjust="spacingAndGlyphs">2</text>
<text x="455.4" y="661.5" font-family='"Liberation Sans",sans-serif' font-size="11.9" font-weight="bold" text-anchor="middle" fill="#000" textLength="9.7" lengthAdjust="spacingAndGlyphs">10</text>
<text x="462.4" y="654.3" font-family='"Liberation Sans",sans-serif' font-size="10" font-weight="bold" text-anchor="middle" fill="#000" textLength="4.6" lengthAdjust="spacingAndGlyphs">3</text>
<text x="716.9" y="657.7" font-family='"Liberation Sans",sans-serif' font-size="11.9" font-weight="bold" text-anchor="middle" fill="#000" textLength="9.7" lengthAdjust="spacingAndGlyphs">10</text>
<text x="724.0" y="650.5" font-family='"Liberation Sans",sans-serif' font-size="10" font-weight="bold" text-anchor="middle" fill="#000" textLength="4.6" lengthAdjust="spacingAndGlyphs">3</text>
<text x="497.7" y="661.5" font-family='"Liberation Sans",sans-serif' font-size="11.9" font-weight="bold" text-anchor="middle" fill="#000" textLength="9.7" lengthAdjust="spacingAndGlyphs">10</text>
<text x="504.8" y="654.3" font-family='"Liberation Sans",sans-serif' font-size="10" font-weight="bold" text-anchor="middle" fill="#000" textLength="4.6" lengthAdjust="spacingAndGlyphs">4</text>
<text x="759.3" y="657.7" font-family='"Liberation Sans",sans-serif' font-size="11.9" font-weight="bold" text-anchor="middle" fill="#000" textLength="9.7" lengthAdjust="spacingAndGlyphs">10</text>
<text x="766.4" y="650.5" font-family='"Liberation Sans",sans-serif' font-size="10" font-weight="bold" text-anchor="middle" fill="#000" textLength="4.6" lengthAdjust="spacingAndGlyphs">4</text>
<g transform="translate(321.5,641.5) rotate(-90)"><text x="-3.25" y="0.4" font-family='"Liberation Sans",sans-serif' font-size="9.8" text-anchor="middle" font-weight="bold" textLength="10.9" lengthAdjust="spacingAndGlyphs">10</text><text x="5.6" y="-4.6" font-family='"Liberation Sans",sans-serif' font-size="9" text-anchor="middle" font-weight="bold">0</text></g>
<g transform="translate(583.2,638.4) rotate(-90)"><text x="-3.25" y="0.4" font-family='"Liberation Sans",sans-serif' font-size="9.8" text-anchor="middle" font-weight="bold" textLength="10.9" lengthAdjust="spacingAndGlyphs">10</text><text x="5.6" y="-4.6" font-family='"Liberation Sans",sans-serif' font-size="9" text-anchor="middle" font-weight="bold">0</text></g>
<g transform="translate(321.5,596.0) rotate(-90)"><text x="-3.25" y="0.4" font-family='"Liberation Sans",sans-serif' font-size="9.8" text-anchor="middle" font-weight="bold" textLength="10.9" lengthAdjust="spacingAndGlyphs">10</text><text x="5.6" y="-4.6" font-family='"Liberation Sans",sans-serif' font-size="9" text-anchor="middle" font-weight="bold">1</text></g>
<g transform="translate(583.2,592.7) rotate(-90)"><text x="-3.25" y="0.4" font-family='"Liberation Sans",sans-serif' font-size="9.8" text-anchor="middle" font-weight="bold" textLength="10.9" lengthAdjust="spacingAndGlyphs">10</text><text x="5.6" y="-4.6" font-family='"Liberation Sans",sans-serif' font-size="9" text-anchor="middle" font-weight="bold">1</text></g>
<g transform="translate(321.5,550.5) rotate(-90)"><text x="-3.25" y="0.4" font-family='"Liberation Sans",sans-serif' font-size="9.8" text-anchor="middle" font-weight="bold" textLength="10.9" lengthAdjust="spacingAndGlyphs">10</text><text x="5.6" y="-4.6" font-family='"Liberation Sans",sans-serif' font-size="9" text-anchor="middle" font-weight="bold">2</text></g>
<g transform="translate(583.2,547.0) rotate(-90)"><text x="-3.25" y="0.4" font-family='"Liberation Sans",sans-serif' font-size="9.8" text-anchor="middle" font-weight="bold" textLength="10.9" lengthAdjust="spacingAndGlyphs">10</text><text x="5.6" y="-4.6" font-family='"Liberation Sans",sans-serif' font-size="9" text-anchor="middle" font-weight="bold">2</text></g>
<g transform="translate(321.5,505.0) rotate(-90)"><text x="-3.25" y="0.4" font-family='"Liberation Sans",sans-serif' font-size="9.8" text-anchor="middle" font-weight="bold" textLength="10.9" lengthAdjust="spacingAndGlyphs">10</text><text x="5.6" y="-4.6" font-family='"Liberation Sans",sans-serif' font-size="9" text-anchor="middle" font-weight="bold">3</text></g>
<g transform="translate(583.2,501.3) rotate(-90)"><text x="-3.25" y="0.4" font-family='"Liberation Sans",sans-serif' font-size="9.8" text-anchor="middle" font-weight="bold" textLength="10.9" lengthAdjust="spacingAndGlyphs">10</text><text x="5.6" y="-4.6" font-family='"Liberation Sans",sans-serif' font-size="9" text-anchor="middle" font-weight="bold">3</text></g>
<g transform="translate(321.5,459.5) rotate(-90)"><text x="-4.4" y="0.4" font-family='"Liberation Sans",sans-serif' font-size="9.8" text-anchor="middle" font-weight="bold" textLength="10.9" lengthAdjust="spacingAndGlyphs">10</text></g>
<g transform="translate(583.2,455.6) rotate(-90)"><text x="-3.25" y="0.4" font-family='"Liberation Sans",sans-serif' font-size="9.8" text-anchor="middle" font-weight="bold" textLength="10.9" lengthAdjust="spacingAndGlyphs">10</text><text x="5.6" y="-4.6" font-family='"Liberation Sans",sans-serif' font-size="9" text-anchor="middle" font-weight="bold">4</text></g>
<text x="409.0" y="673.6" font-family='"Liberation Sans",sans-serif' font-size="10" font-weight="normal" text-anchor="middle" fill="#000" textLength="53.3" lengthAdjust="spacingAndGlyphs">Annexin-v-PE</text>
<text x="670.5" y="671.0" font-family='"Liberation Sans",sans-serif' font-size="10" font-weight="normal" text-anchor="middle" fill="#000" textLength="54" lengthAdjust="spacingAndGlyphs">Annexin-v-PE</text>
<text x="310.1" y="557.8" font-family='"Liberation Sans",sans-serif' font-size="9.5" font-weight="normal" text-anchor="middle" fill="#000" transform="rotate(-90 310.1 557.8)" textLength="33" lengthAdjust="spacingAndGlyphs">7-AAD</text>
<text x="571.4" y="554.9" font-family='"Liberation Sans",sans-serif' font-size="9.5" font-weight="normal" text-anchor="middle" fill="#000" transform="rotate(-90 571.4 554.9)" textLength="35" lengthAdjust="spacingAndGlyphs">7-AAD</text>
<text x="440.8" y="495.0" font-family='"Liberation Sans",sans-serif' font-size="24" font-weight="normal" text-anchor="start" fill="#000" stroke="#000" stroke-width="0.85" textLength="57" lengthAdjust="spacingAndGlyphs">10.30%</text>
<text x="450.5" y="595.6" font-family='"Liberation Sans",sans-serif' font-size="24" font-weight="normal" text-anchor="start" fill="#000" stroke="#000" stroke-width="0.85" textLength="49.3" lengthAdjust="spacingAndGlyphs">7.14%</text>
<text x="710.6" y="488.7" font-family='"Liberation Sans",sans-serif' font-size="19.5" font-weight="normal" text-anchor="start" fill="#000" stroke="#000" stroke-width="0.9" textLength="49.2" lengthAdjust="spacingAndGlyphs">0.96%</text>
<text x="711.2" y="593.8" font-family='"Liberation Sans",sans-serif' font-size="20" font-weight="normal" text-anchor="start" fill="#000" stroke="#000" stroke-width="0.9" textLength="48.6" lengthAdjust="spacingAndGlyphs">1.58%</text>
<text x="554.2" y="473.6" font-family='"Liberation Serif",serif' font-size="20" font-weight="bold" text-anchor="start" fill="#000">i</text>
<text x="269.8" y="474.0" font-family='"Liberation Serif",serif' font-size="21" font-weight="bold" text-anchor="start" fill="#000">h</text>
</svg></body></html>
